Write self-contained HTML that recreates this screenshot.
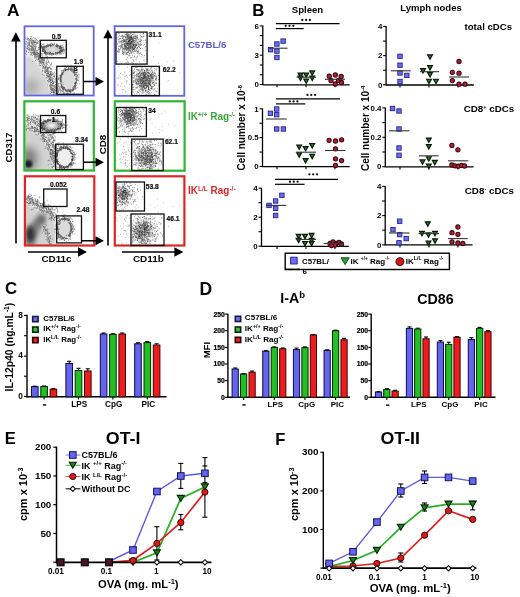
<!DOCTYPE html><html><head><meta charset="utf-8"><style>html,body{margin:0;padding:0;background:#fff;overflow:hidden;width:520px;height:597px;}svg{display:block;filter:blur(0.35px);}</style></head><body><svg width="520" height="597" viewBox="0 0 520 597" font-family="'Liberation Sans', sans-serif"><defs><filter id="b2" x="-50%" y="-50%" width="200%" height="200%"><feGaussianBlur stdDeviation="2.2"/></filter><filter id="b4" x="-50%" y="-50%" width="200%" height="200%"><feGaussianBlur stdDeviation="4"/></filter><filter id="b1" x="-50%" y="-50%" width="200%" height="200%"><feGaussianBlur stdDeviation="1.2"/></filter><clipPath id="c25"><rect x="25.3" y="26.8" width="67.5" height="68.8"/></clipPath><clipPath id="c100"><rect x="25.3" y="101.8" width="67.5" height="68.8"/></clipPath><clipPath id="c175"><rect x="25.3" y="176.8" width="67.5" height="68.8"/></clipPath></defs><text x="7" y="16.3" font-size="17.3" text-anchor="start" fill="#000" font-weight="bold" >A</text>
<line x1="16" y1="243.5" x2="16" y2="40" stroke="#000" stroke-width="1.6" />
<polygon points="15.90,32.20 11.10,41.50 20.70,41.50" fill="#000" stroke="none" stroke-width="1"/>
<text x="12.2" y="147.5" font-size="8.9" text-anchor="middle" fill="#000" font-weight="bold" transform="rotate(-90 12.2 147.5)" textLength="29.8" lengthAdjust="spacingAndGlyphs">CD317</text>
<line x1="28" y1="252" x2="80" y2="252" stroke="#000" stroke-width="1.6" />
<polygon points="87.00,252.00 78.00,247.30 78.00,256.70" fill="#000" stroke="none" stroke-width="1"/>
<text x="56.5" y="261.6" font-size="9.3" text-anchor="middle" fill="#000" font-weight="bold" textLength="30.2" lengthAdjust="spacingAndGlyphs">CD11c</text>
<line x1="108" y1="245.5" x2="108" y2="37" stroke="#000" stroke-width="1.6" />
<polygon points="107.90,29.50 103.40,38.30 112.50,38.30" fill="#000" stroke="none" stroke-width="1"/>
<text x="106.1" y="144.5" font-size="9.6" text-anchor="middle" fill="#000" font-weight="bold" transform="rotate(-90 106.1 144.5)" textLength="19.6" lengthAdjust="spacingAndGlyphs">CD8</text>
<line x1="122" y1="252" x2="176" y2="252" stroke="#000" stroke-width="1.6" />
<polygon points="183.40,252.00 174.40,247.30 174.40,256.70" fill="#000" stroke="none" stroke-width="1"/>
<text x="148.4" y="261.6" font-size="9.4" text-anchor="middle" fill="#000" font-weight="bold" textLength="31" lengthAdjust="spacingAndGlyphs">CD11b</text>
<g clip-path="url(#c25)">
<polygon points="24.0,40.0 32.0,42.0 40.0,50.0 46.0,58.0 52.0,68.0 57.0,78.0 59.0,88.0 58.0,98.0 24.0,98.0" fill="#eeeeee" filter="url(#b1)"/>
<polygon points="24.0,56.0 30.0,57.0 36.0,62.0 41.0,69.0 46.0,78.0 49.0,86.0 51.0,98.0 24.0,98.0" fill="#d6d6d6" filter="url(#b1)"/>
<ellipse cx="31" cy="87.0" rx="8" ry="8" fill="#aaaaaa" filter="url(#b4)"/>
<path d="M41.9 59.4h0M25.8 43.9h0M26.8 44.2h0M44.8 62.3h0M44.1 60.0h0M30.5 46.3h0M42.2 74.5h0M28.3 42.2h0M33.7 48.9h0M55.2 87.7h0M47.4 76.1h0M29.6 45.0h0M48.6 77.1h0M46.3 71.0h0M52.5 81.0h0M42.6 68.8h0M50.1 86.6h0M26.8 48.3h0M31.5 47.7h0M50.9 71.7h0M53.0 92.0h0M46.0 69.4h0M57.0 84.8h0M54.5 76.7h0M55.2 73.8h0M34.7 56.9h0M35.3 47.7h0M31.4 49.3h0M57.3 89.3h0M51.4 64.8h0M54.0 90.2h0M46.3 53.1h0M33.1 49.4h0M32.0 52.0h0M39.9 53.2h0M35.1 55.5h0M47.2 76.3h0M56.4 77.8h0M56.5 78.6h0M41.3 60.3h0M50.7 73.7h0M36.0 52.6h0M28.8 44.1h0M29.7 45.7h0M53.5 86.9h0M35.0 54.8h0M36.2 39.1h0M43.6 63.7h0M29.0 47.1h0M54.2 85.7h0M54.0 92.6h0M50.7 68.5h0M58.6 91.4h0M35.7 54.3h0M48.0 80.6h0M40.6 61.4h0M58.9 91.0h0M53.5 82.5h0M46.1 67.0h0M54.1 76.0h0M62.4 91.4h0M41.6 60.1h0M35.3 53.6h0M56.8 86.9h0M50.5 73.3h0M54.5 72.2h0M50.6 80.5h0M50.6 87.1h0M55.2 90.9h0M34.8 51.4h0M56.6 87.9h0M54.4 92.6h0M47.8 68.6h0M53.7 91.4h0M50.2 94.0h0M54.3 87.1h0M38.4 58.3h0M35.5 53.7h0M53.3 92.7h0M50.9 68.6h0M51.8 90.7h0M49.7 67.2h0M38.6 49.3h0M28.7 49.4h0M46.2 71.6h0M48.0 67.3h0M47.9 71.1h0M49.2 81.5h0M55.2 79.3h0M45.8 71.9h0M47.8 77.8h0M49.2 62.7h0M56.8 87.3h0M52.9 66.9h0M33.8 49.0h0M28.5 45.6h0M51.8 69.6h0M31.5 43.8h0M37.3 42.3h0M37.8 50.2h0M50.8 64.5h0M29.6 49.5h0M41.0 59.2h0M55.4 79.0h0M46.4 62.5h0M48.4 72.6h0M57.6 87.8h0M30.2 46.1h0M52.7 83.5h0M47.7 58.5h0M40.5 58.0h0M47.8 68.3h0M26.4 41.4h0M32.1 43.0h0M58.1 86.2h0M30.1 42.0h0M34.1 54.8h0M39.5 55.8h0M37.2 53.0h0M27.8 46.3h0M38.9 52.9h0M47.0 67.8h0M50.3 78.7h0M46.3 63.6h0M50.7 85.9h0M51.4 87.6h0M53.5 76.2h0M52.8 81.5h0M42.2 61.0h0M35.5 48.6h0M37.3 53.8h0M56.9 82.9h0M37.9 56.4h0M46.2 65.8h0M44.3 51.3h0M47.7 75.4h0M38.8 55.5h0M38.7 59.5h0M34.1 50.1h0M39.4 54.7h0M28.9 44.2h0M32.7 49.9h0M50.0 76.6h0M52.9 89.9h0M55.0 75.3h0M51.8 85.8h0M55.7 86.8h0M48.6 61.4h0M48.7 82.0h0M50.2 74.3h0M27.7 45.6h0M32.1 42.3h0M46.6 69.9h0M50.6 65.0h0M48.9 80.1h0M54.5 76.6h0M38.5 53.6h0M53.3 83.4h0M53.0 94.6h0M43.3 60.0h0M48.6 71.4h0M32.0 52.1h0M38.3 55.0h0M27.2 48.4h0M50.1 74.7h0M43.4 67.1h0M32.3 44.9h0M56.3 94.4h0M47.7 56.6h0M44.0 64.6h0M32.9 43.7h0M54.3 86.8h0M54.4 89.5h0M40.2 57.0h0M39.3 55.6h0M53.1 79.1h0M53.9 85.4h0M36.1 56.4h0M53.7 94.5h0M43.4 62.4h0M31.3 43.2h0M55.4 94.1h0M47.3 68.6h0M59.4 89.8h0M55.3 69.6h0M47.4 67.4h0M47.6 80.6h0M49.8 74.8h0M57.5 93.6h0M39.0 61.5h0M35.9 54.0h0M33.9 50.0h0M53.2 90.0h0M58.2 89.9h0M32.2 48.2h0M42.0 58.1h0M31.5 50.4h0M49.9 81.8h0M44.9 68.6h0M26.5 51.5h0M27.2 46.3h0M55.0 89.4h0M33.9 54.2h0M58.9 88.4h0M29.7 44.3h0M51.4 89.9h0M58.4 79.1h0M37.6 53.4h0M43.9 60.7h0M49.0 74.7h0M43.7 62.9h0M53.7 88.5h0M49.5 75.3h0M33.6 49.3h0M33.7 47.2h0M47.0 71.5h0M51.3 71.4h0M48.5 62.3h0M52.8 88.9h0M40.5 51.3h0M42.1 55.7h0M48.8 76.7h0M52.3 74.4h0M52.5 80.9h0M50.3 79.5h0M36.4 56.2h0M41.4 53.7h0M34.3 52.3h0M52.0 74.7h0M44.1 67.0h0M32.8 47.5h0M47.0 56.1h0M58.5 79.1h0M42.3 62.4h0M56.4 80.9h0M40.1 60.6h0M35.3 48.6h0M42.1 57.1h0M55.0 82.0h0M56.2 93.3h0M57.9 89.9h0M53.6 83.3h0M32.0 46.1h0M36.6 46.8h0M39.2 63.8h0M49.0 76.7h0M39.2 56.0h0M55.9 78.6h0M57.5 92.7h0M51.8 62.3h0M42.1 62.2h0M47.3 64.4h0M53.0 78.3h0M50.9 80.1h0M36.2 59.6h0M30.4 49.0h0M37.0 52.6h0M44.1 75.4h0M57.1 88.4h0M31.9 46.6h0M49.6 78.5h0M40.1 58.0h0M54.7 76.8h0M32.2 44.2h0M44.9 72.5h0M34.3 52.1h0M35.1 45.3h0M32.7 61.5h0M46.7 71.0h0M51.5 74.4h0M47.3 59.2h0M57.5 91.1h0M33.7 53.0h0M50.9 69.1h0M52.5 88.2h0M54.1 81.6h0M47.4 69.7h0M42.6 59.8h0M33.3 50.3h0M36.9 50.4h0M51.7 78.2h0M35.4 46.8h0M30.1 46.0h0M46.8 67.4h0M31.8 45.5h0M35.4 60.6h0M36.6 54.5h0M49.3 53.8h0M42.7 62.3h0M40.5 50.4h0M44.6 58.7h0M53.2 88.9h0M58.5 92.3h0M39.9 58.4h0M31.5 53.3h0M56.2 95.3h0M58.7 91.9h0M29.8 42.9h0M51.3 86.3h0M33.1 46.1h0M45.7 55.9h0M34.2 52.0h0M45.4 67.5h0M35.3 46.4h0M27.1 42.6h0M45.1 70.0h0M35.5 57.0h0M41.8 58.8h0M47.7 62.7h0M46.0 69.7h0M51.2 82.6h0M46.2 64.9h0M46.1 63.3h0M50.1 67.1h0M28.5 39.9h0M49.4 67.3h0M43.2 58.3h0M58.9 86.8h0M56.3 91.7h0M51.6 63.4h0M34.4 42.0h0M34.4 46.6h0M55.7 86.9h0M55.8 93.0h0M45.8 66.5h0M37.0 54.7h0M52.2 75.0h0M55.6 84.7h0M46.1 77.8h0M42.7 65.8h0M34.2 45.2h0M43.0 57.5h0M53.6 94.2h0M51.0 81.8h0M57.2 81.4h0M31.4 46.5h0M47.3 68.3h0M25.7 43.4h0M46.2 73.6h0M56.4 90.8h0M50.4 74.4h0M42.9 59.3h0M32.1 49.3h0M32.2 48.0h0M33.5 46.0h0M35.5 49.8h0M55.2 85.0h0M41.0 53.5h0M45.6 72.2h0M48.2 60.6h0M37.0 51.9h0M45.2 68.4h0M27.7 43.8h0M49.0 67.8h0M31.7 47.9h0M50.6 72.1h0M38.6 56.2h0M55.9 84.6h0M27.0 39.3h0M44.6 60.5h0M37.0 52.5h0M53.7 73.3h0M34.3 52.3h0M50.9 82.3h0M51.8 73.3h0M57.0 88.5h0M35.6 45.1h0M49.6 85.1h0M40.1 62.4h0M48.2 69.2h0M53.1 74.7h0M49.7 77.7h0M34.0 49.8h0M55.6 90.8h0M32.7 44.3h0M32.7 47.3h0M48.2 73.6h0M55.6 81.0h0M43.3 53.3h0M60.2 91.3h0M56.5 90.1h0M35.1 50.8h0M55.7 82.7h0M52.2 83.2h0M33.9 47.8h0M33.3 52.9h0M50.0 80.0h0M50.2 93.6h0M52.2 72.9h0M44.2 59.4h0M49.5 77.1h0M58.8 90.0h0M34.9 48.6h0M52.9 81.0h0M40.6 65.3h0M31.1 49.4h0M53.5 92.1h0M38.8 58.4h0M48.9 68.0h0" stroke="#666" stroke-width="0.84" stroke-linecap="round" fill="none"/>
<path d="M29.2 48.7h0M50.3 82.6h0M39.5 65.3h0M29.2 51.0h0M34.6 57.9h0M42.7 70.5h0M34.3 56.0h0M50.8 79.6h0M40.0 61.4h0M50.7 84.6h0M30.7 54.1h0M48.4 73.6h0M52.4 90.3h0M38.0 55.4h0M33.3 53.5h0M38.8 59.4h0M41.4 63.7h0M53.6 82.9h0M26.3 54.5h0M51.3 82.4h0M34.0 53.5h0M34.6 54.7h0M42.7 60.7h0M43.9 66.9h0M30.7 51.0h0M52.0 80.2h0M47.0 70.3h0M35.4 52.0h0M50.1 80.0h0M48.4 76.3h0M38.8 58.4h0M43.2 61.6h0M48.5 76.6h0M42.7 64.7h0M50.3 77.0h0M49.4 74.7h0M45.2 67.5h0M47.7 72.8h0M51.9 92.5h0M44.6 71.4h0M43.5 66.5h0M42.4 71.4h0M34.5 53.1h0M54.2 85.5h0M41.8 61.4h0M43.7 63.2h0M42.3 62.7h0M38.0 59.3h0M51.5 92.3h0M50.7 85.2h0M31.8 49.0h0M46.6 75.6h0M37.3 54.9h0M49.9 72.7h0M43.7 68.4h0M31.9 50.5h0M52.0 88.8h0M36.2 56.7h0M36.1 57.6h0M41.5 62.7h0M43.7 59.9h0M28.9 47.7h0M53.2 85.8h0M48.8 75.1h0M52.0 92.2h0M30.5 52.4h0M50.6 83.8h0M52.7 89.5h0M50.2 87.9h0M51.5 75.3h0M52.9 88.9h0M45.8 68.0h0M51.1 88.7h0M37.4 56.9h0M26.4 51.0h0M42.9 67.7h0M55.3 88.1h0M42.0 65.6h0M50.9 87.9h0M54.8 94.7h0M50.8 75.7h0M50.9 77.2h0M51.1 94.8h0M54.9 90.6h0M46.7 77.4h0M39.1 61.8h0M51.4 84.4h0M40.0 63.2h0M39.4 56.5h0M44.9 70.2h0M51.3 92.2h0M39.3 61.0h0M45.5 70.6h0M25.7 47.3h0M47.5 70.9h0M25.7 53.4h0M46.4 71.5h0M50.8 89.3h0M47.7 72.8h0M50.1 80.0h0M44.0 65.2h0M36.5 54.2h0M51.6 89.7h0M52.4 83.7h0M36.7 58.0h0M37.4 60.1h0M54.6 92.8h0M28.4 52.5h0M48.6 71.2h0M54.4 92.2h0M44.3 65.1h0M35.4 54.9h0M33.9 52.1h0M36.5 54.8h0M27.2 48.2h0M52.1 86.9h0M48.0 73.2h0M50.4 79.8h0M49.3 75.4h0M39.1 57.8h0M51.6 87.9h0M39.5 60.8h0M51.2 79.8h0M39.5 59.6h0M40.5 65.8h0M53.1 90.8h0M42.6 59.5h0M50.6 77.7h0M50.8 73.3h0M47.1 75.0h0M50.6 91.2h0M50.0 71.7h0M39.5 57.5h0M40.3 62.7h0M55.3 90.2h0M53.1 83.5h0M39.7 54.6h0M50.8 77.2h0M26.1 50.3h0M34.7 50.5h0M34.3 54.0h0M44.5 67.5h0M51.2 80.0h0M29.9 48.7h0M33.1 53.8h0M50.5 89.1h0M47.8 73.8h0M33.3 52.0h0M45.2 72.6h0M37.6 53.8h0M43.0 63.3h0M52.5 85.5h0M40.0 60.4h0M29.1 50.3h0M43.6 66.9h0M47.7 85.0h0M52.7 78.8h0M38.1 56.5h0M34.2 53.8h0M47.8 69.9h0M53.2 92.6h0M47.0 73.8h0M51.0 74.9h0M41.0 63.1h0M53.9 93.9h0M26.1 52.0h0M55.0 88.6h0M27.2 48.2h0M49.5 75.8h0M32.3 48.4h0M48.8 79.5h0M51.9 82.9h0M38.5 57.6h0M33.3 53.9h0M52.0 77.8h0M38.0 54.9h0M38.5 53.7h0M53.5 90.9h0M32.3 50.0h0M47.0 75.3h0M49.7 86.0h0M32.2 52.6h0M49.2 79.3h0M52.1 90.1h0M32.3 55.6h0M40.9 61.6h0M40.1 58.7h0M49.7 78.8h0M38.3 58.7h0M46.6 61.1h0M53.6 92.4h0M54.8 90.9h0M38.9 57.9h0M51.2 85.5h0M30.8 55.1h0M34.7 54.5h0M34.1 51.0h0M35.1 54.4h0M46.6 73.9h0M33.0 52.8h0M50.8 84.5h0M27.6 49.3h0M52.9 81.0h0M41.7 57.3h0M48.4 68.1h0M45.3 66.0h0M34.8 52.4h0M31.5 54.4h0M47.3 70.7h0M52.7 84.3h0M48.1 81.2h0" stroke="#606060" stroke-width="0.80" stroke-linecap="round" fill="none"/>
<path d="M30.9 36.5h0M34.0 42.1h0M40.8 43.3h0M31.5 40.9h0M31.9 40.0h0M28.5 38.5h0M25.6 37.9h0M36.2 41.9h0M41.9 46.0h0M27.4 39.7h0M33.4 41.6h0M26.9 38.0h0M27.4 38.6h0M31.8 36.5h0M31.6 42.6h0M33.4 45.0h0M39.9 46.4h0M29.1 42.6h0M43.5 44.2h0M43.4 46.9h0M44.5 47.0h0M33.8 40.4h0M38.1 43.4h0M37.0 42.5h0M44.2 43.9h0M39.4 40.7h0M44.4 47.1h0M31.4 39.3h0M38.7 41.8h0M30.0 40.1h0M42.9 48.8h0M40.0 45.4h0M42.1 47.4h0M34.6 41.8h0M30.2 40.6h0M34.3 42.5h0M25.7 38.6h0M35.7 42.6h0M30.3 38.4h0M35.5 41.7h0M32.9 41.8h0M34.7 43.9h0M29.7 39.6h0M33.7 40.4h0M40.8 45.8h0M41.5 46.7h0M31.8 42.1h0M29.7 43.6h0M40.7 46.1h0M32.6 38.9h0M42.5 44.5h0M39.8 42.2h0M36.2 39.6h0M44.9 49.3h0M27.3 36.9h0M38.0 41.9h0M35.4 38.3h0M36.5 44.7h0M35.1 40.6h0M32.8 40.6h0M33.8 37.7h0M35.1 42.7h0M34.0 42.3h0M40.4 45.1h0M34.8 38.2h0M43.8 49.1h0M43.1 47.0h0M33.5 43.1h0M34.9 44.0h0M33.9 42.3h0M32.9 42.8h0M35.9 40.1h0M37.7 43.5h0M32.5 40.5h0M43.9 46.2h0M31.3 38.0h0M30.5 40.3h0M28.4 43.9h0M40.5 45.9h0M41.3 44.0h0M45.1 46.8h0M29.5 41.7h0M36.5 43.4h0M37.0 42.9h0M43.6 47.6h0M34.9 40.1h0M40.5 44.5h0M39.5 44.9h0M28.7 40.1h0M30.8 38.9h0M42.5 47.2h0M30.8 41.9h0M29.8 40.1h0M37.4 40.6h0M41.2 45.8h0M39.3 47.6h0M34.2 42.0h0M30.6 38.3h0M32.0 41.4h0" stroke="#666" stroke-width="0.80" stroke-linecap="round" fill="none"/>
<ellipse cx="52.5" cy="49.5" rx="9.5" ry="4.2" fill="#c4c4c4" opacity="0.9" filter="url(#b1)"/>
<path d="M62.5 51.1h0M60.8 48.6h0M44.3 51.0h0M61.1 50.6h0M61.7 47.6h0M59.5 47.2h0M56.1 45.9h0M63.1 48.3h0M42.2 49.6h0M45.4 52.1h0M50.6 45.3h0M59.9 46.2h0M42.8 49.9h0M56.5 52.9h0M45.8 53.2h0M49.4 54.8h0M42.7 47.7h0M44.7 52.5h0M44.3 52.0h0M57.0 45.7h0M46.8 52.9h0M50.4 53.9h0M53.4 54.4h0M47.1 53.2h0M57.7 52.9h0M51.4 53.5h0M57.8 45.6h0M57.9 45.6h0M55.9 45.3h0M50.7 45.0h0M45.2 52.7h0M61.4 48.3h0M42.8 49.4h0M59.8 53.0h0M50.0 45.5h0M42.3 46.7h0M46.1 52.6h0M55.1 54.3h0M59.8 46.2h0M42.4 48.3h0M51.3 53.7h0M47.9 46.4h0M44.2 47.8h0M61.5 51.9h0M57.0 53.5h0M48.0 46.2h0M59.1 51.9h0M43.4 49.5h0M49.5 53.9h0M54.0 53.8h0M59.0 52.4h0M45.4 51.7h0M60.8 47.1h0M57.1 47.1h0M58.9 52.6h0M48.3 45.6h0M48.0 46.2h0M46.9 45.6h0M49.5 45.5h0M45.5 53.6h0M45.8 46.4h0M61.0 47.2h0M51.6 45.4h0M61.4 50.5h0M57.7 53.2h0M44.9 52.6h0M61.1 50.5h0M57.2 53.9h0M56.7 46.6h0M52.2 53.4h0M44.2 51.1h0M61.0 49.5h0M57.4 45.8h0M60.8 50.5h0M58.1 46.3h0M52.8 53.6h0M59.9 52.3h0M60.0 47.5h0M52.5 44.6h0M44.3 52.4h0M52.3 45.1h0M59.8 51.6h0M59.3 48.5h0M48.7 45.1h0M51.8 45.0h0M44.8 50.5h0M61.1 50.8h0M44.2 49.2h0M62.3 47.4h0M63.0 50.8h0M49.6 45.4h0M44.2 48.4h0M60.9 48.8h0M52.5 53.2h0M60.7 50.9h0M55.6 53.9h0M48.5 53.9h0M47.3 45.3h0M53.2 53.7h0M42.3 51.1h0M60.7 48.0h0M60.2 46.5h0M57.9 52.4h0M56.1 45.8h0M43.4 48.2h0M48.1 46.1h0M46.3 47.5h0M57.4 45.7h0M59.4 52.2h0M55.4 54.0h0M61.2 51.0h0M49.4 45.2h0M42.8 51.0h0M42.5 50.4h0M46.2 52.8h0M62.4 49.8h0M62.0 49.3h0M50.7 45.6h0M61.4 49.0h0M43.2 49.8h0M43.3 51.3h0M63.3 49.7h0M59.9 47.7h0M60.1 48.1h0M47.0 46.1h0M59.2 53.0h0M62.2 50.3h0M50.4 52.6h0M55.7 52.8h0M59.5 48.0h0M57.4 53.3h0M52.1 46.2h0M47.7 53.6h0M47.6 54.1h0M46.8 52.3h0M57.0 46.0h0M53.2 54.3h0M45.7 46.4h0M56.2 46.0h0M59.2 48.4h0M43.7 49.6h0M49.6 53.5h0M42.9 47.1h0M57.8 53.4h0M43.1 51.0h0M61.6 50.5h0M43.1 51.2h0M63.7 49.6h0M58.3 45.5h0M45.4 51.1h0M50.7 53.3h0M45.2 51.3h0M48.3 52.5h0M57.2 45.5h0M60.7 47.0h0M42.8 51.1h0M44.1 47.9h0M61.2 51.8h0M49.6 52.1h0M61.1 47.0h0M60.7 45.4h0M45.9 46.8h0M56.7 45.0h0M44.7 46.7h0M50.5 52.4h0M44.3 49.9h0M47.0 46.3h0M60.4 46.4h0M62.5 50.3h0M42.0 51.1h0M60.2 51.5h0M45.0 47.7h0M45.5 51.3h0M45.2 52.0h0M60.4 52.6h0M41.4 48.0h0M60.2 52.4h0M59.8 51.7h0M43.2 48.7h0M42.3 47.9h0M53.8 53.4h0M43.3 49.2h0M43.6 47.0h0M61.5 51.5h0M42.8 51.2h0M50.6 45.9h0M53.0 44.1h0M50.4 44.4h0M60.6 52.2h0M56.5 52.8h0M59.9 48.7h0M58.2 52.4h0M54.2 45.0h0M45.7 52.6h0M61.3 49.9h0M49.7 53.3h0M50.6 46.4h0M44.8 46.3h0M57.5 47.2h0M58.4 46.8h0" stroke="#444" stroke-width="0.76" stroke-linecap="round" fill="none"/>
<path d="M58.3 53.9h0M53.4 45.2h0M47.3 44.8h0M44.8 52.9h0M51.3 43.3h0M63.0 50.8h0M41.6 46.0h0M56.8 44.2h0M63.4 53.5h0M52.2 54.0h0M55.5 52.9h0M41.1 46.8h0M62.1 53.0h0M56.3 44.7h0M56.6 53.6h0M48.1 45.0h0M42.1 53.6h0M38.1 48.0h0M47.5 44.2h0M60.1 49.8h0M45.3 54.2h0M62.0 45.4h0M56.6 44.2h0M57.5 44.8h0M48.1 45.6h0M59.7 54.2h0M57.5 46.4h0M41.6 45.6h0M62.5 51.7h0M62.7 46.1h0M41.5 46.6h0M44.7 53.5h0M42.5 50.4h0M45.8 53.2h0M62.9 49.7h0M63.5 50.1h0M40.5 50.8h0M59.7 53.5h0M46.9 45.1h0M39.2 49.5h0M51.8 53.7h0M63.0 48.3h0M66.7 49.2h0M54.1 44.3h0M61.0 45.8h0M46.3 46.6h0M45.2 53.1h0M63.0 44.9h0M62.9 47.7h0M53.4 45.1h0M51.9 45.6h0M45.6 53.5h0M41.7 48.0h0M46.1 53.9h0M46.3 54.8h0M44.6 53.2h0M53.0 54.6h0M61.4 53.8h0M65.8 49.8h0M42.7 51.0h0M42.0 47.5h0M64.3 51.7h0M49.1 53.8h0M38.6 47.5h0M61.4 47.9h0M39.2 46.2h0M63.8 52.1h0M66.5 49.0h0M44.9 53.5h0M59.2 46.4h0M59.7 50.9h0M50.5 54.6h0M51.9 55.0h0M51.1 54.6h0M49.0 44.5h0M56.7 55.0h0M41.6 46.0h0M55.7 53.5h0M51.1 43.5h0M62.4 51.8h0M57.3 44.3h0M59.5 52.9h0M55.6 52.7h0M45.5 45.9h0M63.4 47.1h0M52.4 43.8h0M46.8 46.2h0M45.5 54.4h0M63.2 51.2h0M44.0 45.8h0M47.8 52.9h0M52.0 54.6h0M36.8 51.1h0M41.2 47.5h0M66.7 49.0h0M50.4 44.2h0M46.4 54.3h0M60.3 53.6h0M54.1 43.3h0M40.4 52.2h0M42.9 48.5h0M46.7 45.7h0M44.2 46.9h0M51.8 55.7h0M49.6 44.5h0M49.3 52.9h0M54.5 43.7h0M50.5 54.3h0M39.8 48.7h0M64.0 49.8h0M42.5 50.1h0M46.5 52.5h0M64.8 49.2h0M65.1 52.9h0M64.6 50.4h0M40.1 49.4h0M39.6 47.5h0M42.0 54.5h0M60.3 54.0h0M65.4 46.6h0" stroke="#666" stroke-width="0.70" stroke-linecap="round" fill="none"/>
<ellipse cx="52.5" cy="49.5" rx="4" ry="1.8" fill="#e4e4e4" filter="url(#b1)"/>
<ellipse cx="68.5" cy="80.0" rx="7.8" ry="11" fill="#dcdcdc" opacity="1" filter="url(#b1)"/>
<path d="M73.1 90.5h0M68.9 91.2h0M75.5 78.9h0M64.1 89.1h0M70.8 70.2h0M75.0 73.6h0M74.6 86.9h0M63.9 71.5h0M62.0 86.5h0M61.5 75.8h0M60.9 86.8h0M63.5 72.8h0M69.8 90.8h0M61.0 84.7h0M69.4 91.3h0M63.1 70.4h0M66.0 91.0h0M61.4 75.4h0M73.2 90.0h0M67.7 89.8h0M68.6 68.7h0M64.9 89.1h0M60.5 81.0h0M65.4 70.2h0M62.7 74.2h0M74.4 72.4h0M70.5 91.2h0M69.9 69.7h0M73.9 71.2h0M77.3 79.6h0M66.1 90.9h0M76.2 78.2h0M76.6 80.7h0M67.8 69.3h0M75.2 86.7h0M75.7 86.5h0M63.9 90.2h0M73.9 73.0h0M76.6 78.5h0M70.6 69.3h0M65.4 69.0h0M69.4 91.1h0M61.4 84.7h0M76.4 79.4h0M65.3 90.3h0M60.9 80.9h0M73.4 88.0h0M65.4 69.7h0M73.1 88.8h0M73.9 86.5h0M64.5 87.4h0M63.9 89.0h0M70.4 92.3h0M67.6 69.4h0M67.4 91.1h0M75.9 84.8h0M75.5 82.7h0M61.2 76.2h0M62.9 89.3h0M64.0 70.9h0M61.8 77.3h0M76.0 78.8h0M73.9 72.3h0M65.5 89.3h0M61.2 85.7h0M62.7 87.2h0M60.9 86.8h0M77.8 80.4h0M62.1 72.8h0M62.7 73.1h0M62.9 87.7h0M74.6 87.7h0M72.9 70.5h0M74.8 82.9h0M65.9 70.1h0M60.4 76.4h0M65.4 90.1h0M68.3 69.0h0M72.8 72.1h0M76.2 79.6h0M69.2 90.1h0M63.3 87.0h0M66.8 70.0h0M62.3 72.5h0M65.2 70.6h0M60.3 76.8h0M69.7 90.4h0M74.8 74.2h0M60.9 81.8h0M61.4 81.5h0M70.0 91.9h0M59.9 77.8h0M61.8 78.6h0M69.0 90.7h0M72.3 90.0h0M63.9 72.1h0M72.6 69.2h0M75.4 82.7h0M62.4 87.9h0M73.5 86.8h0M72.9 89.1h0M63.5 88.9h0M70.9 70.4h0M75.1 85.7h0M61.7 87.4h0M61.1 83.4h0M60.5 81.5h0M72.6 87.9h0M65.4 70.6h0M69.1 91.7h0M63.3 87.7h0M76.7 81.3h0M70.8 90.3h0M71.9 89.8h0M67.0 69.3h0M68.9 91.7h0M72.8 69.7h0M73.7 71.0h0M70.6 89.3h0M62.4 72.2h0M62.7 88.5h0M63.2 88.3h0M66.7 69.5h0M63.5 70.6h0M71.3 70.2h0M61.3 74.5h0M75.9 74.7h0M66.3 67.5h0M63.2 87.7h0M75.2 84.5h0M68.8 69.7h0M60.2 80.2h0M74.9 73.6h0M62.1 74.0h0M61.9 82.2h0M61.6 85.8h0M60.4 81.9h0M61.1 80.6h0M60.4 79.1h0M68.1 70.0h0M61.5 87.0h0M60.9 76.3h0M69.4 69.0h0M69.9 90.4h0M75.5 85.2h0M74.9 85.6h0M68.7 69.2h0M65.3 70.1h0M66.7 69.6h0M65.7 69.7h0M63.2 84.3h0M71.3 71.2h0M74.1 71.8h0M60.4 78.7h0M76.7 80.4h0M67.9 90.9h0M65.5 90.1h0M60.2 75.7h0M60.9 79.3h0M65.9 90.5h0M74.0 71.5h0M68.2 89.6h0M71.0 91.4h0M62.9 88.1h0M61.6 82.2h0M63.3 88.3h0M71.1 69.1h0M60.1 75.6h0M75.6 83.4h0M61.4 86.4h0M61.5 75.7h0M70.8 68.9h0M66.5 90.3h0M62.8 74.7h0M60.5 83.3h0M74.0 72.6h0M75.1 83.5h0M76.2 83.5h0M74.0 70.9h0M72.0 90.4h0M74.6 75.4h0M61.1 80.1h0M65.0 70.5h0M70.3 90.1h0M73.0 69.8h0M70.8 91.9h0M75.4 87.2h0M76.4 76.4h0M62.0 85.5h0M74.7 74.1h0M65.4 69.7h0M65.8 69.4h0M76.3 82.9h0M69.3 90.4h0M62.0 74.8h0M73.3 89.8h0M74.7 74.6h0M73.5 90.1h0M71.0 68.8h0M76.1 82.2h0M63.0 87.3h0M61.3 77.0h0M74.3 85.4h0M61.3 84.8h0M64.8 69.1h0M74.6 88.3h0M76.6 74.1h0M60.8 78.2h0M66.7 89.9h0M60.0 80.3h0M76.0 75.0h0M73.8 71.3h0M62.3 73.8h0M73.4 88.4h0M67.4 92.1h0M69.5 90.0h0M76.1 74.5h0M76.3 77.7h0M63.7 90.0h0M75.7 83.3h0M64.8 89.1h0M68.1 68.8h0M71.9 90.1h0M75.2 84.4h0M60.7 75.7h0M70.4 68.8h0M62.2 73.9h0M60.7 79.1h0M74.7 86.2h0M61.8 75.0h0M64.1 88.1h0M72.8 90.1h0M72.5 90.2h0M72.7 71.0h0M73.7 72.5h0M75.0 86.2h0M74.5 72.0h0M60.5 77.4h0M74.0 87.1h0M60.8 77.5h0M60.9 79.5h0M61.9 86.5h0M70.8 90.9h0M74.1 71.8h0M60.6 79.9h0M75.8 76.2h0M60.5 80.8h0M65.8 70.7h0M69.5 90.9h0M67.8 90.5h0M75.6 82.0h0M66.4 91.2h0M75.0 72.5h0M69.3 91.5h0M61.9 73.7h0M74.9 83.7h0M68.7 89.2h0M75.2 82.5h0M63.0 72.9h0M64.7 88.1h0" stroke="#4a4a4a" stroke-width="0.76" stroke-linecap="round" fill="none"/>
<path d="M71.4 70.2h0M78.7 80.9h0M76.9 75.5h0M77.2 87.3h0M68.8 93.0h0M73.4 89.3h0M62.8 91.4h0M70.4 93.6h0M62.3 95.1h0M70.9 67.8h0M60.4 81.4h0M76.7 72.8h0M68.6 67.3h0M61.9 71.1h0M74.1 69.0h0M66.6 67.6h0M62.1 92.0h0M63.0 66.0h0M68.2 65.3h0M78.7 74.3h0M76.5 72.6h0M71.1 69.7h0M61.6 74.0h0M70.7 66.2h0M74.7 71.1h0M56.8 76.8h0M79.3 74.8h0M71.1 65.1h0M68.4 93.7h0M71.5 91.8h0M59.0 83.5h0M77.5 72.0h0M64.7 68.1h0M70.4 68.2h0M70.9 68.4h0M72.1 70.6h0M59.5 88.2h0M73.9 67.9h0M64.0 89.6h0M70.8 68.5h0M78.1 80.4h0M76.0 88.5h0M71.8 69.1h0M58.5 83.7h0M63.4 91.6h0M74.4 68.2h0M61.4 71.1h0M67.2 93.6h0M65.9 69.0h0M72.1 67.1h0M75.5 89.0h0M72.7 68.4h0M72.3 91.7h0M60.7 92.3h0M70.2 94.3h0M75.6 72.5h0M62.6 86.3h0M58.8 79.4h0M78.8 79.0h0M74.4 93.0h0M58.3 77.6h0M77.7 75.5h0M58.9 83.8h0M63.0 89.9h0M75.0 86.5h0M59.4 78.9h0M60.3 90.8h0M64.0 69.5h0M76.6 85.6h0M77.3 76.8h0M62.6 89.4h0M62.3 88.3h0M59.7 78.3h0M60.5 80.1h0M61.9 90.3h0M73.4 68.7h0M64.9 69.1h0M68.6 67.3h0M75.9 71.8h0M76.6 82.5h0M63.4 93.5h0M77.4 70.3h0M73.9 89.3h0M77.3 83.6h0M60.9 88.3h0M66.9 91.3h0M69.2 67.2h0M59.0 87.0h0M77.2 78.4h0M64.7 69.7h0M60.4 90.3h0M65.1 68.1h0M66.7 93.8h0M73.4 67.1h0M71.1 67.7h0M58.4 78.6h0M76.0 70.1h0M73.8 93.1h0M64.5 93.1h0M61.1 89.1h0M78.6 77.1h0M65.0 92.1h0M77.9 75.3h0M58.8 85.4h0M76.0 88.3h0M60.5 89.5h0M77.9 77.0h0M77.2 72.4h0M58.6 84.3h0M70.1 68.5h0M64.3 93.2h0M57.7 82.8h0M60.1 75.6h0M67.2 91.3h0M61.5 91.0h0M66.3 92.1h0M61.9 70.5h0M79.4 83.9h0M72.7 69.2h0M77.3 75.3h0M67.5 93.2h0M58.9 75.9h0M68.7 67.3h0M71.7 68.7h0M75.6 88.1h0M79.2 77.0h0M62.4 70.7h0M61.9 86.9h0M77.5 75.2h0M61.5 87.6h0M71.7 68.0h0M75.6 70.0h0M60.2 77.7h0M76.3 72.5h0M74.9 89.6h0M59.9 87.0h0M58.0 79.8h0M60.8 74.5h0M61.0 87.0h0M73.8 69.4h0M70.9 66.8h0M64.1 68.9h0M68.7 69.4h0M76.3 72.2h0M68.0 66.1h0M74.7 72.0h0M74.8 89.3h0M62.1 72.6h0M66.8 94.5h0M73.1 67.6h0M67.1 93.3h0M77.1 87.8h0M63.4 66.3h0M62.5 89.9h0M65.0 65.5h0M63.7 92.7h0" stroke="#666" stroke-width="0.70" stroke-linecap="round" fill="none"/>
</g>
<g clip-path="url(#c100)">
<polygon points="24.0,117.0 30.0,115.0 38.0,119.0 44.0,127.0 50.0,135.0 54.0,143.0 56.0,151.0 57.0,161.0 56.0,173.0 24.0,173.0" fill="#ececec" filter="url(#b1)"/>
<polygon points="24.0,130.0 32.0,131.0 38.0,133.0 44.0,139.0 48.0,147.0 51.0,157.0 53.0,173.0 24.0,173.0" fill="#d2d2d2" filter="url(#b1)"/>
<ellipse cx="29" cy="159.0" rx="8" ry="12" fill="#7a7a7a" filter="url(#b4)"/>
<ellipse cx="28.5" cy="164.0" rx="3.8" ry="3.8" fill="#1c1c2c" filter="url(#b1)"/>
<path d="M42.3 124.0h0M51.3 136.3h0M56.4 155.9h0M51.3 143.8h0M52.4 142.7h0M38.8 115.8h0M55.3 136.9h0M49.2 140.8h0M52.9 144.6h0M57.4 159.0h0M43.3 125.1h0M50.8 134.8h0M52.7 142.1h0M43.9 128.4h0M41.4 127.5h0M48.2 135.5h0M54.6 148.5h0M48.9 130.2h0M60.2 147.3h0M53.9 146.7h0M41.5 120.4h0M52.6 146.0h0M45.5 129.8h0M54.7 166.2h0M30.3 124.2h0M53.4 153.4h0M32.4 122.2h0M54.7 131.7h0M49.5 153.2h0M33.8 120.9h0M50.2 136.3h0M28.8 118.7h0M58.0 162.0h0M50.3 151.7h0M55.2 155.8h0M34.0 118.9h0M26.8 117.3h0M54.0 133.2h0M52.6 136.9h0M55.0 139.2h0M53.4 144.3h0M54.0 160.6h0M53.4 140.6h0M44.7 129.2h0M52.9 147.0h0M57.1 148.9h0M43.5 124.6h0M35.2 117.9h0M52.4 136.9h0M54.1 140.5h0M55.4 167.9h0M56.3 148.4h0M55.4 149.2h0M55.3 163.7h0M26.9 126.4h0M33.6 114.8h0M54.7 141.2h0M37.3 119.6h0M33.8 117.4h0M35.3 118.1h0M53.6 137.6h0M55.2 158.6h0M50.1 154.4h0M46.7 131.4h0M55.5 153.2h0M50.0 139.2h0M56.0 151.9h0M29.5 116.9h0M52.8 134.8h0M50.0 137.5h0M57.3 143.8h0M27.7 119.8h0M56.7 153.4h0M55.0 164.3h0M31.1 121.7h0M49.1 139.3h0M42.8 126.3h0M54.5 155.5h0M57.3 156.4h0M48.2 128.8h0M50.9 163.8h0M37.5 124.4h0M44.5 126.7h0M51.3 159.4h0M59.0 142.6h0M54.0 151.8h0M48.1 129.4h0M57.2 157.3h0M55.3 145.0h0M53.3 152.2h0M53.3 158.1h0M36.9 125.3h0M29.1 118.4h0M53.2 135.0h0M52.3 153.5h0M29.2 120.5h0M57.2 160.0h0M55.8 147.1h0M45.7 126.4h0M54.3 147.1h0M42.8 122.9h0M35.7 127.3h0M49.5 140.4h0M51.4 137.4h0M27.7 119.6h0M44.6 127.8h0M53.4 132.6h0M39.6 121.1h0M28.3 120.8h0M49.4 147.1h0M31.2 117.0h0M60.0 155.9h0M40.1 116.8h0M53.3 144.7h0M36.3 118.8h0M49.6 141.5h0M35.1 120.5h0M52.0 167.6h0M51.6 138.9h0M25.7 120.2h0M52.1 166.9h0M32.2 116.7h0M42.6 126.8h0M38.8 119.6h0M44.8 125.6h0M35.7 122.5h0M41.9 124.5h0M58.9 158.7h0M55.0 155.9h0M49.6 132.4h0M55.2 147.7h0M49.7 134.4h0M48.2 131.1h0M37.3 128.0h0M52.8 137.9h0M49.0 146.9h0M55.8 162.5h0M53.0 161.9h0M35.0 117.9h0M27.7 124.9h0M48.1 130.4h0M47.2 132.7h0M52.3 144.9h0M53.2 165.2h0M50.8 139.3h0M51.4 138.8h0M59.0 151.5h0M50.9 161.0h0M35.0 123.3h0M56.7 160.4h0M35.0 116.0h0M51.6 164.4h0M26.6 120.8h0M41.9 131.9h0M53.1 133.1h0M37.4 118.8h0M53.1 166.5h0M53.8 166.0h0M42.6 125.3h0M47.1 131.8h0M44.0 129.4h0M31.7 120.2h0M55.9 164.6h0M45.0 132.3h0M27.1 121.3h0M49.2 139.7h0M52.1 153.9h0M54.2 169.8h0M51.8 130.9h0M31.8 118.4h0M45.7 122.3h0M41.1 128.5h0M52.8 150.5h0M30.4 122.5h0M53.8 133.2h0M55.4 164.6h0M53.4 158.5h0M53.6 147.8h0M39.8 126.3h0M27.6 115.1h0M46.2 127.7h0M52.9 145.4h0M55.5 161.3h0M48.8 129.5h0M51.8 127.5h0M37.1 118.5h0M53.4 142.4h0M37.3 122.8h0M27.7 122.7h0M49.8 131.2h0M52.7 161.0h0M52.3 147.2h0M53.0 133.2h0M28.2 124.4h0M56.5 147.1h0M50.7 135.0h0M35.6 117.5h0M40.2 118.7h0M57.6 153.4h0M38.9 120.2h0M53.9 148.9h0M26.2 125.6h0M54.5 146.9h0M36.9 115.4h0M30.6 121.9h0M39.0 126.4h0M39.7 122.6h0M36.5 121.3h0M53.3 150.9h0M52.3 150.8h0M38.1 118.1h0M29.1 123.4h0M44.4 125.9h0M55.0 151.4h0M53.5 143.0h0M55.2 151.1h0M27.0 115.0h0M32.9 122.2h0M28.3 116.7h0M35.6 123.8h0M58.5 148.7h0M35.7 124.5h0M49.1 141.7h0M34.3 123.8h0M39.9 124.0h0M56.5 147.0h0M55.7 160.9h0M41.4 123.7h0M53.1 140.9h0M53.6 139.9h0M53.2 158.3h0M27.1 118.3h0M43.1 123.4h0M55.3 151.8h0M42.8 128.1h0M53.7 146.6h0M47.6 127.8h0M38.1 129.3h0M54.0 160.7h0M46.6 129.5h0M32.0 119.7h0M27.3 119.4h0M45.0 125.9h0M53.3 151.3h0M51.2 132.3h0M25.5 124.5h0M32.3 119.4h0M28.1 118.2h0M35.8 123.5h0M46.0 131.0h0M39.2 121.3h0M38.3 116.4h0M48.1 160.9h0M51.5 143.1h0M53.9 145.8h0M36.5 119.4h0M53.6 155.5h0M30.1 123.7h0M33.8 117.0h0M33.8 116.8h0M30.3 122.2h0M54.6 156.7h0M49.7 146.6h0M52.5 167.6h0M54.5 156.7h0M42.7 129.5h0M30.7 124.3h0M42.2 124.6h0M54.5 156.1h0M59.2 152.8h0M55.1 147.8h0M49.2 147.0h0M28.9 118.1h0M51.8 158.6h0M56.1 154.9h0M54.8 157.7h0M58.4 144.8h0M48.4 137.3h0M55.7 146.1h0M35.2 122.1h0M28.9 118.6h0M54.8 153.6h0M27.4 117.3h0M44.2 134.5h0M53.5 166.6h0M49.1 160.1h0M52.0 153.7h0M54.5 140.4h0M51.7 154.3h0M49.3 126.5h0M34.3 122.1h0M54.5 161.9h0M58.7 161.1h0M46.4 127.1h0M53.3 153.6h0M54.9 147.3h0M58.0 158.1h0M43.0 121.4h0M34.9 122.3h0M55.5 151.6h0M48.6 132.5h0M58.6 163.1h0M57.1 158.1h0M51.3 131.2h0M45.4 125.9h0M58.2 158.5h0M53.5 161.0h0M53.7 139.0h0M52.1 142.2h0M43.3 129.2h0M31.3 118.3h0M54.0 145.2h0M36.8 121.9h0M53.8 138.9h0M51.1 134.3h0M53.4 144.8h0M55.7 154.9h0M53.9 162.7h0M28.8 115.1h0M28.0 119.8h0M52.5 169.9h0M38.5 123.2h0M44.3 127.4h0M33.4 120.3h0M33.8 122.8h0M31.5 120.0h0M48.3 164.8h0M49.8 135.7h0M32.6 119.8h0M56.6 145.7h0M41.1 127.6h0M52.4 146.6h0M54.7 156.9h0M54.6 153.4h0M55.2 140.3h0M46.0 133.5h0M52.6 137.0h0M28.5 123.0h0M51.0 149.9h0M46.1 124.5h0M46.2 129.9h0M55.2 158.6h0M38.7 125.4h0M45.9 125.2h0M54.0 134.0h0M47.3 134.8h0M52.8 138.3h0M42.1 128.9h0M52.8 159.7h0M43.1 123.9h0M55.5 145.8h0M27.6 118.1h0M39.1 121.7h0M53.0 142.4h0M49.0 160.5h0M31.3 116.9h0M35.1 114.2h0M49.6 131.0h0M48.0 145.3h0M27.3 120.9h0M30.9 119.8h0M48.9 133.8h0M46.7 126.3h0M45.1 130.1h0M59.4 164.2h0M34.7 120.9h0M43.2 125.3h0M50.0 134.9h0M48.3 126.8h0M50.7 128.4h0M37.3 129.7h0M58.1 154.9h0M33.2 121.3h0M58.7 145.8h0M54.2 151.8h0M51.1 154.8h0M51.1 135.1h0M61.2 161.6h0M51.3 143.3h0M43.3 119.8h0M58.3 144.3h0M51.6 149.7h0M37.6 121.3h0M52.8 156.7h0M60.6 164.1h0M57.1 153.8h0M54.7 136.1h0M47.9 129.3h0M56.3 152.6h0M32.2 116.1h0M53.9 152.5h0M55.7 144.8h0M55.0 151.6h0M35.3 127.6h0M58.0 162.2h0M53.2 133.6h0M50.0 129.1h0M53.6 162.9h0M56.9 152.8h0M30.3 119.5h0M56.9 151.8h0M44.5 132.6h0M55.6 155.7h0M44.0 132.6h0M50.5 153.5h0" stroke="#666" stroke-width="0.84" stroke-linecap="round" fill="none"/>
<path d="M35.8 131.2h0M31.9 130.4h0M41.2 135.7h0M43.8 135.4h0M51.9 156.7h0M49.8 140.8h0M44.4 141.3h0M45.5 137.7h0M49.3 146.4h0M32.7 130.7h0M52.5 155.0h0M47.0 143.4h0M34.3 130.3h0M44.0 138.7h0M46.2 136.9h0M34.1 127.9h0M52.5 155.2h0M48.1 139.8h0M45.7 139.2h0M35.5 130.3h0M43.9 140.4h0M46.0 147.0h0M44.5 141.2h0M46.8 145.1h0M39.2 131.4h0M52.0 155.9h0M46.5 140.8h0M32.3 126.6h0M53.0 141.8h0M48.4 143.7h0M38.3 131.9h0M43.6 133.6h0M51.6 149.7h0M34.0 128.3h0M51.1 157.4h0M43.0 141.6h0M41.3 133.9h0M51.3 149.8h0M49.6 147.3h0M38.2 129.9h0M54.2 156.7h0M49.3 145.0h0M43.8 141.6h0M37.0 131.3h0M29.9 127.3h0M30.7 128.8h0M44.4 140.3h0M28.2 128.7h0M35.8 129.0h0M50.6 150.3h0M42.6 137.6h0M50.4 149.5h0M48.8 150.6h0M50.6 153.2h0M30.2 129.1h0M28.8 127.1h0M34.6 131.6h0M36.8 131.5h0M41.0 130.9h0M42.5 135.6h0M32.5 126.8h0M32.3 128.4h0M44.2 138.2h0M49.2 144.4h0M32.3 127.4h0M51.0 145.0h0M26.4 129.6h0M36.5 130.5h0M51.3 157.8h0M48.5 145.1h0M47.7 144.6h0M52.9 154.7h0M44.8 139.3h0M44.7 136.0h0M52.2 152.6h0M31.2 128.8h0M47.8 142.1h0M54.2 156.7h0M51.4 149.5h0M26.1 127.0h0M39.2 131.4h0M48.3 149.4h0M43.2 135.5h0M50.8 143.9h0M34.4 127.0h0M29.2 130.2h0M27.6 128.4h0M52.3 151.7h0M52.0 150.0h0M48.9 139.9h0M50.6 154.4h0M43.5 138.1h0M38.4 133.4h0M34.9 131.7h0M42.4 138.6h0M32.6 128.7h0M49.3 144.7h0M44.9 141.5h0M43.8 138.6h0M40.6 131.5h0M43.7 135.7h0M42.1 137.0h0M40.2 130.5h0M35.0 132.3h0M46.9 140.8h0M48.6 144.9h0M44.1 134.0h0M43.1 134.5h0M50.5 150.2h0M31.4 126.1h0M43.1 137.9h0M43.2 133.7h0M51.9 149.4h0M40.3 139.0h0M34.5 130.1h0M52.2 152.6h0M52.1 149.7h0M34.4 127.6h0M32.5 127.6h0M40.2 133.6h0M25.7 129.1h0M38.2 130.4h0M36.4 129.3h0M46.8 142.2h0M51.8 150.3h0M45.4 139.6h0M26.5 130.2h0M46.1 140.8h0M34.3 131.1h0M40.9 132.8h0M52.1 159.6h0M34.7 129.5h0M28.5 125.4h0M37.2 129.1h0M53.4 157.0h0M33.5 128.0h0M49.2 149.9h0M51.3 149.3h0M45.1 148.5h0M28.8 128.7h0M26.7 128.4h0M38.7 134.2h0M37.0 129.6h0M52.8 157.9h0M42.0 139.5h0M35.9 128.5h0M37.7 131.2h0M40.9 133.3h0M42.2 134.9h0M44.7 139.6h0M49.8 151.9h0M50.6 156.4h0M31.7 126.8h0M41.8 136.4h0M47.3 149.0h0M40.5 133.2h0M37.5 129.2h0M46.5 143.7h0M35.4 131.3h0M48.6 146.7h0M31.1 128.1h0M43.9 139.5h0M29.5 128.9h0M30.9 131.0h0M43.7 136.9h0M46.6 141.4h0M48.1 148.8h0M36.2 134.6h0M50.1 148.9h0M50.8 142.0h0M51.6 154.6h0M52.0 153.2h0M48.3 138.3h0M43.7 133.4h0M46.1 137.5h0M51.0 153.0h0M39.9 132.8h0M48.0 142.3h0M37.1 135.0h0M54.5 149.5h0M42.9 134.3h0M52.3 151.5h0M38.5 131.9h0M43.5 136.9h0M31.5 127.1h0M49.2 148.3h0M51.1 157.8h0M50.6 152.4h0M41.4 135.3h0M50.3 156.5h0M47.0 137.9h0M50.7 145.3h0M33.3 131.6h0M46.4 144.1h0M34.1 127.9h0M44.8 136.5h0M47.5 147.8h0" stroke="#606060" stroke-width="0.80" stroke-linecap="round" fill="none"/>
<ellipse cx="51.5" cy="125.5" rx="10" ry="5.2" fill="#a8a8a8" opacity="0.9" filter="url(#b1)"/>
<path d="M59.6 128.3h0M39.9 126.2h0M44.9 128.9h0M42.6 127.4h0M61.8 125.6h0M55.9 121.4h0M43.3 124.1h0M57.8 128.8h0M53.1 120.7h0M54.3 119.3h0M46.9 120.6h0M47.4 121.4h0M61.3 123.9h0M42.6 128.4h0M41.0 125.2h0M58.6 121.4h0M43.5 129.0h0M42.1 122.9h0M54.6 129.6h0M42.0 127.5h0M41.4 125.4h0M60.4 123.3h0M55.3 131.4h0M42.0 123.2h0M41.4 124.2h0M47.3 131.4h0M50.0 120.2h0M44.6 120.7h0M44.9 129.1h0M45.3 121.4h0M47.6 120.2h0M50.3 119.7h0M60.6 129.0h0M59.0 126.8h0M51.6 131.1h0M60.5 128.3h0M41.5 125.8h0M40.8 126.9h0M44.3 129.4h0M57.6 128.3h0M53.3 131.2h0M59.3 128.8h0M48.0 120.2h0M53.1 128.6h0M61.3 126.7h0M59.5 123.6h0M43.8 128.7h0M61.4 123.8h0M42.7 125.2h0M52.7 120.1h0M56.0 121.3h0M43.1 128.4h0M58.1 122.7h0M41.3 123.4h0M42.6 126.7h0M42.5 123.7h0M58.8 121.2h0M59.2 121.8h0M63.1 124.7h0M44.7 121.6h0M56.7 121.4h0M48.4 130.5h0M49.2 120.5h0M45.8 121.8h0M46.0 121.2h0M42.4 127.3h0M47.4 129.7h0M58.0 129.0h0M46.9 121.2h0M47.4 131.4h0M41.7 124.0h0M50.4 120.6h0M60.8 127.7h0M49.9 120.4h0M44.4 129.5h0M40.4 125.5h0M42.0 128.4h0M48.1 130.9h0M60.4 124.5h0M53.0 131.1h0M60.6 124.6h0M57.2 120.3h0M43.6 128.7h0M58.5 128.5h0M58.9 126.5h0M54.6 130.9h0M42.1 127.4h0M56.7 129.3h0M44.1 125.0h0M60.5 122.0h0M52.2 130.1h0M60.8 126.5h0M41.3 127.4h0M43.4 123.0h0M48.4 119.2h0M60.1 129.1h0M48.3 130.4h0M44.6 129.1h0M58.3 129.1h0M57.3 129.7h0M53.3 130.9h0M55.0 130.5h0M40.1 124.8h0M41.4 128.5h0M51.4 130.8h0M63.3 127.4h0M50.9 119.1h0M41.7 128.8h0M43.0 122.4h0M60.3 127.5h0M48.6 121.4h0M49.9 130.1h0M41.0 125.6h0M49.3 131.2h0M43.2 122.9h0M44.7 121.1h0M60.5 128.3h0M52.6 130.0h0M57.9 128.4h0M49.6 120.4h0M46.0 128.4h0M49.8 131.3h0M64.3 124.7h0M58.7 124.1h0M51.0 131.0h0M53.9 129.7h0M60.2 125.4h0M43.8 124.0h0M60.7 128.1h0M51.0 130.4h0M43.7 121.9h0M48.9 119.8h0M59.5 128.4h0M42.1 126.3h0M45.7 121.4h0M55.0 130.2h0M60.2 124.3h0M43.9 129.5h0M48.2 120.6h0M44.7 128.0h0M43.1 123.5h0M60.9 123.9h0M61.9 124.3h0M45.3 126.2h0M56.9 121.0h0M48.9 119.4h0M61.9 123.3h0M50.6 129.6h0M53.6 121.0h0M44.6 129.4h0M54.9 119.9h0M47.6 121.8h0M56.7 130.5h0M54.2 131.2h0M46.0 130.2h0M49.4 120.2h0M53.3 130.9h0M56.8 121.6h0M48.3 130.4h0M62.7 125.9h0M42.4 127.5h0M58.0 121.5h0M42.3 130.3h0M52.9 130.7h0M51.3 131.0h0M49.0 120.4h0M43.6 123.2h0M49.2 130.6h0M58.9 124.8h0M61.0 121.2h0M58.7 129.2h0M49.1 120.6h0M55.0 120.9h0M54.8 121.4h0M56.6 129.4h0M43.6 128.5h0M55.0 130.2h0M53.1 121.2h0M46.1 122.6h0M54.7 121.5h0M43.5 123.7h0M42.9 130.2h0M58.8 128.3h0M62.1 123.0h0M46.3 122.0h0M52.8 121.6h0M43.9 126.9h0M47.2 130.5h0M58.0 128.3h0M51.6 129.9h0M47.3 120.5h0M57.8 129.3h0M43.0 125.7h0M64.0 125.4h0M41.7 127.3h0M55.4 129.4h0M61.6 124.6h0M41.5 127.1h0M60.2 126.0h0M61.2 124.0h0M41.9 128.5h0M44.4 123.3h0M52.2 130.4h0M42.6 129.1h0M46.0 121.8h0M43.7 122.3h0M61.8 125.4h0M62.5 125.9h0M60.8 128.7h0M56.9 120.9h0M47.6 119.5h0M43.3 123.0h0M41.7 122.7h0M50.8 130.7h0M43.2 121.4h0M44.0 129.4h0M42.0 125.7h0M50.3 120.2h0M54.5 120.8h0M43.7 122.6h0" stroke="#3a3a3a" stroke-width="0.76" stroke-linecap="round" fill="none"/>
<path d="M62.4 119.8h0M63.2 127.2h0M60.0 121.5h0M61.3 122.8h0M57.8 119.4h0M41.2 122.8h0M43.1 129.5h0M39.8 120.3h0M47.5 129.1h0M41.2 123.2h0M57.4 123.7h0M61.4 126.4h0M42.3 126.7h0M62.8 124.4h0M44.5 122.1h0M38.9 124.2h0M47.9 119.4h0M46.2 131.1h0M62.7 120.0h0M65.0 126.8h0M43.8 120.3h0M43.3 129.3h0M53.2 131.3h0M43.5 122.4h0M47.7 129.2h0M53.3 120.6h0M63.5 123.6h0M40.3 130.4h0M44.2 130.8h0M40.9 123.5h0M53.4 119.2h0M49.9 131.6h0M37.9 125.8h0M58.0 120.4h0M44.9 128.0h0M61.8 127.7h0M45.2 131.2h0M47.1 131.8h0M48.0 120.0h0M55.3 119.8h0M36.8 125.2h0M58.1 118.6h0M54.8 133.2h0M53.0 131.0h0M66.5 125.5h0M59.5 128.3h0M52.8 119.1h0M56.3 121.3h0M62.2 125.0h0M65.4 121.8h0M47.1 130.7h0M57.2 121.5h0M40.3 123.0h0M38.0 123.6h0M61.5 131.2h0M52.0 130.2h0M47.6 119.8h0M53.6 119.8h0M52.7 119.4h0M48.9 132.0h0M52.7 121.1h0M58.6 131.1h0M59.5 128.6h0M59.8 132.2h0M62.7 128.3h0M45.7 120.4h0M62.4 128.6h0M62.3 120.0h0M41.4 128.7h0M44.7 130.8h0M52.2 132.1h0M53.5 120.9h0M39.6 124.3h0M42.8 129.3h0M48.3 131.2h0M55.0 133.1h0M46.2 130.7h0M41.0 119.3h0M42.3 126.1h0M65.9 122.6h0M43.0 126.9h0M51.1 130.9h0M50.7 132.6h0M53.1 118.6h0M55.4 128.4h0M36.6 126.4h0M40.6 130.4h0M45.1 128.7h0M58.9 129.1h0M60.4 123.2h0M45.3 120.6h0M48.0 132.6h0M43.7 126.9h0M62.6 121.8h0M58.2 123.8h0M60.0 130.5h0M60.3 123.1h0M43.4 127.9h0M67.7 125.0h0M57.0 119.6h0M42.3 130.2h0M51.7 119.9h0M40.3 126.6h0M55.6 119.2h0M49.5 117.0h0M54.3 133.0h0M44.2 129.1h0M62.2 121.1h0M62.1 123.6h0M60.2 129.0h0M60.5 127.6h0M40.0 127.5h0M62.4 124.9h0M39.8 128.8h0M58.5 132.1h0M40.4 124.0h0M40.3 128.3h0M37.3 125.8h0M37.4 128.0h0M54.7 131.4h0M64.2 127.7h0M54.3 118.7h0M61.3 121.4h0M36.7 128.3h0M39.9 124.1h0M62.8 128.0h0M45.7 120.4h0M60.9 122.9h0M56.7 120.0h0M39.0 123.3h0M44.4 120.3h0M38.5 126.0h0" stroke="#666" stroke-width="0.70" stroke-linecap="round" fill="none"/>
<ellipse cx="51.5" cy="125.5" rx="4.2" ry="2.2" fill="#f4f4f4" filter="url(#b1)"/>
<ellipse cx="64.5" cy="157.5" rx="8" ry="10" fill="#eeeeee" opacity="1" filter="url(#b1)"/>
<path d="M72.3 159.6h0M63.2 166.4h0M56.9 160.9h0M68.0 167.0h0M67.4 149.3h0M59.7 165.9h0M67.1 148.9h0M58.6 163.4h0M56.6 153.5h0M60.1 147.1h0M56.8 155.5h0M60.6 165.9h0M65.5 167.5h0M57.0 160.9h0M70.0 150.0h0M62.2 165.9h0M65.4 167.3h0M63.2 148.2h0M59.8 165.6h0M67.4 149.2h0M71.3 156.7h0M73.6 158.2h0M70.7 149.9h0M58.3 164.1h0M65.5 147.8h0M66.3 147.3h0M56.9 154.4h0M71.7 159.6h0M65.6 147.4h0M73.1 157.5h0M64.1 166.9h0M59.8 150.7h0M57.1 161.0h0M66.5 166.1h0M57.4 155.5h0M66.9 166.3h0M61.6 166.6h0M59.7 165.9h0M63.5 148.0h0M63.6 147.8h0M70.4 164.2h0M70.8 163.0h0M64.4 166.9h0M70.4 150.9h0M71.7 153.8h0M61.5 147.0h0M57.1 153.8h0M73.5 154.3h0M72.2 158.3h0M67.2 167.5h0M57.2 161.8h0M68.6 149.0h0M61.2 168.2h0M63.4 167.5h0M66.5 167.7h0M70.6 164.6h0M67.9 166.5h0M56.3 161.1h0M62.1 165.8h0M63.2 147.8h0M59.6 166.7h0M57.5 153.9h0M56.7 159.0h0M70.7 150.7h0M57.5 150.4h0M71.1 150.4h0M72.2 159.6h0M57.1 155.4h0M68.3 149.3h0M60.2 148.3h0M67.2 166.4h0M72.0 156.5h0M67.5 166.7h0M63.3 167.2h0M70.7 164.6h0M68.4 167.0h0M66.9 147.1h0M69.9 149.4h0M70.2 164.8h0M55.7 159.6h0M71.5 153.5h0M72.7 154.7h0M59.4 167.0h0M66.9 166.7h0M56.6 154.6h0M69.1 149.5h0M65.7 147.6h0M70.4 162.8h0M73.0 154.7h0M63.1 146.9h0M61.3 166.4h0M64.5 148.2h0M72.7 160.4h0M67.1 148.3h0M56.4 159.3h0M57.2 154.9h0M72.2 159.0h0M69.6 149.7h0M61.6 150.0h0M72.7 153.9h0M72.9 154.6h0M63.3 147.1h0M57.2 150.3h0M57.0 161.3h0M57.7 151.8h0M72.0 159.2h0M71.6 152.9h0M69.8 165.2h0M72.5 157.2h0M69.1 165.1h0M70.6 151.8h0M69.5 164.3h0M57.6 162.7h0M57.5 162.4h0M72.2 161.1h0M72.2 154.6h0M68.8 149.1h0M61.9 148.3h0M56.8 157.9h0M56.5 156.7h0M67.3 147.1h0M56.8 162.8h0M63.7 167.5h0M59.3 148.9h0M56.8 153.0h0M57.0 156.8h0M72.5 156.8h0M60.7 166.4h0M61.2 167.2h0M72.7 159.8h0M70.5 153.4h0M61.9 147.9h0M63.5 147.5h0M63.5 148.2h0M66.5 166.3h0M65.7 147.9h0M68.2 165.6h0M67.5 147.1h0M72.7 156.1h0M71.0 163.9h0M63.2 147.7h0M65.8 148.7h0M57.7 156.6h0M60.0 150.0h0M60.4 149.8h0M64.8 147.9h0M57.0 152.9h0M57.1 162.5h0M57.7 161.4h0M58.5 163.7h0M58.3 161.4h0M72.2 163.6h0M72.4 158.5h0M57.4 160.4h0M58.0 152.2h0M72.8 158.5h0M70.4 150.0h0M56.9 159.6h0M60.4 167.7h0M68.9 148.5h0M64.9 167.5h0M67.1 146.9h0M56.9 159.3h0M67.0 147.6h0M69.8 149.8h0M58.0 152.1h0M72.3 156.6h0M69.0 164.8h0M71.9 161.2h0M67.3 148.4h0M61.0 150.1h0M72.0 153.3h0M58.1 150.3h0M57.1 162.5h0M64.5 168.5h0M70.0 164.1h0M65.5 166.9h0M60.6 167.1h0M56.9 161.3h0M63.1 148.1h0M60.0 167.7h0M61.0 165.8h0M57.9 151.0h0M58.5 150.2h0M59.4 149.9h0M70.3 164.6h0M56.9 153.7h0M58.3 150.4h0M70.6 152.0h0M57.7 152.4h0M63.2 167.5h0M63.9 167.1h0M56.8 161.4h0M67.3 166.6h0M70.0 165.0h0M57.8 164.0h0M65.0 148.2h0M57.8 163.8h0M65.8 147.0h0M71.2 153.0h0M64.5 168.3h0M61.2 148.5h0M58.7 164.2h0M70.7 150.7h0M59.5 165.0h0M57.2 156.0h0M66.7 167.4h0M61.0 147.9h0M55.9 154.5h0M57.2 161.6h0M71.7 161.7h0M68.2 148.1h0M57.1 154.5h0M62.4 167.6h0M63.1 166.6h0M66.6 146.8h0M61.7 147.3h0M70.1 163.6h0M72.4 160.3h0M56.3 155.6h0M67.8 149.1h0M64.9 167.1h0M72.5 156.4h0M71.7 160.2h0M72.4 156.4h0M71.2 165.1h0M60.3 150.0h0M61.9 168.2h0M71.2 163.7h0M73.4 156.0h0M59.6 149.9h0M63.4 166.9h0M71.5 162.8h0M58.4 151.0h0M59.7 165.8h0M72.3 153.0h0M64.6 168.0h0M59.7 148.5h0M56.0 156.8h0M71.4 164.7h0M68.2 166.4h0M55.9 159.1h0M57.1 154.3h0M57.8 159.2h0M72.3 160.1h0M61.2 166.5h0M69.0 164.6h0M69.6 164.2h0M62.2 167.7h0M70.2 163.3h0M61.3 148.1h0M68.7 165.2h0M60.2 149.2h0M68.7 166.4h0M57.6 163.5h0M56.5 154.2h0M57.7 154.6h0M71.8 163.1h0M60.2 167.4h0M71.1 153.0h0M65.2 148.7h0M57.5 153.2h0M70.4 164.2h0M70.3 150.2h0M61.3 165.8h0M71.3 163.7h0M62.2 147.5h0M69.7 151.5h0M61.0 167.3h0M61.4 147.3h0M59.1 164.6h0M68.6 148.5h0M56.6 160.0h0M61.2 166.0h0M56.6 156.7h0M60.4 164.3h0M62.0 149.2h0M65.0 146.7h0M57.3 154.2h0M70.8 150.6h0" stroke="#3a3a3a" stroke-width="0.76" stroke-linecap="round" fill="none"/>
<path d="M67.6 146.3h0M68.0 169.2h0M75.8 154.4h0M54.3 155.2h0M55.9 153.9h0M55.4 153.4h0M73.3 164.2h0M70.8 166.5h0M60.3 148.0h0M61.4 147.7h0M73.7 152.4h0M65.3 169.5h0M66.4 144.9h0M65.9 144.5h0M69.0 165.6h0M64.3 145.9h0M57.1 164.2h0M74.3 154.5h0M66.5 146.1h0M63.4 146.4h0M54.3 158.5h0M71.2 150.0h0M61.0 147.7h0M68.0 145.8h0M54.6 155.3h0M72.5 150.3h0M62.7 147.9h0M70.5 167.3h0M59.5 167.3h0M58.7 164.7h0M74.3 157.1h0M71.5 165.7h0M72.7 162.6h0M63.8 169.1h0M53.4 162.1h0M70.3 146.3h0M55.9 153.5h0M56.3 150.1h0M57.5 169.6h0M63.1 146.0h0M69.3 146.4h0M58.7 167.6h0M69.9 164.0h0M70.2 145.9h0M74.3 154.4h0M75.0 159.4h0M61.3 169.3h0M60.4 148.1h0M61.6 168.4h0M63.6 146.2h0M56.0 159.4h0M54.8 160.2h0M54.5 160.1h0M56.5 148.9h0M73.0 147.9h0M70.8 147.5h0M68.6 167.2h0M63.2 169.2h0M70.1 163.2h0M74.0 157.9h0M55.8 150.1h0M72.5 165.6h0M72.3 151.4h0M59.8 167.8h0M74.8 154.8h0M55.9 151.0h0M55.1 154.4h0M63.2 143.0h0M72.3 164.6h0M56.7 167.0h0M74.1 154.3h0M63.6 169.9h0M55.9 153.4h0M74.5 152.2h0M74.4 153.4h0M68.6 147.2h0M72.6 158.6h0M58.2 165.9h0M62.0 146.3h0M57.8 146.0h0M74.5 163.3h0M61.3 146.5h0M73.7 163.4h0M74.8 157.3h0M67.0 147.1h0M75.3 155.0h0M63.0 168.8h0M53.1 155.9h0M59.8 147.2h0M69.5 148.5h0M70.7 147.1h0M67.7 169.0h0M54.9 154.8h0M54.5 151.4h0M53.7 162.7h0M68.1 167.4h0M54.9 163.0h0M75.7 157.7h0M71.8 167.0h0M64.1 170.3h0M70.6 150.7h0M69.8 169.8h0M56.3 150.5h0M57.3 167.4h0M65.3 169.6h0M55.5 150.8h0M73.3 162.9h0M60.9 145.7h0M54.8 162.2h0M74.1 156.5h0M53.9 159.5h0M69.1 166.5h0M59.6 169.1h0M67.4 145.8h0M57.3 148.6h0M54.6 161.1h0M64.3 145.8h0M59.8 147.3h0M56.6 149.5h0M65.0 146.7h0M60.5 146.3h0M57.2 150.3h0M54.5 160.3h0M52.8 152.9h0M56.8 154.1h0M59.7 168.3h0M63.7 144.0h0M64.6 168.0h0M59.2 162.6h0M72.6 153.5h0M71.5 148.1h0M67.0 167.3h0M75.7 163.3h0M61.6 167.1h0M57.5 148.5h0M73.5 152.4h0M73.5 162.7h0M74.0 160.2h0M54.5 155.5h0M57.4 148.2h0M54.5 164.8h0M73.4 154.7h0M53.9 154.1h0M63.7 169.5h0M64.5 169.4h0M59.9 169.2h0M73.5 160.0h0M61.9 167.5h0M71.4 164.3h0M66.2 146.7h0M55.1 163.6h0M53.4 163.0h0M73.1 151.7h0M63.6 145.7h0M73.8 160.0h0M69.1 147.6h0M61.1 167.3h0M73.9 158.9h0M59.2 167.4h0M74.7 155.8h0M72.7 150.6h0M55.9 163.4h0M71.9 165.0h0M66.5 147.8h0" stroke="#666" stroke-width="0.70" stroke-linecap="round" fill="none"/>
</g>
<g clip-path="url(#c175)">
<polygon points="24.0,194.0 32.0,196.0 40.0,202.0 48.0,206.0 54.0,210.0 57.0,216.0 58.0,226.0 57.0,248.0 24.0,248.0" fill="#eeeeee" filter="url(#b1)"/>
<polygon points="24.0,200.0 32.0,207.0 38.0,210.0 48.0,211.0 54.0,218.0 55.0,232.0 55.0,248.0 24.0,248.0" fill="#d2d2d2" filter="url(#b1)"/>
<path d="M25 246.0 L29 226.0 L39 214.0 L46 216.0 L38 234.0 L34 246.0 Z" fill="#7a7a7a" filter="url(#b2)"/>
<ellipse cx="30" cy="234.0" rx="4" ry="8" fill="#2a2a2a" filter="url(#b2)"/>
<ellipse cx="42" cy="220.0" rx="3" ry="4" fill="#666" filter="url(#b2)"/>
<path d="M51.4 211.7h0M31.0 194.9h0M42.5 211.6h0M29.3 199.4h0M50.9 219.7h0M44.7 207.9h0M56.5 208.1h0M28.0 197.0h0M31.5 209.7h0M25.9 199.2h0M50.9 218.0h0M42.4 204.2h0M38.3 201.1h0M51.3 218.9h0M47.0 209.1h0M44.8 207.7h0M36.0 203.4h0M48.3 206.3h0M31.5 195.5h0M46.1 211.2h0M37.6 206.3h0M48.7 209.0h0M30.9 202.9h0M26.1 201.7h0M43.7 204.2h0M42.3 205.8h0M44.3 204.2h0M52.0 212.3h0M32.1 199.5h0M32.6 202.8h0M33.7 204.4h0M40.7 203.7h0M49.2 210.3h0M35.5 199.3h0M34.7 195.3h0M26.1 199.2h0M27.7 202.5h0M44.9 206.3h0M37.7 204.6h0M56.0 208.3h0M27.9 197.2h0M38.0 208.6h0M53.2 209.7h0M53.7 219.2h0M47.6 211.5h0M29.1 197.4h0M29.3 203.1h0M41.2 207.4h0M50.7 213.7h0M31.2 201.2h0M48.4 209.5h0M44.1 207.4h0M28.2 196.9h0M42.3 207.0h0M51.9 217.9h0M47.0 200.3h0M46.4 209.9h0M53.0 206.4h0M50.8 214.0h0M39.9 210.0h0M32.0 197.7h0M37.8 201.3h0M59.5 217.6h0M32.5 199.0h0M51.7 216.8h0M37.7 204.6h0M28.9 201.2h0M33.3 203.7h0M37.9 205.1h0M45.6 206.7h0M34.7 207.7h0M41.3 205.9h0M30.5 201.8h0M32.9 209.4h0M33.4 202.4h0M42.4 205.5h0M42.4 204.8h0M41.8 206.3h0M47.0 213.1h0M36.8 200.9h0M35.8 200.8h0M26.9 202.5h0M30.3 203.7h0M49.0 208.5h0M50.2 218.0h0M42.8 204.1h0M35.6 204.0h0M29.5 203.1h0M45.0 206.1h0M39.5 206.3h0M37.7 199.7h0M37.8 203.1h0M53.5 216.0h0M53.8 215.4h0M26.5 199.2h0M38.6 206.0h0M46.6 209.3h0M57.7 210.2h0M57.1 218.6h0M39.5 209.9h0M55.4 217.2h0M56.6 215.1h0M25.8 199.9h0M51.7 213.2h0M58.3 217.7h0M28.4 196.3h0M54.6 220.7h0M34.0 201.1h0M36.5 203.2h0M40.9 206.2h0M42.1 208.1h0M51.7 211.1h0M30.8 199.8h0M52.9 206.8h0M56.0 216.7h0M41.7 212.2h0M46.3 208.8h0M26.9 197.0h0M53.0 213.2h0M54.4 219.1h0M56.3 216.5h0M50.0 213.2h0M49.2 210.8h0M32.2 199.8h0M28.8 203.7h0M38.9 212.2h0M44.5 210.7h0M50.7 215.2h0M47.9 207.0h0M29.6 198.7h0M40.4 205.4h0M40.3 209.6h0M48.4 212.7h0M34.6 205.4h0M43.3 211.1h0M40.2 207.9h0M57.3 209.0h0M36.9 202.9h0M28.3 195.2h0M32.5 204.9h0M27.8 203.1h0M46.6 208.4h0M32.6 201.2h0M41.0 205.6h0M45.9 205.6h0M41.5 209.4h0M53.8 215.9h0M37.8 207.3h0M35.9 207.3h0M50.7 211.1h0M45.1 207.3h0M44.2 206.9h0M51.6 212.0h0M32.2 197.4h0M29.3 194.0h0M49.9 209.7h0M39.5 207.6h0M49.3 209.6h0M46.9 206.0h0M55.6 215.9h0M30.8 201.2h0M43.8 206.9h0M50.2 205.9h0M29.9 196.4h0M52.9 215.9h0M51.8 216.2h0M45.3 205.1h0M33.7 199.7h0M39.6 208.4h0M48.9 211.3h0M40.4 205.3h0M36.3 201.5h0M50.1 212.0h0M44.0 202.8h0M25.7 195.0h0M39.2 203.3h0M31.1 198.6h0M37.4 200.1h0M41.1 203.5h0M37.0 204.4h0M44.9 205.9h0M52.6 213.7h0M51.6 217.7h0M43.3 205.8h0M35.8 199.0h0M51.1 209.0h0M37.6 205.9h0M51.7 211.0h0M43.8 206.2h0M35.5 201.0h0M41.3 208.1h0M44.0 214.0h0M55.4 214.3h0M43.9 208.0h0M48.8 212.4h0M58.6 217.3h0M58.4 215.8h0M44.4 210.1h0M40.1 206.8h0M53.1 214.8h0M48.4 208.1h0M32.6 201.3h0M30.0 205.3h0M31.4 199.3h0M43.5 205.6h0M54.8 209.8h0M54.9 210.0h0M45.2 202.7h0M45.2 206.6h0M33.8 208.1h0M48.7 219.2h0M29.3 199.5h0M30.1 198.0h0M39.6 202.1h0M43.4 209.1h0M53.7 219.7h0M41.6 207.1h0M42.5 203.7h0M28.4 198.0h0M56.7 215.2h0M30.1 202.2h0M47.5 211.7h0M35.9 204.7h0M54.7 217.7h0M40.7 210.3h0M52.9 218.2h0M33.5 202.5h0M43.8 211.0h0M31.6 203.2h0M47.2 207.6h0M29.2 199.8h0M33.2 203.4h0M37.8 202.5h0M34.1 202.6h0M45.9 208.2h0M50.4 209.3h0M43.7 205.4h0M36.5 203.5h0M52.2 209.1h0M35.2 204.1h0M35.2 203.2h0M48.2 204.6h0M57.6 212.1h0M30.8 203.4h0M50.2 211.4h0M37.9 206.1h0M42.9 208.2h0M48.1 211.2h0M33.0 201.4h0M53.1 215.9h0M42.9 208.0h0M36.2 205.4h0M33.1 202.3h0M51.8 215.3h0M29.7 200.3h0M43.6 208.2h0M51.4 218.1h0M37.9 205.2h0M50.9 212.9h0M36.9 207.8h0M49.8 215.1h0M43.5 207.6h0M51.1 213.1h0M27.2 198.4h0M40.7 203.3h0M46.5 208.6h0M49.2 217.0h0M28.0 195.9h0M31.8 201.1h0M45.1 211.3h0M29.9 196.4h0M50.6 209.1h0M43.3 212.4h0M52.4 208.6h0M39.7 197.9h0M51.6 220.4h0M50.0 205.1h0M36.2 208.5h0M41.7 207.2h0M29.0 198.6h0M29.1 198.1h0M53.2 215.4h0M48.7 208.2h0M38.8 205.5h0M38.9 205.7h0M37.9 204.0h0M51.9 207.4h0M42.3 207.8h0M54.5 217.5h0M46.5 212.3h0M30.1 202.6h0M47.0 210.7h0M50.7 215.2h0M28.8 201.1h0M35.3 201.5h0M27.5 197.6h0M44.8 206.4h0M27.7 200.1h0M51.7 212.9h0M32.6 201.8h0M37.6 201.1h0M32.1 200.2h0M41.5 205.7h0M41.6 210.9h0M48.5 205.9h0M33.2 203.6h0M54.2 212.8h0M29.4 203.2h0M43.4 202.7h0M32.6 200.3h0M36.8 205.2h0M31.9 198.4h0M39.8 196.7h0M37.7 203.9h0M54.5 217.2h0M52.4 214.5h0M27.0 199.8h0M25.7 199.3h0M42.7 210.6h0M55.1 217.9h0M50.3 213.2h0M30.3 201.4h0M30.3 198.5h0M46.0 208.7h0M29.9 196.4h0M46.4 212.1h0M37.5 201.7h0M28.7 203.6h0M47.3 212.4h0M40.6 205.0h0M41.6 209.9h0M34.4 203.4h0M49.7 218.5h0M48.9 213.5h0M28.7 196.6h0M26.0 198.8h0M45.9 214.4h0M50.1 210.0h0M51.7 218.0h0M53.4 212.6h0M52.3 217.2h0M42.3 210.4h0M58.0 211.4h0M43.7 203.4h0M34.9 205.0h0M32.3 205.5h0" stroke="#666" stroke-width="0.84" stroke-linecap="round" fill="none"/>
<path d="M48.5 239.0h0M45.6 234.0h0M40.3 227.5h0M44.9 229.8h0M46.0 230.2h0M50.0 237.4h0M47.1 229.9h0M49.0 233.4h0M48.6 238.2h0M48.1 232.4h0M47.9 229.8h0M45.0 228.1h0M50.2 236.6h0M47.0 239.0h0M47.3 233.0h0M48.1 238.9h0M45.4 230.3h0M43.6 227.0h0M51.2 243.8h0M48.3 241.9h0M48.9 242.9h0M45.0 232.1h0M50.1 236.0h0M47.7 229.1h0M48.0 234.4h0M48.7 234.1h0M50.1 238.6h0M44.7 229.8h0M45.3 233.6h0M49.3 243.2h0M47.5 231.2h0M50.6 243.5h0M52.3 239.1h0M49.8 244.4h0M45.5 230.4h0M43.6 230.9h0M46.1 229.7h0M45.1 228.1h0M49.4 240.0h0M50.3 238.6h0M46.4 230.7h0M45.3 226.5h0M49.6 242.0h0M44.2 227.0h0M48.0 236.9h0M48.1 237.4h0M47.5 235.2h0M46.4 225.4h0M46.2 234.2h0M47.7 239.2h0M47.7 235.3h0M49.3 233.5h0M43.5 229.6h0M46.3 236.7h0M49.9 237.0h0M48.7 239.3h0M45.3 231.9h0M46.0 239.7h0M47.2 240.8h0M50.8 244.4h0M47.6 245.4h0M48.7 241.1h0M47.9 241.1h0M46.8 231.0h0M49.7 241.5h0M47.6 232.6h0M47.2 233.5h0M44.0 227.1h0M45.2 229.1h0M45.5 224.3h0M49.1 242.9h0M51.0 241.5h0M47.9 237.5h0M42.3 233.0h0M44.5 228.2h0M49.8 240.7h0M49.3 240.4h0M43.7 226.5h0M46.9 232.3h0" stroke="#666" stroke-width="0.76" stroke-linecap="round" fill="none"/>
<ellipse cx="64.5" cy="228.5" rx="7" ry="10" fill="#dadada" opacity="1" filter="url(#b1)"/>
<path d="M66.1 219.3h0M69.1 238.7h0M68.5 235.4h0M70.8 234.9h0M66.0 220.1h0M61.0 236.7h0M72.0 231.4h0M57.0 228.0h0M65.1 218.3h0M66.3 238.8h0M68.6 220.5h0M63.5 219.1h0M70.9 230.8h0M65.1 218.4h0M63.2 218.9h0M70.9 231.0h0M60.1 220.8h0M68.2 220.1h0M69.7 222.9h0M60.1 219.8h0M70.4 224.3h0M65.3 219.3h0M56.8 229.2h0M58.4 233.8h0M61.1 236.7h0M61.8 238.1h0M64.4 217.8h0M68.2 220.7h0M68.8 234.7h0M65.8 218.8h0M58.7 235.7h0M58.1 221.0h0M60.6 220.5h0M58.0 224.1h0M58.2 234.7h0M64.7 219.3h0M58.2 224.3h0M71.2 228.3h0M58.6 223.8h0M70.2 233.8h0M62.6 219.1h0M64.3 237.3h0M57.4 229.3h0M69.7 223.7h0M70.4 233.8h0M59.6 221.5h0M57.2 226.2h0M60.9 219.5h0M69.6 220.5h0M66.6 218.5h0M70.5 236.2h0M61.1 235.9h0M66.4 238.5h0M58.1 233.6h0M62.5 218.0h0M70.9 225.7h0M58.2 232.9h0M58.4 233.4h0M72.1 230.1h0M70.3 235.8h0M62.6 237.1h0M71.3 230.4h0M69.7 234.7h0M69.9 233.6h0M59.1 229.5h0M72.7 232.1h0M67.7 238.4h0M71.6 225.9h0M65.8 217.9h0M59.8 236.8h0M71.2 227.1h0M64.2 237.4h0M58.5 232.1h0M58.1 224.6h0M69.2 232.8h0M58.2 235.1h0M57.5 228.1h0M64.0 220.0h0M59.4 235.2h0M59.6 222.1h0M71.6 229.5h0M60.1 236.9h0M63.9 216.9h0M70.5 234.1h0M71.9 225.1h0M68.1 220.4h0M70.1 225.4h0M71.7 230.8h0M65.7 219.5h0M68.2 235.7h0M69.9 233.0h0M61.9 219.4h0M66.9 235.8h0M64.4 237.6h0M67.8 218.4h0M58.2 232.1h0M58.6 233.2h0M70.8 233.1h0M63.1 239.1h0M59.3 237.3h0M68.7 222.6h0M69.7 222.9h0M62.9 219.3h0M57.9 224.5h0M61.8 237.9h0M60.0 221.1h0M61.1 236.2h0M71.8 227.3h0M70.6 228.1h0M72.3 225.3h0M57.9 226.9h0M66.2 219.0h0M57.4 229.4h0M60.4 222.8h0M62.2 219.5h0M57.8 231.0h0M71.6 232.7h0M58.3 236.7h0M69.0 235.8h0M59.0 222.2h0M65.5 238.6h0M71.4 223.5h0M71.3 229.3h0M58.2 229.2h0M57.9 233.6h0M57.5 227.0h0M60.7 237.7h0M68.4 220.3h0M67.2 219.0h0M58.1 228.5h0M68.5 219.8h0M71.7 229.3h0M58.8 228.9h0M71.2 224.0h0M58.9 233.9h0M64.6 218.5h0M57.0 227.2h0M72.2 231.5h0M66.3 235.3h0M69.2 236.4h0M63.8 238.6h0M70.4 224.5h0M71.5 229.7h0M68.8 219.8h0M69.7 234.0h0M70.4 227.1h0M67.1 218.3h0M65.9 238.6h0M69.6 235.5h0M57.5 223.4h0M69.2 235.8h0M70.9 223.9h0M64.6 220.5h0M71.7 227.1h0M66.4 238.1h0M59.4 220.9h0M59.5 223.7h0M57.7 226.7h0M62.0 236.8h0M70.0 231.1h0M56.9 229.4h0M57.5 233.1h0M67.8 220.8h0M59.4 224.6h0M57.9 222.0h0M60.9 236.8h0M70.2 234.7h0M70.6 223.9h0M70.2 224.9h0M59.9 223.3h0M64.3 219.0h0M70.5 233.1h0M64.2 218.9h0M57.9 224.8h0M63.9 238.3h0M58.5 220.6h0M64.4 218.2h0M58.3 231.3h0M58.7 232.3h0M70.3 221.1h0M62.4 237.9h0M71.1 229.0h0M61.7 219.2h0M71.0 228.2h0M63.2 219.3h0M68.9 219.2h0M69.3 236.8h0M63.5 237.9h0M60.0 234.8h0M62.6 237.9h0M70.4 231.9h0M62.4 220.0h0M58.9 234.6h0M69.3 235.7h0M70.8 229.5h0M65.5 238.1h0M57.4 226.9h0M71.3 226.2h0M70.3 221.2h0M57.2 228.0h0M57.3 226.0h0M70.4 225.2h0M61.5 219.1h0M67.5 219.7h0M61.2 238.7h0M70.9 226.5h0M64.7 219.3h0M66.0 218.1h0M70.4 231.7h0M63.1 218.9h0M61.1 236.0h0M59.8 234.7h0M61.4 218.8h0M57.9 226.9h0M57.3 229.5h0M63.0 237.7h0M59.2 234.6h0M71.2 227.2h0M57.6 228.3h0M70.8 230.1h0" stroke="#4a4a4a" stroke-width="0.76" stroke-linecap="round" fill="none"/>
<path d="M58.2 236.1h0M73.0 227.0h0M57.2 222.4h0M64.7 240.6h0M60.1 238.4h0M56.2 229.6h0M63.5 238.7h0M56.4 227.2h0M64.5 216.9h0M59.8 218.8h0M55.7 229.7h0M60.6 235.8h0M69.7 218.6h0M74.6 229.0h0M68.0 219.0h0M55.4 228.7h0M58.3 237.3h0M57.4 218.5h0M72.5 232.4h0M62.3 243.1h0M62.3 239.0h0M72.4 224.8h0M73.6 227.1h0M68.9 239.6h0M56.5 232.4h0M72.1 219.4h0M72.8 234.0h0M61.3 239.8h0M69.8 236.6h0M63.2 216.1h0M74.0 225.8h0M59.1 219.2h0M69.4 235.9h0M70.2 221.7h0M70.7 238.8h0M61.1 215.0h0M65.3 215.0h0M73.7 230.3h0M63.8 216.2h0M72.5 228.7h0M63.4 214.8h0M58.7 237.4h0M59.9 240.1h0M60.2 235.2h0M66.3 241.6h0M56.3 232.7h0M61.4 239.1h0M58.4 230.1h0M69.4 219.9h0M67.5 216.4h0M73.1 226.3h0M67.9 219.6h0M73.1 221.9h0M58.1 236.0h0M72.4 229.0h0M73.1 228.5h0M72.5 228.0h0M75.2 230.0h0M58.7 238.1h0M61.0 219.5h0M54.3 229.5h0M65.2 215.3h0M57.3 229.9h0M56.4 228.9h0M57.3 230.0h0M63.7 216.4h0M60.0 239.0h0M60.9 218.9h0M57.0 238.5h0M65.8 218.4h0M58.5 236.1h0M57.0 220.5h0M71.1 230.4h0M72.0 232.9h0M69.1 223.4h0M63.3 218.5h0M62.8 216.7h0M70.3 235.7h0M70.5 217.9h0M66.1 238.9h0M56.6 228.5h0M55.8 229.3h0M54.8 232.1h0M73.0 226.8h0M72.4 221.5h0M57.0 238.0h0M58.5 222.7h0M61.9 239.1h0M61.1 219.0h0M54.6 229.0h0M58.6 218.3h0M73.2 228.9h0M70.4 222.3h0M68.6 218.2h0M69.7 222.6h0M56.4 237.7h0M63.2 216.1h0M57.5 233.8h0M59.0 236.9h0M70.0 217.8h0M74.1 233.8h0M56.5 224.2h0M59.3 219.7h0M71.7 218.5h0M58.5 236.0h0M64.5 240.5h0M69.4 219.6h0M59.4 220.1h0M68.3 240.6h0M56.7 223.0h0M67.7 238.5h0M63.8 240.2h0M64.0 217.8h0M64.5 214.9h0M57.1 238.6h0M55.9 224.5h0M57.2 223.0h0M70.9 222.7h0M74.5 229.3h0M57.4 234.9h0M72.6 221.2h0M72.5 229.2h0M59.0 221.1h0M69.0 217.2h0M70.7 237.8h0M64.4 239.6h0M73.6 231.5h0M55.5 226.2h0M73.0 223.9h0M57.9 237.7h0M59.4 220.1h0M70.3 239.4h0" stroke="#666" stroke-width="0.70" stroke-linecap="round" fill="none"/>
</g>
<rect x="24.5" y="26.3" width="69.2" height="69.2" stroke="#6464e0" stroke-width="1.8" fill="none" />
<rect x="24.4" y="101.3" width="69.4" height="69.2" stroke="#2fb52f" stroke-width="2.2" fill="none" />
<rect x="24.9" y="176.3" width="69.4" height="69.2" stroke="#dd2626" stroke-width="2.2" fill="none" />
<rect x="40.3" y="40.3" width="26" height="17.5" stroke="#111" stroke-width="1.3" fill="none" />
<rect x="56.8" y="66.3" width="26.5" height="28" stroke="#111" stroke-width="1.3" fill="none" />
<text x="56.3" y="38.9" font-size="6.7" text-anchor="middle" fill="#111" font-weight="bold"  stroke="#111" stroke-width="0.22">0.5</text>
<text x="78.5" y="63.8" font-size="6.7" text-anchor="middle" fill="#111" font-weight="bold"  stroke="#111" stroke-width="0.22">1.9</text>
<text x="75.5" y="70.5" font-size="6.7" text-anchor="middle" fill="#111" font-weight="bold"  stroke="#111" stroke-width="0.22">8</text>
<rect x="40.5" y="115.5" width="25.3" height="17" stroke="#111" stroke-width="1.3" fill="none" />
<rect x="55.6" y="144.2" width="27.8" height="25.3" stroke="#111" stroke-width="1.3" fill="none" />
<text x="55.5" y="113.9" font-size="6.7" text-anchor="middle" fill="#111" font-weight="bold"  stroke="#111" stroke-width="0.22">0.6</text>
<text x="53.5" y="121.6" font-size="6.7" text-anchor="middle" fill="#111" font-weight="bold"  stroke="#111" stroke-width="0.22">1</text>
<text x="81.5" y="141.6" font-size="6.7" text-anchor="middle" fill="#111" font-weight="bold"  stroke="#111" stroke-width="0.22">3.34</text>
<rect x="43.7" y="189" width="23.3" height="17.5" stroke="#111" stroke-width="1.3" fill="none" />
<rect x="56.7" y="215.9" width="24.8" height="27" stroke="#111" stroke-width="1.3" fill="none" />
<text x="58.3" y="187.2" font-size="6.7" text-anchor="middle" fill="#111" font-weight="bold"  stroke="#111" stroke-width="0.22">0.052</text>
<text x="82.9" y="212.2" font-size="6.7" text-anchor="middle" fill="#111" font-weight="bold"  stroke="#111" stroke-width="0.22">2.48</text>
<line x1="83.4" y1="81.5" x2="96" y2="81.5" stroke="#000" stroke-width="1.5" />
<polygon points="104.00,81.50 95.50,77.00 95.50,86.00" fill="#000" stroke="none" stroke-width="1"/>
<line x1="83.4" y1="162.2" x2="96" y2="162.2" stroke="#000" stroke-width="1.5" />
<polygon points="104.00,162.20 95.50,157.70 95.50,166.70" fill="#000" stroke="none" stroke-width="1"/>
<line x1="81.5" y1="240.8" x2="96" y2="240.8" stroke="#000" stroke-width="1.5" />
<polygon points="104.00,240.80 95.50,236.30 95.50,245.30" fill="#000" stroke="none" stroke-width="1"/>
<ellipse cx="130" cy="43" rx="8.450000000000001" ry="9.1" fill="#bdbdbd" opacity="0.55" filter="url(#b2)"/>
<path d="M135.8 44.8h0M129.6 40.4h0M136.5 45.2h0M139.5 47.5h0M129.0 40.3h0M128.7 43.9h0M133.6 45.4h0M137.2 35.5h0M130.1 36.0h0M125.3 40.0h0M127.0 38.2h0M123.1 48.6h0M128.5 47.7h0M127.3 47.3h0M127.4 44.9h0M125.1 49.8h0M132.0 48.2h0M128.7 49.3h0M130.3 40.6h0M127.1 43.3h0M125.9 37.1h0M130.6 46.5h0M128.7 47.1h0M137.2 36.8h0M131.2 38.3h0M127.1 43.9h0M119.2 46.0h0M133.8 45.7h0M133.0 51.9h0M128.3 48.4h0M136.6 45.4h0M121.9 42.2h0M128.7 35.0h0M129.7 46.7h0M128.8 42.1h0M136.7 40.0h0M125.7 43.2h0M135.1 45.9h0M130.3 40.6h0M135.6 47.3h0M122.1 44.6h0M119.0 50.3h0M132.8 39.9h0M124.1 41.5h0M122.0 45.8h0M127.7 34.3h0M129.9 48.8h0M124.2 41.2h0M138.3 43.9h0M127.5 43.9h0M133.6 38.1h0M129.5 35.0h0M122.8 35.4h0M133.8 44.5h0M133.3 49.0h0M130.2 44.2h0M131.8 45.3h0M125.1 41.6h0M129.3 43.2h0M126.6 42.3h0M131.3 43.9h0M132.7 47.0h0M132.5 47.7h0M133.8 49.8h0M132.9 40.0h0M140.6 48.5h0M135.7 46.6h0M130.2 37.4h0M132.0 41.3h0M137.1 37.3h0M125.0 45.3h0M132.6 39.1h0M130.0 44.2h0M130.7 45.6h0M133.5 41.2h0M122.6 53.6h0M128.2 38.1h0M133.4 45.9h0M127.2 54.5h0M119.3 49.3h0M129.8 44.5h0M131.4 41.9h0M131.5 36.6h0M128.2 52.1h0M118.2 49.0h0M119.8 38.8h0M134.0 41.0h0M127.4 35.6h0M129.4 42.1h0M127.1 35.3h0M130.7 45.1h0M135.2 45.5h0M136.9 48.9h0M117.1 51.2h0M129.5 37.8h0M132.0 47.7h0M122.9 36.9h0M133.1 40.3h0M136.7 44.1h0M127.5 36.5h0M132.7 34.5h0M124.0 36.5h0M137.8 51.4h0M129.0 41.1h0M133.2 49.1h0M126.3 53.8h0M129.1 48.6h0M119.2 42.7h0M126.8 52.8h0M129.0 36.7h0M138.9 39.6h0M130.0 36.8h0M133.1 43.9h0M128.7 41.0h0M127.4 39.5h0M123.6 48.9h0M134.1 36.2h0M124.7 45.0h0M140.3 42.0h0M128.6 41.8h0M131.1 42.1h0M134.9 47.8h0M132.5 50.7h0M128.9 40.3h0M143.6 33.5h0M131.6 37.7h0M129.4 41.1h0M125.1 48.5h0M128.2 45.2h0M127.6 43.7h0M127.9 43.4h0M129.5 39.6h0M132.0 42.1h0M125.6 37.8h0M132.0 49.5h0M124.0 40.9h0M132.1 48.1h0M133.2 37.2h0M130.2 47.4h0M131.1 41.9h0M124.6 43.8h0M129.7 43.2h0M136.9 48.8h0M126.4 44.1h0M128.6 43.5h0M137.5 47.5h0M130.2 39.8h0M129.3 44.8h0M127.7 48.4h0M130.1 37.2h0M128.8 42.4h0M134.5 48.5h0M136.7 50.7h0M131.4 43.6h0M134.6 42.9h0M124.2 40.8h0M133.0 46.0h0M124.9 48.9h0M131.4 35.6h0M132.1 47.9h0M132.4 41.5h0M126.3 48.5h0M131.0 43.0h0M128.2 37.9h0M121.4 41.3h0M135.1 46.7h0M126.9 50.5h0M129.0 38.0h0M134.5 49.8h0M128.2 37.0h0M130.2 50.5h0M131.2 39.4h0M133.2 40.6h0M135.8 41.2h0M139.3 41.3h0M130.9 38.4h0M124.2 44.7h0M131.6 38.2h0M132.6 41.0h0M127.5 42.6h0M131.8 46.6h0M135.6 44.9h0M126.7 39.6h0M131.7 37.1h0M129.2 41.1h0M129.5 43.9h0M134.8 51.1h0M134.0 48.0h0M125.1 48.1h0M135.9 36.3h0M141.5 40.2h0M119.1 51.7h0M130.3 39.1h0M127.4 48.3h0M131.2 41.2h0M135.3 38.4h0M126.1 40.2h0M126.6 46.4h0M128.9 37.8h0M127.9 33.2h0M130.8 43.5h0M132.8 41.8h0M131.8 38.4h0M130.1 43.8h0M124.5 45.9h0M130.7 43.2h0M127.8 52.8h0M130.0 39.2h0M126.1 45.9h0M129.0 39.1h0M126.7 47.6h0M130.4 48.2h0M129.9 37.2h0M134.0 44.6h0M127.0 41.5h0M125.6 47.1h0M128.1 45.3h0M131.2 41.7h0M131.7 41.8h0M124.6 41.0h0M124.6 46.7h0M133.0 40.1h0M132.8 44.2h0M134.4 38.4h0M130.1 38.1h0M126.9 49.7h0M120.8 38.5h0M132.2 46.8h0M126.4 33.0h0M122.2 44.8h0M135.0 47.4h0M126.7 49.6h0M129.1 46.0h0M129.1 50.8h0M128.6 43.9h0M131.3 39.5h0M128.9 37.4h0M128.9 43.4h0M131.1 51.1h0M120.9 45.5h0M132.0 37.3h0M130.3 43.0h0M125.4 46.5h0M138.7 46.3h0M133.5 48.2h0M129.4 47.8h0M126.3 43.9h0M133.2 49.4h0M128.7 41.6h0M132.1 42.6h0M130.6 46.9h0M126.5 47.3h0M131.7 41.7h0M124.3 39.9h0M129.8 47.6h0M121.1 46.5h0M130.9 37.5h0M133.9 44.9h0M132.0 38.2h0M125.0 47.4h0M136.4 44.8h0M129.1 40.8h0M122.2 47.8h0" stroke="#2a2a2a" stroke-width="0.80" stroke-linecap="round" fill="none" opacity="1.0"/>
<path d="M129.2 54.2h0M123.9 52.5h0M124.0 48.3h0M141.6 36.6h0M137.6 42.9h0M122.1 44.8h0M135.4 36.5h0M127.8 37.9h0M123.5 41.1h0M136.9 38.5h0M140.5 39.6h0M124.2 52.7h0M141.8 37.1h0M126.6 39.6h0M125.7 36.8h0M140.5 35.4h0M120.9 47.3h0M138.5 44.2h0M130.0 55.5h0M123.0 52.9h0M136.9 37.4h0M131.0 44.0h0M134.9 34.2h0M128.1 43.8h0M130.2 43.2h0M132.1 41.3h0M125.8 52.3h0M124.6 40.1h0M133.7 42.6h0M128.9 47.1h0M128.6 49.1h0M145.1 46.1h0M127.8 57.8h0M141.1 44.9h0M122.9 37.2h0M134.6 32.9h0M124.1 51.5h0M124.6 44.0h0M129.3 41.9h0M118.1 51.7h0M136.8 50.9h0M129.2 44.5h0M128.5 37.7h0M121.7 36.4h0M129.3 38.6h0M143.8 40.5h0M133.8 38.8h0M128.5 34.3h0M121.2 46.9h0M128.9 37.9h0M136.0 38.0h0M133.6 39.7h0M138.0 51.5h0M130.5 52.8h0M134.2 56.9h0M131.7 45.1h0M127.0 41.1h0M144.2 36.1h0M123.0 42.6h0M142.2 48.3h0M120.7 42.3h0M137.2 38.7h0M143.3 60.2h0M139.0 42.1h0M135.5 51.8h0M121.7 43.6h0M131.4 36.3h0M135.7 41.8h0M126.6 59.7h0M131.4 57.5h0M128.7 52.2h0M123.8 44.3h0M134.4 40.6h0M139.0 44.6h0M127.3 36.5h0M127.5 44.9h0M118.9 52.4h0M127.8 48.3h0M127.5 39.5h0M124.5 45.7h0M133.3 34.2h0M127.3 52.5h0M137.2 42.0h0M118.2 39.8h0M124.0 54.0h0M117.2 37.9h0M118.3 36.8h0M126.3 46.3h0M125.1 49.1h0M144.4 44.4h0M120.5 41.4h0M129.1 39.8h0M139.5 53.3h0M135.5 35.8h0M125.0 51.1h0M131.1 32.9h0M122.3 38.4h0M120.2 38.2h0M138.7 50.1h0M135.7 40.1h0M131.0 36.1h0M128.4 35.8h0M118.0 34.1h0M145.9 46.5h0M123.7 42.0h0M126.2 53.8h0M129.7 37.3h0M135.5 45.8h0M124.3 36.1h0M122.4 52.0h0M137.1 52.9h0M126.3 37.7h0M127.7 38.7h0M140.5 41.0h0M141.1 36.6h0M133.0 57.4h0M123.8 37.1h0M127.5 37.2h0M137.8 42.7h0M132.3 49.3h0M125.3 43.3h0M131.1 57.7h0M141.5 44.5h0M118.9 50.8h0M129.5 53.4h0M130.3 44.6h0M135.3 36.5h0M122.8 51.3h0M135.5 50.2h0M130.3 46.0h0M138.4 52.6h0M122.2 40.5h0M128.6 36.8h0M123.2 37.1h0M139.4 55.1h0M136.1 58.0h0M130.6 33.3h0M124.5 44.8h0M138.4 53.8h0M122.5 51.5h0M125.5 48.3h0M137.4 56.2h0M125.6 45.1h0M133.4 39.2h0M130.6 48.3h0M122.0 47.6h0M135.5 46.9h0M134.8 37.6h0M143.0 32.9h0M134.1 40.6h0M127.6 49.3h0M140.3 44.4h0M124.5 41.1h0M129.3 55.9h0M136.9 57.1h0M136.1 36.2h0M137.5 51.6h0M128.9 47.1h0M129.1 49.8h0M123.3 52.7h0M131.7 53.0h0M123.7 39.2h0M121.7 36.0h0M134.1 44.2h0M125.9 45.6h0M119.1 39.5h0M118.7 33.2h0M142.8 55.3h0M140.2 37.8h0M125.4 45.2h0M128.9 44.3h0M120.6 48.1h0M130.9 36.4h0M143.4 45.3h0M136.0 59.6h0M125.8 41.0h0M134.5 44.8h0M119.5 35.4h0M130.8 45.7h0M122.4 41.0h0M123.3 48.5h0M135.1 38.0h0M126.0 62.6h0M129.8 50.7h0M134.6 56.2h0M127.2 34.9h0M138.4 51.2h0M124.4 52.8h0M129.8 42.6h0M145.0 47.8h0M132.4 40.1h0M131.5 52.5h0M133.6 36.2h0M133.6 41.9h0M132.4 41.3h0M117.5 61.2h0M135.6 38.9h0M131.9 51.8h0M137.8 38.2h0M125.2 44.8h0M127.4 61.3h0M128.7 62.3h0M129.9 43.5h0M141.7 54.5h0M122.5 46.2h0M143.1 33.9h0M127.0 36.3h0M134.2 46.6h0M129.5 48.9h0M123.4 39.6h0M133.7 61.2h0M129.5 43.5h0M140.7 43.7h0M140.6 45.2h0M139.4 44.6h0M122.3 35.3h0M133.4 60.0h0M145.3 40.1h0M122.9 51.4h0M117.3 51.2h0M133.0 48.7h0M119.9 46.5h0M137.6 42.5h0M138.4 43.2h0M132.7 40.1h0M118.6 41.6h0M134.0 36.1h0M140.7 41.0h0M123.5 54.2h0M126.2 35.0h0M128.3 34.7h0M130.4 47.1h0M125.1 41.2h0M128.6 50.5h0M123.9 49.8h0M140.2 41.2h0M121.9 40.2h0M120.0 41.5h0M126.8 47.7h0M130.8 46.8h0M129.5 45.6h0M120.5 49.0h0M140.7 53.1h0M118.7 46.8h0M128.2 38.8h0M123.7 40.8h0M129.8 34.2h0M130.4 45.4h0M134.2 42.6h0M138.2 45.9h0M118.4 48.6h0M128.5 46.5h0M130.2 43.9h0M128.6 55.6h0M133.0 40.4h0M128.0 62.0h0M122.7 38.2h0M132.6 44.4h0M132.4 55.3h0M139.3 46.8h0M130.2 42.4h0M128.0 52.1h0M119.4 33.5h0M126.1 34.3h0M123.8 53.9h0M119.0 40.8h0M125.1 34.0h0M117.5 43.7h0M126.6 53.0h0M145.3 40.3h0M123.2 40.4h0M133.8 51.5h0M122.0 47.3h0M129.6 53.4h0M126.5 41.1h0M132.2 49.5h0M139.3 45.4h0M126.1 34.6h0M120.2 36.4h0M132.7 43.8h0M127.5 33.5h0M129.7 47.8h0M127.2 45.4h0M127.8 57.1h0M131.1 33.9h0M136.4 37.1h0M135.7 43.9h0M140.2 33.9h0M135.9 46.9h0M122.4 49.4h0M123.5 41.6h0M140.8 45.3h0M142.3 37.1h0M128.5 40.3h0M125.8 54.1h0M124.9 46.2h0M145.4 50.5h0M126.5 36.3h0M137.3 53.1h0M131.9 62.6h0M122.5 50.3h0M126.6 50.6h0M117.6 43.9h0M137.5 37.7h0M143.2 35.1h0M128.3 51.4h0M128.2 37.9h0M129.8 49.0h0M144.5 55.4h0M145.7 42.7h0M126.5 33.9h0M125.6 42.4h0M130.4 51.3h0M122.3 53.4h0M130.3 49.7h0M143.4 36.5h0M133.3 52.9h0M131.3 53.3h0M128.9 42.3h0M130.6 58.0h0M125.4 34.4h0" stroke="#6a6a6a" stroke-width="0.76" stroke-linecap="round" fill="none" opacity="1.0"/>
<ellipse cx="145" cy="80" rx="9.1" ry="10.4" fill="#bdbdbd" opacity="0.55" filter="url(#b2)"/>
<path d="M139.6 77.0h0M143.8 81.9h0M144.6 70.4h0M137.3 83.8h0M148.5 72.4h0M156.3 83.3h0M136.9 82.9h0M144.8 77.5h0M143.2 78.7h0M144.5 74.9h0M142.2 83.1h0M147.6 72.5h0M142.6 88.8h0M148.5 89.3h0M138.4 74.2h0M134.4 69.1h0M143.2 74.1h0M139.7 76.1h0M144.1 84.7h0M147.7 70.1h0M152.3 78.2h0M140.1 79.8h0M143.0 72.2h0M152.6 76.8h0M142.1 83.0h0M153.2 82.7h0M140.6 82.5h0M150.4 82.1h0M148.2 77.3h0M144.7 70.6h0M141.5 73.6h0M145.0 88.4h0M134.0 72.6h0M140.4 79.5h0M150.7 75.6h0M141.1 86.8h0M146.8 83.0h0M149.1 75.8h0M146.1 76.3h0M141.5 80.8h0M147.1 72.9h0M141.2 83.4h0M145.8 83.7h0M143.5 75.5h0M148.8 83.4h0M141.3 83.8h0M152.7 78.4h0M140.2 81.4h0M145.4 83.2h0M138.1 81.4h0M149.4 83.9h0M148.1 86.7h0M140.9 86.9h0M146.0 74.4h0M143.5 81.5h0M146.6 87.6h0M145.9 77.1h0M155.7 78.1h0M140.9 85.2h0M143.0 75.6h0M139.8 86.7h0M139.8 80.6h0M142.8 78.9h0M141.0 80.9h0M148.0 85.9h0M143.2 73.5h0M137.7 80.1h0M132.8 87.5h0M145.1 80.7h0M138.1 76.4h0M141.3 83.8h0M143.0 83.5h0M147.5 69.2h0M143.9 87.1h0M142.5 80.7h0M144.4 73.1h0M155.7 79.3h0M148.1 77.5h0M151.9 86.5h0M150.8 85.4h0M148.5 87.8h0M147.0 80.8h0M149.0 75.0h0M132.5 84.6h0M145.7 76.1h0M143.7 74.7h0M140.9 81.1h0M145.6 84.7h0M144.5 83.6h0M148.4 76.1h0M136.7 76.2h0M143.8 77.1h0M155.9 76.2h0M147.3 75.8h0M148.4 73.0h0M149.7 81.1h0M143.0 73.4h0M153.2 76.8h0M139.1 90.2h0M153.8 80.2h0M149.9 83.5h0M143.2 80.8h0M139.4 72.5h0M145.6 84.1h0M145.8 73.2h0M149.2 80.6h0M148.7 78.4h0M143.7 85.9h0M151.7 73.3h0M139.6 85.5h0M146.8 80.4h0M140.2 85.7h0M145.9 81.3h0M146.9 77.1h0M147.0 80.8h0M148.5 82.2h0M138.7 76.1h0M143.7 86.6h0M141.8 86.4h0M150.3 85.0h0M156.1 80.0h0M146.6 86.9h0M147.0 85.6h0M144.4 88.0h0M146.7 69.4h0M150.3 79.0h0M140.7 78.4h0M143.6 86.5h0M146.6 79.7h0M144.9 75.1h0M141.9 77.5h0M143.9 73.6h0M143.0 85.7h0M147.2 80.1h0M146.7 78.7h0M139.2 85.0h0M156.0 82.9h0M148.4 93.8h0M139.0 83.0h0M143.3 78.5h0M136.9 79.6h0M147.0 71.2h0M143.9 77.3h0M140.1 83.6h0M153.1 82.4h0M150.1 84.3h0M144.7 83.3h0M151.5 77.7h0M144.3 72.4h0M135.9 75.5h0M149.4 82.1h0M146.3 87.4h0M136.3 87.8h0M145.4 84.4h0M151.8 75.6h0M140.7 82.3h0M144.7 76.8h0M144.4 76.0h0M145.7 77.9h0M153.4 74.3h0M147.9 80.5h0M152.8 74.7h0M142.7 89.7h0M141.8 78.0h0M143.1 74.6h0M151.0 88.5h0M144.3 75.9h0M138.3 83.8h0M142.4 83.1h0M133.2 77.7h0M148.1 82.4h0M145.6 80.0h0M143.3 77.6h0M145.7 82.9h0M149.6 78.9h0M151.0 74.9h0M154.4 85.4h0M152.1 88.9h0M139.1 79.5h0M147.3 85.9h0M145.4 72.9h0M151.0 79.1h0M147.2 78.3h0M144.4 72.4h0M148.3 76.6h0M136.3 82.4h0M144.8 85.4h0M149.0 73.3h0M144.1 80.1h0M145.4 74.2h0M145.4 85.5h0M151.1 88.2h0M143.7 77.0h0M149.5 80.0h0M146.8 82.8h0M143.9 87.7h0M154.0 84.6h0M142.3 81.5h0M149.8 84.1h0M141.6 85.4h0M148.6 83.3h0M142.9 79.9h0M135.6 79.9h0M142.8 78.4h0M143.6 78.3h0M145.4 80.6h0M142.0 79.3h0M144.6 82.8h0M147.2 78.1h0M140.9 71.0h0M138.8 82.3h0M140.5 89.0h0M144.2 77.9h0M144.2 77.0h0M141.9 80.4h0M137.9 80.8h0M144.5 75.1h0M150.0 82.1h0M150.3 76.4h0M138.9 73.5h0M137.3 69.6h0M152.7 77.4h0M146.0 77.1h0M144.3 88.8h0M136.5 74.6h0M145.7 75.0h0M148.4 87.2h0M149.4 84.2h0M144.2 85.6h0M141.1 73.5h0M143.7 78.7h0M151.0 74.6h0M150.6 75.7h0M138.8 70.7h0M144.8 72.1h0M146.0 80.3h0M143.0 69.4h0M142.5 82.5h0M136.2 83.9h0M145.1 77.0h0M146.0 83.6h0M144.9 75.7h0M148.9 76.3h0M146.8 85.4h0M151.4 88.9h0M150.0 80.8h0M144.0 81.1h0M148.2 75.5h0M152.5 71.2h0M149.9 73.0h0M139.6 77.3h0M143.6 72.6h0M148.0 79.4h0M151.6 74.4h0M136.1 83.8h0M143.9 85.4h0M133.5 73.1h0M145.4 90.8h0M138.9 69.5h0M142.8 87.9h0M152.8 72.5h0M142.0 69.8h0M140.9 74.7h0M147.1 86.3h0M156.7 78.0h0M149.0 81.2h0M145.6 90.7h0M148.5 88.7h0M146.5 84.8h0M147.5 79.5h0M141.6 77.8h0M145.1 77.9h0M143.3 76.1h0M149.2 78.7h0M144.4 78.8h0M151.4 77.1h0M151.9 75.3h0M152.5 83.4h0M142.6 82.6h0M150.6 74.8h0M143.9 81.8h0M144.0 78.4h0M145.1 81.8h0M148.8 88.2h0M143.4 89.9h0M144.4 72.0h0M142.9 78.1h0M150.3 68.8h0M141.9 79.3h0M148.2 82.2h0" stroke="#2a2a2a" stroke-width="0.80" stroke-linecap="round" fill="none" opacity="1.0"/>
<path d="M152.8 78.4h0M142.9 92.5h0M146.4 71.2h0M143.5 78.0h0M134.4 71.5h0M151.2 81.3h0M145.4 78.3h0M146.2 83.7h0M140.7 77.2h0M147.1 68.9h0M150.8 78.8h0M134.3 93.9h0M138.4 92.5h0M143.0 90.7h0M148.6 84.9h0M147.4 72.9h0M144.1 80.0h0M137.6 91.3h0M147.3 90.9h0M142.4 73.3h0M140.2 71.0h0M149.1 81.5h0M151.4 68.1h0M139.7 78.8h0M145.3 84.4h0M152.0 86.7h0M141.9 92.9h0M148.4 72.7h0M158.6 67.9h0M149.3 93.0h0M146.1 83.6h0M146.1 86.9h0M147.1 80.1h0M147.3 76.9h0M139.1 86.8h0M141.6 67.8h0M142.5 85.2h0M155.8 90.8h0M147.1 78.4h0M146.9 92.5h0M143.9 92.0h0M137.9 79.9h0M152.0 87.3h0M146.9 74.7h0M137.4 75.9h0M152.7 79.8h0M135.1 81.2h0M151.8 67.8h0M134.6 76.1h0M151.6 73.9h0M148.8 84.8h0M145.2 84.7h0M156.5 78.1h0M148.0 69.1h0M138.6 79.0h0M152.4 73.1h0M132.6 89.6h0M135.5 81.3h0M149.4 70.3h0M148.1 91.3h0M142.6 87.5h0M146.2 70.5h0M139.5 73.7h0M157.0 91.9h0M140.7 75.9h0M141.2 75.3h0M151.9 80.9h0M133.6 89.5h0M151.6 76.5h0M145.0 85.3h0M143.0 84.2h0M156.5 76.7h0M141.9 80.2h0M150.8 75.9h0M145.8 73.0h0M144.4 85.6h0M137.7 78.1h0M145.7 85.5h0M135.8 79.0h0M136.8 83.3h0M147.4 84.6h0M139.0 79.4h0M154.6 73.4h0M138.2 82.1h0M153.7 89.9h0M144.1 87.5h0M142.0 89.9h0M139.2 71.6h0M148.4 75.4h0M151.0 71.2h0M147.4 69.9h0M135.5 67.4h0M153.3 78.1h0M136.4 84.2h0M150.8 77.7h0M147.8 85.5h0M141.9 90.2h0M137.5 87.7h0M153.1 82.1h0M142.0 79.8h0M151.8 70.6h0M148.2 80.5h0M142.6 84.8h0M140.3 81.1h0M133.8 75.5h0M140.9 89.7h0M141.7 81.4h0M139.9 81.0h0M147.9 80.3h0M137.7 87.8h0M149.9 80.0h0M154.3 72.5h0M156.3 78.4h0M158.4 75.5h0M142.8 82.2h0M154.7 94.8h0M141.0 72.6h0M151.7 92.7h0M151.2 76.6h0M156.2 79.8h0M146.5 86.4h0M146.9 87.3h0M148.9 85.6h0M146.4 90.7h0M145.5 88.2h0M140.2 83.1h0M148.8 81.4h0M154.9 83.6h0M154.6 70.8h0M141.8 89.9h0M137.8 84.0h0M150.0 82.0h0M148.9 85.6h0M142.9 84.2h0M140.5 75.4h0M146.9 68.9h0M145.6 83.0h0M141.9 70.7h0M144.0 84.2h0M148.8 73.5h0M146.0 94.0h0M154.4 75.5h0M143.3 72.9h0M146.8 80.6h0M155.1 74.0h0M144.1 86.5h0M152.9 76.4h0M140.7 85.8h0M148.6 91.7h0M155.3 73.3h0M141.5 69.5h0M135.8 91.6h0M145.6 91.6h0M144.7 78.9h0M148.9 83.6h0M142.9 83.5h0M134.2 72.7h0M138.4 83.5h0M141.2 86.2h0M148.4 70.6h0M142.4 67.2h0M146.0 88.4h0M149.6 77.0h0M144.8 84.7h0M148.4 89.5h0M140.7 76.8h0M141.4 84.1h0M142.8 93.4h0M139.4 79.9h0M136.6 69.7h0M141.6 87.9h0M145.1 78.2h0M143.1 77.5h0M148.8 90.0h0M137.1 67.3h0M153.8 74.0h0M134.0 89.6h0M154.7 68.7h0M151.7 77.9h0M142.1 73.7h0M151.2 86.4h0M152.2 77.1h0M146.2 80.6h0M152.6 83.6h0M136.2 80.8h0M143.5 82.7h0M153.0 86.5h0M147.6 74.8h0M150.7 82.8h0M157.9 88.6h0M158.5 85.1h0M146.5 73.7h0M145.9 76.2h0M150.1 94.1h0M149.6 89.8h0M147.3 83.7h0M133.7 81.3h0M145.5 79.2h0M142.8 83.2h0M139.8 78.0h0M137.0 67.5h0M140.2 75.7h0M141.6 85.8h0M148.0 86.0h0M138.8 80.0h0M154.5 81.8h0M146.6 86.0h0M133.6 82.5h0M153.0 78.1h0M154.7 94.6h0M148.6 83.7h0M151.2 86.8h0M133.5 87.7h0M153.9 75.8h0M136.8 74.9h0M139.7 85.5h0M152.0 80.3h0M141.2 69.7h0M140.0 83.6h0M137.1 74.5h0M134.7 77.3h0M142.4 90.4h0M150.8 74.6h0M138.8 82.0h0M149.7 78.4h0M143.6 80.2h0M135.2 82.8h0M150.2 80.5h0M134.7 80.0h0M144.0 83.3h0M141.2 88.6h0M154.8 88.5h0M147.1 92.6h0M144.6 78.3h0M156.0 70.2h0M145.4 68.0h0M147.6 78.5h0M152.2 74.7h0M150.3 90.6h0M147.5 80.3h0M151.2 78.0h0M140.9 82.3h0M154.9 74.9h0M149.5 73.5h0M138.3 81.8h0M132.9 71.3h0M134.2 73.9h0M150.5 80.8h0M148.9 73.6h0M154.4 76.0h0M133.1 73.5h0M151.4 74.6h0M151.2 74.3h0M142.8 74.4h0M140.0 73.3h0M158.5 79.5h0M156.3 91.4h0M144.0 78.4h0M140.6 81.3h0M149.2 80.0h0M137.5 70.2h0M133.7 73.5h0M144.6 86.0h0M143.9 82.5h0M148.2 91.6h0M133.1 91.2h0M148.9 85.5h0M142.6 86.5h0M151.1 87.0h0M133.2 92.8h0M145.5 89.5h0M144.8 72.9h0M151.8 75.4h0M142.9 91.3h0M155.8 69.2h0M150.3 77.4h0M142.3 74.4h0M144.1 83.6h0M141.4 79.6h0M138.7 76.2h0M147.7 92.9h0M149.8 90.3h0M136.6 83.3h0M148.5 89.4h0M139.2 78.2h0M140.2 91.5h0M154.7 75.6h0M143.6 82.3h0M136.7 78.9h0M152.7 87.8h0M138.7 73.6h0M147.7 81.3h0M132.8 77.7h0M138.8 77.4h0M136.9 93.7h0M136.1 87.7h0M146.7 94.5h0M144.3 80.1h0M142.0 68.9h0M138.0 84.5h0M154.2 89.5h0M148.5 85.8h0M141.9 75.8h0M140.2 74.1h0M137.6 92.5h0M133.9 70.4h0M143.4 84.6h0M139.0 77.4h0M151.3 78.6h0M151.5 74.3h0M149.3 92.7h0M141.9 76.8h0M143.4 84.7h0M133.9 80.5h0M139.5 94.2h0M142.0 72.7h0M146.1 77.8h0M145.2 82.5h0M155.8 76.1h0M147.4 70.1h0M157.0 68.7h0M137.6 80.1h0M147.0 83.5h0" stroke="#6a6a6a" stroke-width="0.76" stroke-linecap="round" fill="none" opacity="1.0"/>
<path d="M120.2 77.4h0M131.8 91.9h0M133.7 84.6h0M126.5 75.5h0M124.8 79.7h0M132.1 75.8h0M142.7 71.2h0M134.1 78.7h0M127.4 77.0h0M139.1 77.8h0M132.2 81.8h0M133.6 86.2h0M139.9 73.7h0M137.3 81.3h0M126.4 83.0h0M137.5 73.4h0M138.5 80.1h0M125.9 76.9h0M119.2 75.4h0M122.1 82.9h0M133.4 81.0h0M129.7 84.5h0M139.6 86.1h0M139.3 80.1h0M130.8 74.5h0M132.5 72.6h0M131.7 74.7h0M125.9 92.2h0M129.4 88.1h0M126.7 63.0h0M138.6 78.9h0M123.8 89.6h0M120.5 73.6h0M136.4 74.1h0M136.2 77.8h0M126.9 81.3h0M124.9 90.8h0M136.0 81.3h0M132.6 85.8h0M140.1 65.7h0M135.5 89.3h0M126.2 80.8h0M126.0 92.3h0M120.4 86.4h0M137.3 86.1h0M125.0 76.3h0M136.0 71.7h0M116.9 78.3h0M118.0 85.0h0M122.3 89.6h0M127.6 67.3h0M123.0 74.6h0M122.5 92.3h0M121.4 84.1h0M124.3 86.2h0M118.4 65.9h0M131.9 94.1h0M118.7 77.7h0M124.8 71.9h0M135.1 81.1h0M118.7 78.6h0M137.7 74.0h0M124.8 72.9h0M129.5 75.4h0M134.6 72.8h0M118.2 84.9h0" stroke="#888" stroke-width="0.70" stroke-linecap="round" fill="none" opacity="1.0"/>
<path d="M148.2 69.0h0M136.2 59.9h0M133.0 63.4h0M137.9 73.0h0M144.4 73.0h0M167.1 62.1h0M140.2 70.7h0M173.6 61.0h0M167.9 81.4h0M130.6 71.0h0M162.8 66.5h0M146.5 94.3h0M149.2 94.1h0M131.8 87.5h0M137.2 33.7h0M132.7 59.5h0M143.7 75.7h0M153.9 72.6h0M133.8 89.3h0M161.0 66.2h0M136.3 65.1h0M141.2 56.6h0M144.1 57.0h0M153.3 57.1h0M151.1 70.0h0M146.6 72.6h0M134.6 75.4h0M144.6 60.0h0M168.6 80.3h0M140.5 73.2h0M153.9 86.6h0M158.5 63.5h0M140.8 50.4h0M148.0 77.2h0M138.9 74.5h0M146.2 59.6h0M127.3 80.4h0M179.7 72.9h0M129.2 52.0h0M147.8 74.3h0M165.6 33.8h0M170.2 67.9h0M146.2 70.8h0M139.4 61.9h0M159.1 42.8h0M142.7 73.1h0M121.3 63.6h0" stroke="#999" stroke-width="0.70" stroke-linecap="round" fill="none" opacity="1.0"/>
<ellipse cx="129" cy="116" rx="7.15" ry="8.450000000000001" fill="#bdbdbd" opacity="0.55" filter="url(#b2)"/>
<path d="M134.8 117.7h0M131.7 119.1h0M129.8 117.6h0M125.8 115.2h0M136.1 110.8h0M128.3 110.6h0M126.9 112.7h0M124.2 117.1h0M125.3 118.3h0M128.5 117.7h0M129.8 121.3h0M129.6 108.6h0M134.8 112.0h0M128.6 117.5h0M125.6 116.5h0M134.7 108.8h0M122.6 114.1h0M128.3 110.5h0M120.1 120.0h0M130.5 110.3h0M131.2 115.8h0M129.6 110.3h0M128.1 118.1h0M122.2 111.5h0M132.7 124.7h0M131.5 115.8h0M124.8 114.3h0M128.0 118.0h0M128.0 126.8h0M124.5 116.0h0M132.8 117.8h0M118.4 108.9h0M134.2 118.6h0M138.8 119.5h0M130.8 122.7h0M127.3 113.7h0M125.1 117.1h0M130.7 120.1h0M134.6 118.8h0M133.7 115.0h0M125.3 119.2h0M132.9 121.9h0M128.3 114.0h0M127.6 117.6h0M128.8 115.2h0M130.0 114.8h0M130.3 113.4h0M123.0 114.7h0M136.3 112.5h0M132.5 121.9h0M126.9 117.2h0M120.2 118.5h0M134.9 116.9h0M121.3 113.5h0M126.1 116.5h0M130.1 114.2h0M127.8 112.5h0M131.2 116.9h0M130.3 113.8h0M130.9 114.7h0M130.1 115.3h0M126.4 111.3h0M121.8 110.1h0M130.8 130.3h0M122.7 112.5h0M129.0 131.6h0M128.2 111.0h0M130.6 125.2h0M118.2 110.9h0M133.8 111.0h0M128.6 113.3h0M131.9 109.7h0M130.2 117.0h0M131.2 117.9h0M127.7 111.9h0M131.0 115.0h0M129.6 120.9h0M128.6 123.4h0M132.2 109.5h0M126.7 121.4h0M127.1 121.3h0M126.8 115.5h0M133.0 109.1h0M129.3 114.0h0M129.7 123.5h0M130.9 110.1h0M132.7 114.0h0M129.6 121.1h0M127.8 120.2h0M129.7 112.1h0M127.8 110.1h0M133.6 116.7h0M132.7 111.1h0M132.3 110.8h0M130.1 116.0h0M126.7 117.4h0M129.1 112.2h0M126.1 110.3h0M134.3 116.7h0M127.6 119.1h0M125.7 110.9h0M130.4 123.0h0M130.2 116.7h0M135.7 109.2h0M140.8 111.2h0M128.7 110.1h0M124.3 115.0h0M138.4 111.9h0M126.6 117.2h0M125.1 114.9h0M127.8 114.7h0M127.0 115.5h0M122.1 114.1h0M127.0 111.5h0M133.9 124.8h0M132.1 112.2h0M134.5 118.2h0M125.9 118.7h0M126.8 118.5h0M132.5 121.1h0M124.9 115.4h0M129.0 110.6h0M130.6 119.1h0M123.7 113.6h0M124.7 110.4h0M124.9 122.1h0M126.4 114.3h0M132.8 120.5h0M126.6 114.2h0M126.8 124.7h0M128.4 121.2h0M128.3 115.7h0M131.0 118.0h0M130.9 108.4h0M131.0 117.4h0M131.3 115.8h0M130.6 110.2h0M133.4 110.6h0M134.4 120.5h0M128.8 114.7h0M132.0 114.7h0M124.4 117.2h0M124.3 114.0h0M135.9 119.6h0M127.3 115.7h0M126.5 116.0h0M123.4 119.0h0M129.1 113.3h0M126.6 127.6h0M127.3 113.9h0M126.8 113.8h0M134.0 119.0h0M130.6 117.6h0M134.8 119.2h0M129.8 117.2h0M129.8 116.1h0M131.2 116.2h0M132.8 117.4h0M127.9 118.7h0M129.7 114.0h0M127.6 114.1h0M127.8 114.0h0M132.8 128.9h0M128.6 121.0h0M127.2 115.3h0M126.1 110.0h0M125.7 113.7h0M129.6 114.5h0M124.4 114.4h0M134.8 112.1h0M129.3 120.5h0M125.9 113.5h0M140.1 121.5h0M127.0 116.7h0M129.4 116.7h0M130.8 114.7h0M120.5 111.7h0M129.6 110.0h0M127.8 122.7h0M129.9 113.1h0M129.5 120.6h0M122.4 110.5h0M126.4 114.1h0M128.7 113.4h0M129.4 116.4h0M124.5 113.2h0M124.2 117.3h0M130.0 118.9h0M125.6 113.6h0M120.5 116.1h0M122.8 117.5h0M133.2 118.0h0M131.4 117.0h0M130.4 120.2h0M133.9 124.9h0M128.0 119.7h0M132.3 117.9h0M130.0 110.4h0M133.2 112.1h0M126.5 112.2h0M131.1 111.7h0M130.8 118.5h0M129.4 114.5h0M131.3 121.8h0M127.2 111.4h0M126.7 112.1h0M128.1 115.3h0M120.1 122.4h0M125.9 114.1h0M125.1 117.0h0M129.9 122.7h0M127.9 120.1h0M130.2 111.9h0M132.8 113.3h0M130.4 114.2h0M128.2 116.7h0M134.1 108.6h0M124.7 116.4h0M132.7 115.2h0M128.3 118.3h0M135.1 112.0h0M122.9 114.8h0M131.9 110.2h0M133.3 120.1h0M132.0 112.3h0M124.0 118.9h0M130.0 119.0h0M133.3 120.4h0M127.9 116.0h0M130.7 119.3h0M128.3 113.7h0M125.2 120.5h0M130.3 113.5h0M124.1 113.7h0M124.1 114.0h0M126.9 118.3h0M126.7 109.9h0M131.8 115.1h0M122.6 112.1h0M128.9 115.8h0M121.9 115.4h0M130.1 120.4h0M133.2 115.4h0M124.0 114.3h0M131.5 111.9h0M133.8 111.8h0M124.7 119.7h0M128.6 117.4h0M127.8 116.1h0M126.8 124.3h0M131.5 115.4h0M130.8 119.7h0M127.0 116.8h0M129.8 113.5h0M126.0 115.1h0" stroke="#2a2a2a" stroke-width="0.80" stroke-linecap="round" fill="none" opacity="1.0"/>
<path d="M126.9 112.7h0M133.7 116.6h0M141.2 123.0h0M126.5 110.5h0M132.6 112.9h0M117.5 117.0h0M126.9 114.2h0M133.4 117.6h0M143.4 109.9h0M128.3 118.5h0M125.9 111.8h0M120.7 125.3h0M140.0 117.0h0M128.3 115.3h0M129.9 122.4h0M126.4 112.4h0M128.7 127.1h0M126.8 108.8h0M127.3 120.7h0M120.9 121.7h0M141.7 128.4h0M140.6 116.7h0M119.4 132.3h0M128.6 117.9h0M126.5 108.3h0M119.2 120.5h0M126.3 109.1h0M132.5 127.6h0M127.0 114.9h0M133.0 123.6h0M136.4 121.5h0M124.3 120.3h0M137.8 120.7h0M138.8 115.5h0M134.2 115.4h0M130.2 123.4h0M129.4 121.0h0M128.7 126.0h0M140.8 119.6h0M125.4 110.9h0M143.2 116.7h0M132.6 120.8h0M124.7 130.2h0M144.0 109.7h0M126.6 116.5h0M129.4 120.6h0M131.9 119.0h0M128.0 118.5h0M125.1 132.0h0M129.4 126.1h0M129.8 114.8h0M143.8 119.4h0M129.9 112.2h0M138.1 113.3h0M125.7 111.6h0M140.0 118.5h0M128.0 110.8h0M138.1 118.3h0M126.7 123.3h0M137.2 124.8h0M136.8 113.2h0M127.6 113.7h0M127.1 122.8h0M121.3 120.3h0M137.2 124.5h0M134.1 118.2h0M127.6 115.0h0M122.8 129.5h0M134.9 128.2h0M131.0 113.5h0M121.2 121.2h0M127.3 110.7h0M127.3 122.5h0M119.9 127.0h0M124.2 112.1h0M136.1 110.1h0M139.3 114.4h0M137.2 115.5h0M125.6 108.4h0M124.6 115.2h0M124.0 122.4h0M128.8 111.0h0M132.3 127.5h0M136.7 117.1h0M123.8 124.1h0M128.4 116.5h0M133.5 119.0h0M132.2 112.0h0M127.0 126.5h0M126.6 123.2h0M141.7 117.2h0M124.7 120.9h0M131.2 125.5h0M132.7 122.1h0M132.7 119.4h0M122.7 114.7h0M140.3 126.7h0M135.9 119.2h0M128.3 118.8h0M126.8 124.7h0M126.9 109.9h0M117.8 128.5h0M123.9 109.1h0M132.0 130.4h0M133.8 113.4h0M133.1 109.4h0M127.4 116.3h0M129.2 122.3h0M132.9 131.1h0M135.0 113.8h0M130.9 109.2h0M124.9 113.3h0M136.2 110.5h0M120.8 114.5h0M123.7 112.7h0M131.9 120.9h0M138.4 114.0h0M133.6 116.6h0M121.6 110.9h0M144.4 114.7h0M140.7 122.6h0M140.8 114.5h0M135.7 113.6h0M131.8 109.1h0M135.1 114.2h0M131.5 119.9h0M124.7 127.2h0M139.3 118.5h0M132.4 119.8h0M127.4 126.5h0M129.4 119.5h0M138.9 109.5h0M133.6 121.8h0M130.5 125.1h0M125.9 132.4h0M132.7 112.7h0M118.1 127.4h0M140.0 111.4h0M122.4 125.0h0M129.7 108.3h0M125.9 116.6h0M136.1 128.5h0M125.0 128.3h0M118.8 121.7h0M128.3 119.5h0M126.3 110.3h0M131.2 125.0h0M120.0 120.2h0M133.1 121.2h0M125.0 112.6h0M141.5 112.9h0M130.2 124.0h0M140.8 119.0h0M131.7 131.5h0M124.1 113.5h0M138.4 118.5h0M137.6 116.8h0M129.6 111.4h0M120.8 120.1h0M131.8 120.6h0M125.6 112.7h0M131.9 120.9h0M143.1 109.0h0M136.1 123.1h0M127.5 117.1h0M128.9 128.3h0M127.5 123.6h0M132.7 114.5h0M134.5 123.0h0M126.6 122.8h0M127.2 117.3h0M119.2 127.8h0M126.7 117.2h0M129.0 122.1h0M125.3 122.0h0M132.9 117.3h0M130.1 110.9h0M128.0 112.9h0M126.7 110.7h0M117.7 118.8h0M143.2 109.9h0M122.3 126.0h0M134.0 123.2h0M131.7 117.9h0M126.8 126.2h0M124.4 116.3h0M141.0 115.4h0M133.7 111.5h0M133.2 114.1h0M130.7 118.9h0M138.4 123.0h0M136.6 119.0h0M121.9 126.8h0M139.9 119.9h0M134.8 114.2h0M119.3 123.9h0M124.3 131.4h0M134.1 115.9h0M125.1 116.9h0M122.3 113.0h0M140.3 113.6h0M142.0 115.2h0M132.2 108.6h0M127.2 112.4h0M119.7 131.5h0M133.4 115.3h0M121.7 116.3h0M128.0 133.4h0M117.2 120.5h0M119.5 114.9h0M129.7 110.0h0M141.6 120.3h0M130.5 110.6h0M137.6 112.3h0M130.6 113.8h0M133.6 125.2h0M125.5 108.7h0M142.4 123.7h0M142.5 123.7h0M130.2 129.1h0M124.6 112.6h0M126.5 121.5h0M123.4 114.6h0M123.4 114.1h0M137.0 125.0h0M124.4 119.7h0M121.0 126.0h0M128.4 118.2h0M137.9 116.3h0M124.8 111.1h0M122.7 120.5h0M126.0 120.1h0M118.8 112.5h0M143.5 119.0h0M128.5 125.6h0M131.2 128.4h0M121.2 122.2h0M121.9 121.5h0M123.3 119.4h0M132.4 110.2h0M135.9 123.4h0M128.1 121.6h0M126.1 109.7h0M135.5 124.1h0M133.4 129.2h0M124.8 112.7h0M127.7 116.5h0M122.5 117.9h0M136.6 110.9h0M133.1 114.8h0M128.1 117.0h0M139.7 120.2h0M134.0 117.2h0M129.1 116.8h0M139.6 130.8h0M127.9 111.9h0M124.9 109.8h0M125.8 122.3h0M140.4 123.5h0M129.1 114.8h0M127.5 115.9h0M124.8 114.6h0M135.1 114.2h0M123.5 115.0h0M129.8 115.4h0M127.3 121.7h0M133.1 110.2h0M134.5 122.6h0M132.5 118.5h0M119.8 114.4h0M130.0 121.2h0M121.3 114.8h0M118.4 117.5h0M129.7 117.0h0M140.7 122.0h0M127.8 111.3h0M126.0 122.3h0M135.5 111.9h0M128.3 112.5h0M133.9 117.6h0M124.1 108.9h0M143.3 111.7h0M135.1 120.5h0M135.0 125.2h0M125.9 115.9h0M136.0 120.5h0M123.8 109.9h0M119.0 118.1h0M125.2 118.6h0M130.4 114.2h0M130.3 121.3h0M120.7 109.4h0M136.0 122.0h0M119.3 110.2h0M139.3 122.1h0M128.1 124.3h0M138.8 127.4h0M125.6 115.6h0M126.6 118.0h0M139.5 124.9h0M136.1 116.0h0M140.7 119.7h0M130.8 115.9h0M129.0 123.3h0M145.1 114.5h0M121.0 124.2h0M130.8 108.4h0M135.9 116.1h0M122.1 119.1h0M121.8 123.9h0M144.6 118.6h0M130.7 115.4h0M135.2 116.3h0M136.4 127.5h0M133.8 113.9h0M131.3 123.8h0M124.5 117.7h0M139.5 109.3h0M127.8 121.9h0M127.5 124.3h0M131.8 114.9h0M131.3 123.8h0M136.5 113.2h0M122.3 118.0h0M134.7 115.7h0M136.9 113.2h0M134.1 119.3h0" stroke="#6a6a6a" stroke-width="0.76" stroke-linecap="round" fill="none" opacity="1.0"/>
<ellipse cx="147" cy="157" rx="10.4" ry="11.05" fill="#bdbdbd" opacity="0.55" filter="url(#b2)"/>
<path d="M136.7 157.9h0M150.8 166.5h0M151.4 159.9h0M138.4 159.1h0M136.2 155.4h0M145.1 151.5h0M141.5 156.2h0M150.3 153.4h0M148.8 161.0h0M147.0 167.8h0M145.4 152.9h0M136.6 163.1h0M150.9 156.0h0M148.8 156.3h0M151.9 157.0h0M148.4 156.6h0M142.2 144.5h0M150.1 150.0h0M149.3 160.6h0M157.5 152.8h0M147.9 162.4h0M143.4 153.7h0M149.6 168.7h0M153.1 162.4h0M141.8 160.7h0M153.4 149.9h0M147.2 155.9h0M150.7 147.2h0M151.0 157.0h0M145.6 145.1h0M135.6 154.0h0M150.7 159.4h0M151.3 147.4h0M148.2 164.6h0M138.5 160.7h0M143.1 160.1h0M147.6 147.8h0M141.3 164.2h0M146.5 164.0h0M149.0 162.0h0M144.9 158.3h0M145.0 162.1h0M143.9 163.3h0M155.8 150.2h0M146.1 160.1h0M156.9 163.5h0M147.6 147.3h0M151.7 153.7h0M148.2 159.3h0M139.3 163.0h0M152.2 160.3h0M150.4 159.0h0M139.3 154.2h0M151.6 155.2h0M147.2 159.1h0M147.6 158.5h0M149.8 157.0h0M141.0 155.5h0M152.4 153.2h0M149.7 158.7h0M142.2 141.1h0M147.0 152.6h0M143.6 162.3h0M142.8 159.0h0M147.7 158.1h0M158.1 145.9h0M152.4 156.2h0M145.5 153.3h0M147.3 157.3h0M142.0 166.2h0M143.0 156.2h0M140.1 157.9h0M149.1 163.1h0M152.5 154.2h0M156.0 156.4h0M155.7 166.6h0M144.9 151.0h0M150.1 165.1h0M149.3 163.2h0M150.4 162.0h0M154.4 155.4h0M139.3 156.3h0M142.7 150.3h0M146.2 161.0h0M136.9 148.5h0M151.5 152.0h0M144.9 164.6h0M153.3 159.0h0M150.1 141.8h0M150.1 159.2h0M139.4 158.0h0M149.6 156.4h0M151.4 162.0h0M147.4 155.6h0M140.6 163.4h0M143.9 158.8h0M155.5 161.4h0M140.1 156.5h0M143.1 147.8h0M142.6 160.3h0M148.9 155.8h0M148.0 150.5h0M142.8 156.1h0M151.5 155.2h0M146.2 158.9h0M155.2 149.9h0M150.0 158.0h0M146.7 158.4h0M136.1 157.2h0M145.8 150.1h0M151.7 156.3h0M145.2 161.3h0M142.0 153.0h0M151.6 161.9h0M158.2 154.4h0M139.0 148.7h0M140.5 157.6h0M145.7 153.2h0M141.5 153.1h0M145.1 163.7h0M150.5 164.7h0M151.6 161.3h0M153.6 159.5h0M155.6 163.3h0M157.1 158.2h0M145.5 159.9h0M145.0 153.1h0M149.5 150.7h0M146.2 164.9h0M147.7 161.6h0M150.6 159.2h0M147.6 160.4h0M141.7 160.3h0M141.1 152.8h0M143.8 149.5h0M136.2 159.1h0M149.8 160.7h0M159.2 158.0h0M151.2 152.8h0M151.0 150.6h0M157.9 151.6h0M144.8 161.2h0M134.9 164.5h0M141.8 158.1h0M152.5 157.9h0M152.2 154.2h0M150.3 144.8h0M155.4 153.3h0M142.3 157.1h0M156.4 153.1h0M146.9 155.0h0M141.9 149.7h0M150.3 161.0h0M142.9 158.3h0M149.5 159.1h0M146.1 157.3h0M148.6 151.0h0M146.2 161.5h0M143.9 164.4h0M145.7 150.8h0M145.4 149.4h0M150.4 148.1h0M147.1 155.7h0M145.4 159.4h0M148.6 153.9h0M151.6 154.5h0M152.0 164.5h0M149.1 162.2h0M139.6 160.2h0M138.8 156.0h0M150.9 142.0h0M142.7 152.7h0M141.8 157.1h0M150.5 150.5h0M143.6 146.6h0M143.1 145.3h0M138.7 159.6h0M151.9 152.5h0M149.0 152.7h0M152.9 166.8h0M133.4 152.2h0M143.5 154.3h0M155.6 165.8h0M146.9 160.6h0M138.2 155.3h0M145.4 156.2h0M148.7 148.3h0M141.3 169.0h0M137.4 157.3h0M151.0 159.8h0M147.3 148.0h0M144.4 148.3h0M157.9 159.0h0M151.0 158.1h0M144.9 163.6h0M151.9 160.6h0M150.2 161.1h0M145.5 159.4h0M147.5 155.6h0M150.6 169.0h0M135.8 165.1h0M144.6 163.7h0M141.4 156.0h0M152.7 156.6h0M148.9 150.2h0M140.7 166.3h0M147.9 156.5h0M139.4 151.2h0M141.3 156.7h0M146.4 153.6h0M143.3 157.6h0M153.5 149.1h0M139.2 163.3h0M139.1 154.7h0M147.7 167.2h0M135.7 140.7h0M146.6 163.0h0M147.8 152.5h0M148.1 145.5h0M151.5 165.3h0M145.9 161.6h0M141.2 165.3h0M143.4 152.5h0M142.8 147.1h0M150.7 168.2h0M139.1 155.9h0M149.5 153.8h0M138.4 158.9h0M152.6 157.6h0M141.1 155.3h0M136.3 156.7h0M153.7 163.2h0M146.5 159.4h0M144.1 157.7h0M143.7 157.9h0M144.1 158.1h0M150.8 156.9h0M139.9 159.8h0M145.6 154.2h0M150.1 152.3h0M152.2 160.1h0M143.2 153.1h0M146.3 151.9h0M152.2 144.3h0M147.8 155.0h0M141.0 160.5h0M144.3 159.6h0M144.6 155.4h0M149.9 162.4h0M152.5 156.9h0M155.2 155.1h0M139.5 146.5h0M139.0 152.1h0M137.2 158.8h0M147.2 156.8h0M148.3 156.4h0M145.6 155.2h0M147.2 150.7h0M154.0 165.7h0M147.2 169.8h0M141.7 162.1h0M138.1 160.4h0M142.9 162.7h0M147.6 162.4h0M150.4 160.0h0M145.5 166.0h0M149.0 159.7h0M154.9 155.6h0M156.6 163.1h0" stroke="#2a2a2a" stroke-width="0.80" stroke-linecap="round" fill="none" opacity="1.0"/>
<path d="M147.8 141.9h0M159.5 153.8h0M148.0 158.3h0M156.8 163.6h0M150.6 158.8h0M155.2 162.9h0M160.4 161.0h0M150.1 164.2h0M143.6 164.5h0M144.9 164.5h0M139.3 169.3h0M146.5 159.5h0M138.9 152.8h0M149.7 168.0h0M160.3 152.1h0M146.4 153.8h0M158.6 143.0h0M160.0 164.9h0M155.1 164.8h0M153.0 163.8h0M159.3 161.5h0M153.5 161.5h0M148.5 147.9h0M134.4 141.6h0M154.1 153.6h0M155.0 152.2h0M151.0 154.9h0M155.5 166.3h0M135.1 150.6h0M148.8 154.8h0M139.4 155.9h0M150.2 145.8h0M145.2 157.1h0M160.0 159.1h0M161.1 160.5h0M134.6 159.1h0M152.0 149.7h0M155.6 155.4h0M155.2 159.1h0M137.6 168.0h0M150.4 156.7h0M151.7 167.3h0M146.8 146.9h0M146.5 161.6h0M139.6 148.8h0M149.8 166.2h0M144.7 162.2h0M142.0 153.5h0M149.1 167.2h0M155.6 153.3h0M151.3 142.1h0M139.8 143.0h0M157.6 152.3h0M148.0 157.8h0M145.0 144.7h0M146.8 164.4h0M145.1 156.0h0M150.3 159.6h0M143.7 168.4h0M151.8 139.9h0M150.5 149.6h0M146.0 158.3h0M142.9 153.8h0M140.7 159.4h0M146.0 142.3h0M149.5 150.3h0M139.0 154.8h0M149.8 164.2h0M141.1 159.8h0M150.9 165.5h0M135.1 154.9h0M142.4 152.1h0M139.3 165.6h0M155.1 160.8h0M134.3 150.5h0M146.6 161.3h0M141.6 154.2h0M155.7 144.5h0M155.1 158.9h0M139.1 165.4h0M141.0 153.9h0M147.4 159.3h0M142.8 160.2h0M147.2 159.1h0M151.1 150.4h0M133.4 156.3h0M159.6 160.6h0M149.5 149.3h0M135.6 144.0h0M137.9 153.1h0M141.7 159.5h0M151.0 165.2h0M143.6 155.5h0M144.8 162.8h0M140.2 155.4h0M148.7 153.4h0M152.2 147.5h0M138.4 153.2h0M161.0 162.9h0M147.9 164.1h0M139.3 149.7h0M152.5 159.2h0M149.6 146.4h0M149.7 141.9h0M156.5 157.2h0M140.7 152.1h0M147.4 159.8h0M137.5 143.3h0M149.6 152.4h0M152.3 168.2h0M146.0 162.7h0M149.0 159.5h0M142.0 159.6h0M151.6 157.9h0M142.6 141.8h0M157.4 160.2h0M150.1 155.5h0M154.0 167.2h0M144.7 160.3h0M156.8 140.5h0M137.8 151.1h0M135.5 152.5h0M138.7 152.9h0M152.0 144.7h0M149.1 144.2h0M141.1 169.4h0M144.6 150.5h0M155.1 149.6h0M136.0 163.5h0M147.4 150.2h0M151.9 168.7h0M158.1 158.2h0M151.8 162.3h0M140.6 151.2h0M139.0 146.9h0M158.2 157.1h0M148.9 156.6h0M136.9 156.1h0M135.0 162.3h0M136.0 150.2h0M155.1 163.4h0M144.3 151.7h0M152.8 148.2h0M138.5 167.1h0M151.9 157.0h0M156.3 153.5h0M141.3 161.5h0M153.5 155.9h0M156.0 162.6h0M136.9 160.2h0M147.4 149.3h0M142.2 163.2h0M146.5 141.6h0M146.2 157.6h0M151.6 168.7h0M148.2 146.9h0M158.0 168.7h0M141.4 143.1h0M155.4 151.1h0M135.6 156.2h0M152.7 149.2h0M147.6 167.6h0M154.7 140.7h0M156.4 156.2h0M150.9 140.5h0M141.4 151.6h0M152.6 160.8h0M155.8 146.7h0M155.9 154.2h0M152.4 159.5h0M161.0 143.6h0M133.4 164.0h0M145.6 164.2h0M135.2 158.1h0M142.2 166.9h0M160.6 146.1h0M138.5 161.7h0M137.1 163.4h0M147.0 164.5h0M144.2 164.1h0M137.5 146.8h0M159.5 154.5h0M137.5 148.0h0M137.6 158.4h0M143.6 166.2h0M135.7 156.4h0M160.7 155.8h0M156.1 156.5h0M136.3 147.8h0M136.0 160.7h0M137.5 158.3h0M140.0 169.5h0M133.8 165.2h0M135.0 152.2h0M148.9 158.6h0M146.6 156.4h0M138.6 155.9h0M146.5 147.2h0M152.8 159.0h0M159.8 153.1h0M161.7 161.7h0M138.3 169.0h0M151.8 166.9h0M156.4 153.6h0M147.9 146.6h0M142.5 169.0h0M137.9 146.8h0M156.5 155.3h0M149.3 168.0h0M153.0 159.5h0M144.8 150.8h0M150.8 147.6h0M150.4 149.2h0M152.2 154.5h0M140.0 162.8h0M154.6 140.0h0M134.3 154.3h0M158.0 153.6h0M133.6 160.3h0M149.7 169.5h0M140.8 139.9h0M145.1 162.3h0M145.0 151.7h0M147.9 155.1h0M161.0 143.2h0M149.8 140.8h0M146.7 161.8h0M150.5 160.3h0M139.7 141.7h0M156.6 153.4h0M145.5 152.5h0M150.0 155.1h0M152.7 144.1h0M141.7 151.6h0M148.1 167.6h0M147.6 159.8h0M150.8 162.0h0M135.1 155.7h0M138.7 147.0h0M145.4 168.4h0M156.2 150.8h0M161.9 164.2h0M153.0 163.1h0M161.5 144.8h0M141.9 157.0h0M146.9 156.4h0M145.1 155.8h0M143.7 141.9h0M158.3 157.3h0M150.7 157.4h0M139.3 140.0h0M144.2 162.7h0M145.9 164.9h0M139.2 153.9h0M148.6 156.0h0M142.9 158.5h0M140.6 162.8h0M149.3 149.2h0M137.0 144.3h0M144.3 158.7h0M142.1 155.8h0M148.4 159.4h0M153.6 151.7h0M141.7 165.3h0M141.1 150.0h0M146.1 162.9h0M138.4 143.8h0M158.1 157.3h0M154.9 144.8h0M150.0 167.6h0M141.8 148.6h0M144.9 148.5h0M148.3 148.8h0M147.4 143.2h0M143.8 153.4h0M142.5 156.2h0M134.4 142.7h0M138.7 164.9h0M137.5 147.1h0M143.2 147.6h0M161.7 162.6h0" stroke="#6a6a6a" stroke-width="0.76" stroke-linecap="round" fill="none" opacity="1.0"/>
<path d="M120.5 139.5h0M136.0 159.9h0M125.1 163.4h0M120.0 159.2h0M135.1 164.3h0M126.1 151.9h0M125.6 162.4h0M125.8 154.4h0M135.4 154.6h0M130.2 154.5h0M128.6 134.3h0M122.2 159.3h0M124.2 149.8h0M123.4 146.5h0M116.4 160.2h0M128.1 147.6h0M125.7 165.2h0M135.4 159.3h0M136.3 165.5h0M125.4 163.4h0M129.6 163.1h0M120.1 159.2h0M125.0 152.2h0M128.4 155.3h0M140.0 155.2h0M130.2 166.0h0M138.7 146.4h0M130.5 142.9h0M131.8 169.4h0M125.0 153.0h0M136.5 160.0h0M133.9 151.3h0M126.4 152.1h0M139.1 141.2h0M128.0 145.1h0M130.1 153.6h0M127.7 160.5h0M133.8 141.2h0M119.5 154.8h0M120.7 162.2h0M122.8 152.5h0M125.7 160.1h0M119.7 142.1h0M129.8 168.9h0M125.1 159.7h0M130.3 156.8h0M128.4 150.3h0M126.8 167.4h0M131.5 168.2h0M123.6 156.9h0M124.2 142.8h0M134.5 153.0h0M130.1 141.9h0M126.8 154.5h0M125.9 165.6h0M131.6 157.0h0M130.0 151.4h0M123.7 153.0h0M121.6 154.0h0M127.7 166.7h0M125.0 157.0h0M128.3 149.7h0M128.1 138.4h0" stroke="#888" stroke-width="0.70" stroke-linecap="round" fill="none" opacity="1.0"/>
<path d="M159.5 132.8h0M144.1 115.9h0M152.1 123.2h0M162.7 126.4h0M134.6 149.8h0M161.6 113.6h0M121.7 162.8h0M150.4 119.9h0M138.6 150.2h0M139.2 161.3h0M134.8 143.0h0M160.0 161.0h0M147.6 148.7h0M139.9 139.8h0M136.7 146.0h0M155.7 126.9h0M128.8 141.3h0M171.3 143.8h0M146.2 140.1h0M121.9 130.9h0M164.7 111.8h0M168.5 124.2h0M164.5 138.8h0M152.3 133.1h0M138.4 143.5h0M140.2 125.8h0M140.7 149.6h0M134.1 145.6h0M126.3 142.0h0M128.9 151.2h0M130.4 149.2h0M117.7 143.1h0M159.1 129.3h0M145.1 128.8h0M150.8 151.1h0M159.8 159.0h0M161.9 130.6h0M145.9 148.0h0M146.9 122.6h0M145.2 104.8h0M168.9 138.1h0M174.8 126.2h0M151.4 151.6h0M125.1 136.1h0M151.0 149.8h0M149.6 104.5h0" stroke="#999" stroke-width="0.70" stroke-linecap="round" fill="none" opacity="1.0"/>
<ellipse cx="123.5" cy="194.5" rx="7.15" ry="7.800000000000001" fill="#bdbdbd" opacity="0.55" filter="url(#b2)"/>
<path d="M129.4 188.1h0M124.9 198.3h0M119.9 187.9h0M124.5 192.6h0M123.1 193.6h0M123.0 195.8h0M121.5 194.3h0M121.4 190.9h0M124.8 191.0h0M125.4 194.4h0M127.4 196.9h0M125.9 194.9h0M123.6 199.0h0M126.0 188.9h0M123.8 198.6h0M124.0 189.2h0M126.3 197.0h0M127.7 195.2h0M123.9 198.0h0M119.4 201.6h0M124.9 195.4h0M126.3 197.8h0M123.1 191.2h0M126.8 198.4h0M124.9 191.9h0M123.8 190.5h0M132.8 191.7h0M126.7 201.3h0M120.3 192.3h0M118.6 195.1h0M122.6 194.5h0M123.6 192.5h0M123.9 194.2h0M120.8 193.2h0M121.4 189.1h0M123.4 186.7h0M125.4 194.3h0M124.1 199.3h0M127.0 192.7h0M124.7 199.4h0M122.9 196.1h0M125.0 190.2h0M124.5 192.9h0M122.5 196.3h0M125.9 190.7h0M122.5 193.7h0M119.9 196.0h0M122.7 191.5h0M126.9 194.1h0M119.2 194.1h0M122.8 195.7h0M131.8 196.8h0M128.8 193.8h0M125.2 196.5h0M123.1 195.5h0M121.8 197.4h0M120.1 201.6h0M123.0 196.0h0M124.0 187.7h0M125.0 190.8h0M124.2 192.7h0M122.5 188.2h0M118.6 192.2h0M119.5 195.5h0M118.3 195.4h0M125.5 191.4h0M119.9 193.0h0M126.4 200.3h0M131.4 194.8h0M125.7 195.3h0M123.4 190.0h0M122.1 199.1h0M128.5 192.0h0M117.5 202.3h0M123.6 196.4h0M122.8 187.0h0M124.6 190.5h0M122.4 191.9h0M122.5 204.5h0M129.0 186.3h0M117.8 192.4h0M121.0 197.7h0M129.2 191.4h0M125.5 193.6h0M129.9 191.1h0M125.8 192.3h0M123.1 192.6h0M122.9 194.7h0M121.2 195.6h0M118.7 197.9h0M119.9 186.7h0M126.5 193.0h0M121.5 198.3h0M123.3 202.6h0M125.0 188.5h0M121.6 191.7h0M122.4 201.5h0M133.5 201.6h0M125.1 196.8h0M124.1 185.3h0M128.6 202.8h0M121.5 194.4h0M120.8 193.6h0M120.3 189.8h0M127.9 186.4h0M127.2 189.7h0M122.5 186.1h0M125.9 190.3h0M132.6 190.6h0M124.4 197.2h0M119.9 191.0h0M119.5 196.8h0M124.5 198.7h0M118.1 190.6h0M123.0 192.6h0M124.6 199.2h0M123.9 191.2h0M123.3 191.5h0M121.0 202.2h0M125.9 202.1h0M122.7 194.2h0M118.8 195.5h0M126.1 197.4h0M119.2 194.9h0M126.9 192.5h0M126.0 192.4h0M123.4 192.1h0M118.0 191.0h0M124.1 193.3h0M123.4 192.1h0M126.7 193.7h0M124.9 192.5h0M128.3 194.1h0M125.1 203.7h0M125.0 188.0h0M121.0 195.8h0M118.6 188.3h0M123.0 187.9h0M127.5 196.3h0M122.3 199.5h0M120.9 189.5h0M126.8 194.6h0M122.6 198.8h0M123.0 197.2h0M124.3 199.3h0" stroke="#2a2a2a" stroke-width="0.80" stroke-linecap="round" fill="none" opacity="1.0"/>
<path d="M127.2 190.8h0M133.7 191.7h0M135.3 184.6h0M127.0 204.8h0M120.7 198.1h0M121.9 205.6h0M125.7 197.2h0M128.2 195.5h0M132.3 194.7h0M127.6 194.1h0M122.2 184.2h0M123.1 190.8h0M135.9 192.6h0M124.3 195.2h0M117.7 187.6h0M131.5 196.8h0M117.9 200.2h0M121.3 197.1h0M123.4 209.3h0M116.9 193.7h0M120.1 196.6h0M122.0 197.9h0M131.4 185.7h0M119.0 204.7h0M127.2 202.2h0M118.8 187.8h0M118.8 198.5h0M128.1 201.8h0M130.1 194.9h0M134.5 191.7h0M124.5 207.2h0M120.3 194.5h0M125.2 195.9h0M121.9 202.3h0M138.2 191.5h0M124.5 200.0h0M122.7 202.4h0M120.7 204.6h0M129.5 196.2h0M125.3 186.4h0M122.3 193.3h0M132.9 189.2h0M124.4 190.9h0M118.3 197.9h0M130.1 183.5h0M124.6 198.5h0M125.6 193.8h0M132.9 187.7h0M121.8 198.6h0M123.0 192.6h0M122.7 197.6h0M128.6 186.4h0M117.3 185.8h0M140.3 190.3h0M123.5 198.3h0M122.2 192.5h0M125.3 188.8h0M121.2 194.0h0M124.9 198.8h0M119.4 200.2h0M120.3 200.5h0M132.7 199.3h0M124.9 184.7h0M121.3 193.4h0M120.5 194.6h0M134.5 187.8h0M127.1 198.2h0M118.9 186.1h0M117.4 199.0h0M124.6 202.4h0M126.0 195.4h0M123.6 196.3h0M123.8 199.7h0M117.6 202.8h0M134.6 193.8h0M127.4 185.5h0M124.2 183.5h0M130.3 194.9h0M130.9 203.2h0M118.5 200.8h0M122.8 198.7h0M119.2 199.4h0M127.6 205.7h0M122.5 195.0h0M127.0 193.2h0M128.3 194.7h0M126.4 182.9h0M127.6 198.7h0M134.7 200.8h0M119.3 188.9h0M122.9 204.1h0M134.9 195.1h0M127.6 193.3h0M117.8 206.0h0M127.0 191.5h0M116.9 194.6h0M135.0 199.6h0M124.9 198.9h0M131.7 204.7h0M121.7 187.8h0M116.8 195.0h0M121.5 194.6h0M118.8 205.5h0M117.7 188.5h0M121.9 199.9h0M122.8 194.5h0M128.1 203.3h0M121.6 204.0h0M124.0 187.6h0M127.1 202.0h0M125.2 194.3h0M121.8 199.7h0M124.9 204.0h0M123.5 187.5h0M142.3 197.0h0M118.5 189.9h0M124.2 184.3h0M129.5 195.3h0M120.7 196.1h0M126.0 203.6h0M137.4 189.8h0M126.1 188.5h0M124.4 203.3h0M128.0 192.3h0M135.9 201.4h0M132.0 195.2h0M132.8 193.4h0M129.6 194.9h0M130.3 199.0h0M119.2 195.1h0M127.7 199.4h0M131.5 195.6h0M125.0 196.7h0M120.7 206.1h0M118.9 190.5h0M130.7 185.5h0M134.0 201.8h0M137.6 190.0h0M121.5 191.1h0M129.1 187.7h0M123.9 196.2h0M137.4 188.2h0M130.3 198.9h0M129.7 186.1h0M130.3 195.9h0M118.7 191.4h0M125.9 206.2h0M128.7 194.3h0M127.2 189.9h0M120.9 197.0h0M119.2 209.9h0M122.7 203.2h0M129.8 191.9h0M121.9 210.0h0M124.3 184.1h0M117.7 205.3h0M134.1 199.9h0M117.8 190.6h0M120.1 202.9h0M127.2 199.0h0M120.4 190.6h0M131.2 189.8h0M121.6 198.9h0M122.3 202.2h0M127.5 199.6h0" stroke="#6a6a6a" stroke-width="0.76" stroke-linecap="round" fill="none" opacity="1.0"/>
<ellipse cx="143" cy="231" rx="9.75" ry="10.4" fill="#bdbdbd" opacity="0.55" filter="url(#b2)"/>
<path d="M155.0 228.0h0M153.9 223.9h0M139.0 217.1h0M139.6 226.6h0M146.7 238.1h0M155.1 228.1h0M148.6 230.0h0M141.2 220.2h0M147.6 225.8h0M146.4 227.3h0M145.6 225.7h0M145.1 241.2h0M145.0 223.3h0M139.0 231.8h0M147.3 224.1h0M138.3 221.9h0M152.2 232.7h0M144.7 228.6h0M153.0 234.3h0M142.5 237.9h0M146.1 229.4h0M141.2 231.1h0M150.3 223.0h0M134.4 234.9h0M148.6 239.2h0M146.1 222.5h0M147.3 232.0h0M137.8 222.0h0M135.0 231.4h0M136.3 233.0h0M142.2 234.7h0M147.6 225.8h0M141.1 235.2h0M139.7 236.8h0M146.2 236.1h0M139.9 235.5h0M141.9 232.3h0M146.3 227.8h0M142.8 217.5h0M139.4 234.5h0M137.4 219.0h0M135.6 229.3h0M146.5 234.0h0M135.7 233.3h0M136.7 237.2h0M145.1 227.4h0M140.6 230.6h0M140.0 237.6h0M144.6 227.8h0M145.4 223.2h0M143.9 229.1h0M140.1 230.7h0M144.2 222.7h0M147.2 227.6h0M144.9 240.4h0M137.5 240.4h0M141.2 241.8h0M138.8 237.0h0M140.1 238.2h0M147.6 232.9h0M138.8 237.0h0M145.0 224.8h0M145.9 230.0h0M142.4 225.4h0M144.1 235.9h0M138.7 235.6h0M133.7 231.6h0M144.4 225.5h0M143.8 223.5h0M152.6 233.3h0M148.6 225.7h0M149.9 230.1h0M149.0 233.3h0M144.7 237.0h0M140.0 228.6h0M148.6 233.6h0M140.3 224.8h0M147.7 230.1h0M136.5 233.3h0M145.5 244.0h0M144.5 216.6h0M138.3 235.3h0M140.6 230.7h0M142.6 239.2h0M144.7 230.1h0M139.8 236.7h0M139.5 233.4h0M145.1 235.3h0M147.0 232.6h0M153.0 235.5h0M139.2 225.8h0M139.5 238.6h0M137.5 239.9h0M145.2 227.6h0M138.0 230.4h0M146.8 230.6h0M146.6 232.0h0M149.8 228.2h0M142.4 224.5h0M141.4 225.3h0M135.5 229.7h0M146.4 218.2h0M136.7 223.0h0M144.9 234.2h0M144.6 229.9h0M139.2 232.1h0M138.7 229.7h0M145.0 229.5h0M149.0 218.6h0M135.1 236.7h0M140.2 228.3h0M140.3 230.6h0M142.3 233.0h0M147.6 241.6h0M132.5 230.4h0M138.6 232.2h0M138.0 231.4h0M144.4 230.8h0M144.2 234.7h0M137.8 230.7h0M148.2 236.3h0M147.9 226.3h0M139.7 236.6h0M143.0 232.7h0M141.3 236.2h0M143.9 225.3h0M144.9 229.0h0M141.7 234.2h0M143.8 227.7h0M137.3 228.4h0M142.4 224.2h0M140.0 244.2h0M139.9 231.3h0M136.9 229.1h0M144.2 231.9h0M134.7 231.2h0M138.2 237.2h0M142.5 240.0h0M144.8 224.4h0M147.7 228.2h0M142.5 231.5h0M136.6 237.7h0M143.8 225.1h0M136.3 233.6h0M149.0 233.3h0M144.6 228.6h0M148.4 234.1h0M139.1 227.5h0M132.4 237.6h0M157.8 230.3h0M145.2 235.3h0M141.9 243.2h0M138.0 226.2h0M151.0 236.2h0M146.7 230.4h0M142.8 231.8h0M145.1 227.6h0M148.1 240.9h0M140.4 225.6h0M138.3 238.7h0M139.7 226.7h0M148.4 230.0h0M142.8 235.0h0M148.6 232.4h0M150.7 227.2h0M140.4 234.9h0M146.2 221.2h0M141.5 234.9h0M142.2 241.2h0M135.2 232.2h0M138.8 222.0h0M141.9 230.7h0M141.0 227.5h0M147.2 225.1h0M139.9 223.1h0M148.8 222.7h0M151.5 225.8h0M142.8 240.3h0M137.8 238.5h0M136.6 228.4h0M145.8 233.0h0M144.7 232.8h0M150.8 221.9h0M139.6 236.0h0M135.8 227.1h0M155.1 238.7h0M145.5 231.5h0M142.2 226.1h0M138.7 225.5h0M136.7 231.8h0M145.1 225.8h0M143.7 223.6h0M144.9 229.2h0M142.7 232.2h0M149.5 232.3h0M139.8 232.0h0M145.0 234.1h0M148.2 226.4h0M137.1 234.6h0M137.4 233.6h0M156.5 238.1h0M135.7 226.4h0M144.9 229.5h0M146.5 232.5h0M144.7 234.2h0M135.3 237.6h0M136.0 226.1h0M145.0 229.0h0M137.1 218.8h0M145.8 224.6h0M141.2 232.5h0M142.7 233.4h0M151.2 235.1h0M138.0 230.9h0M141.9 226.2h0M146.3 228.9h0M144.2 234.7h0M153.4 227.7h0M146.6 243.3h0M150.9 232.8h0M139.4 232.0h0M139.9 228.7h0M134.4 229.5h0M133.0 236.7h0M145.6 228.8h0M143.2 231.8h0M141.8 232.8h0M142.1 233.7h0M139.0 231.5h0M151.4 226.5h0M139.0 236.5h0M144.6 232.0h0M143.9 228.8h0M140.4 234.0h0M143.9 234.8h0M145.3 243.8h0M143.5 239.1h0M143.8 243.9h0M147.9 226.9h0M150.9 228.0h0M148.1 226.9h0M144.8 232.1h0M150.2 219.0h0M133.4 236.7h0M146.8 228.3h0M143.5 221.3h0M141.1 227.5h0M147.5 232.6h0M142.2 237.8h0M139.8 235.5h0M141.9 233.8h0M141.6 239.2h0M140.9 242.6h0M147.0 226.5h0M140.8 238.8h0M150.4 224.4h0M143.9 234.8h0M155.0 235.0h0M142.0 236.5h0M143.4 226.4h0M142.8 230.0h0M142.0 231.7h0M144.8 226.8h0M146.4 222.3h0" stroke="#2a2a2a" stroke-width="0.80" stroke-linecap="round" fill="none" opacity="1.0"/>
<path d="M149.3 236.6h0M147.0 215.8h0M138.4 233.7h0M147.4 239.4h0M153.2 219.3h0M140.6 228.8h0M154.8 234.5h0M144.0 240.6h0M144.4 226.5h0M131.9 241.3h0M154.5 223.8h0M147.4 239.4h0M147.7 240.5h0M134.8 240.4h0M142.7 228.4h0M143.4 235.3h0M149.4 231.7h0M133.4 220.1h0M134.9 233.7h0M139.0 241.1h0M155.0 241.4h0M149.3 242.9h0M159.0 222.6h0M145.6 224.9h0M143.5 229.4h0M144.2 239.2h0M145.6 242.9h0M141.1 237.2h0M150.2 216.1h0M133.1 234.2h0M146.0 219.3h0M155.0 217.7h0M154.2 236.5h0M140.2 232.0h0M142.7 232.2h0M141.2 224.1h0M135.9 218.4h0M149.0 234.4h0M147.3 221.8h0M139.4 242.5h0M158.0 234.6h0M160.9 223.2h0M137.4 227.9h0M134.0 238.7h0M145.9 218.0h0M148.4 234.1h0M133.3 233.2h0M146.1 224.2h0M144.2 227.1h0M137.2 226.3h0M139.0 233.0h0M142.3 229.7h0M135.2 239.8h0M146.7 228.6h0M134.8 235.1h0M135.5 222.9h0M138.3 241.9h0M140.3 230.2h0M139.8 238.2h0M141.4 240.6h0M141.5 240.8h0M140.1 224.0h0M146.8 229.8h0M138.3 223.7h0M147.7 227.7h0M139.7 224.3h0M138.7 238.2h0M134.1 228.5h0M135.6 229.8h0M148.4 235.9h0M155.6 239.5h0M147.3 238.0h0M150.4 221.1h0M134.5 232.9h0M139.6 235.4h0M136.9 236.4h0M141.3 222.1h0M144.9 242.2h0M139.3 233.0h0M152.8 230.0h0M139.7 235.1h0M146.7 236.3h0M154.1 236.7h0M142.9 227.4h0M145.1 237.6h0M154.1 218.5h0M149.7 234.0h0M150.2 243.4h0M147.2 223.7h0M141.4 243.2h0M134.7 225.5h0M151.8 229.0h0M147.1 223.4h0M144.6 222.3h0M143.7 225.9h0M133.0 239.4h0M142.5 232.4h0M139.9 225.7h0M145.7 232.4h0M140.4 230.2h0M146.3 242.7h0M132.5 242.1h0M150.8 240.4h0M137.3 234.2h0M162.0 217.9h0M150.2 229.3h0M157.9 233.5h0M150.3 225.4h0M140.1 218.8h0M148.3 219.0h0M142.9 229.5h0M150.0 234.9h0M149.3 229.9h0M141.4 238.6h0M132.1 234.6h0M135.9 239.6h0M145.7 231.6h0M150.9 229.3h0M141.4 235.3h0M149.7 223.3h0M138.1 224.0h0M147.8 236.2h0M144.3 218.1h0M134.8 216.6h0M145.2 237.2h0M150.4 216.0h0M147.0 234.4h0M145.5 224.2h0M155.8 233.0h0M140.1 217.3h0M141.8 242.3h0M152.8 239.8h0M138.5 219.4h0M140.9 233.2h0M141.1 228.7h0M143.8 216.6h0M152.3 219.4h0M143.6 222.6h0M155.1 226.0h0M133.8 228.0h0M150.6 218.8h0M140.8 241.9h0M138.4 238.5h0M132.1 228.7h0M136.3 236.1h0M139.7 227.4h0M147.1 240.1h0M144.5 235.6h0M144.1 219.0h0M149.8 241.2h0M136.8 233.8h0M155.7 234.3h0M143.0 234.5h0M143.8 239.3h0M136.0 227.2h0M138.3 237.2h0M161.2 233.8h0M144.0 222.0h0M150.2 226.5h0M144.8 222.1h0M148.4 230.2h0M137.0 240.5h0M146.6 226.2h0M144.0 242.4h0M141.3 228.3h0M157.7 226.5h0M135.4 236.1h0M156.9 224.2h0M150.7 226.4h0M152.7 236.9h0M156.1 230.9h0M150.3 218.1h0M133.4 237.3h0M143.5 241.3h0M136.7 244.4h0M146.2 228.6h0M148.9 230.0h0M145.0 231.6h0M143.5 225.3h0M144.3 223.9h0M142.3 227.8h0M145.8 221.8h0M141.6 227.3h0M133.4 231.0h0M149.2 239.7h0M145.6 230.5h0M151.6 228.7h0M153.4 228.9h0M147.0 219.8h0M142.8 224.5h0M145.1 229.1h0M137.8 215.1h0M161.7 217.8h0M138.9 235.7h0M139.7 234.4h0M151.5 224.8h0M147.6 230.3h0M132.5 242.9h0M142.8 233.5h0M152.2 222.6h0M149.6 236.3h0M133.7 225.1h0M138.6 235.7h0M137.9 229.7h0M137.2 233.0h0M150.6 218.7h0M132.6 226.7h0M156.3 226.1h0M144.3 243.1h0M135.1 227.2h0M132.1 223.6h0M152.6 225.7h0M132.7 238.2h0M145.4 231.0h0M162.7 234.8h0M154.0 218.0h0M150.1 241.5h0M156.1 240.2h0M143.7 240.2h0M154.8 220.9h0M153.2 240.1h0M155.3 241.2h0M138.4 234.6h0M162.6 236.3h0M136.2 223.6h0M158.0 235.0h0M136.4 229.4h0M139.1 230.1h0M160.7 224.0h0M147.9 241.8h0M140.0 227.1h0M135.2 229.0h0M144.5 239.7h0M146.2 237.2h0M148.1 230.4h0M152.5 233.1h0M160.5 232.7h0M145.2 226.3h0M144.0 221.2h0M154.7 241.1h0M150.6 241.1h0M149.7 235.7h0M141.8 228.9h0M152.1 227.2h0M147.8 222.6h0M142.6 243.4h0M137.8 231.0h0M148.9 244.0h0M136.5 229.3h0M146.3 226.6h0M143.7 227.0h0M149.0 225.7h0M138.3 216.5h0M135.3 215.1h0M141.6 242.1h0M135.3 236.3h0M140.0 227.8h0M133.4 228.4h0M139.5 222.5h0M157.1 236.6h0M141.4 234.6h0M137.7 230.9h0M154.5 236.2h0M140.3 232.3h0M131.8 227.7h0M138.9 228.6h0M156.6 231.5h0M154.6 231.2h0M137.6 229.9h0M138.1 238.1h0M133.9 241.7h0M137.4 238.2h0M159.3 228.4h0M143.7 220.8h0" stroke="#6a6a6a" stroke-width="0.76" stroke-linecap="round" fill="none" opacity="1.0"/>
<path d="M127.1 215.7h0M133.7 229.9h0M136.9 230.7h0M126.9 222.1h0M133.1 229.4h0M119.9 215.3h0M135.4 229.6h0M128.0 225.0h0M124.7 230.5h0M129.9 218.3h0M146.3 240.1h0M136.6 223.9h0M118.7 236.2h0M124.1 230.6h0M140.4 230.6h0M138.1 222.6h0M125.7 237.6h0M131.7 210.2h0M120.5 226.1h0M123.3 223.9h0M126.1 232.2h0M117.7 221.0h0M122.0 242.9h0M127.3 215.4h0M132.0 240.1h0M116.9 218.1h0M131.7 231.1h0M133.3 240.8h0M123.5 234.1h0M134.1 221.1h0M125.1 208.3h0M126.0 217.1h0M128.9 225.6h0M123.6 227.1h0M125.5 230.5h0M126.6 242.3h0M136.1 204.8h0M138.1 228.3h0M131.1 221.2h0M132.9 236.4h0M124.5 219.0h0M132.2 235.1h0M122.0 208.6h0M120.5 234.6h0M137.6 220.5h0M124.4 219.4h0M131.0 222.4h0M140.6 236.5h0M127.1 226.4h0M135.8 226.4h0M125.8 231.6h0M126.1 218.0h0M122.0 228.7h0M133.1 203.6h0M133.2 234.6h0M130.0 215.4h0M129.3 225.2h0M121.9 236.6h0M137.5 232.4h0M132.7 240.6h0M128.8 226.1h0M139.2 224.1h0M126.5 233.9h0M125.6 220.7h0" stroke="#888" stroke-width="0.70" stroke-linecap="round" fill="none" opacity="1.0"/>
<path d="M160.3 215.1h0M134.9 207.2h0M153.1 227.0h0M147.6 231.8h0M144.6 238.0h0M157.6 199.1h0M143.5 220.0h0M144.6 201.3h0M151.5 214.4h0M123.8 197.2h0M139.4 228.5h0M144.3 218.0h0M158.3 212.2h0M145.1 214.3h0M157.7 206.0h0M150.3 205.1h0M146.1 231.0h0M133.9 222.2h0M146.0 218.5h0M152.3 216.5h0M151.9 241.0h0M135.3 200.1h0M155.4 220.9h0M172.8 206.5h0M155.1 207.6h0M138.2 206.9h0M133.7 202.0h0M140.5 213.1h0M145.8 226.8h0M132.5 214.1h0M132.9 227.1h0M132.3 210.4h0M134.1 230.5h0M128.3 199.2h0M139.6 210.3h0M132.3 231.3h0M137.4 185.9h0M142.3 196.7h0M136.0 208.4h0M132.6 209.5h0M139.5 224.1h0M179.8 205.6h0M138.7 231.3h0M168.4 226.4h0M141.5 242.7h0M146.2 232.2h0M137.6 198.0h0M163.5 202.9h0M130.7 217.3h0M132.2 224.9h0" stroke="#999" stroke-width="0.70" stroke-linecap="round" fill="none" opacity="1.0"/>
<rect x="114.6" y="26.2" width="69.7" height="69.6" stroke="#6464e0" stroke-width="1.8" fill="none" />
<rect x="114.8" y="101.3" width="69.8" height="69.4" stroke="#2fb52f" stroke-width="2.2" fill="none" />
<rect x="114.8" y="176.3" width="69.6" height="69.2" stroke="#dd2626" stroke-width="2.2" fill="none" />
<rect x="116" y="32.1" width="31.099999999999994" height="31.999999999999993" stroke="#111" stroke-width="1.3" fill="none" />
<rect x="131.7" y="66.4" width="27.700000000000017" height="29.19999999999999" stroke="#111" stroke-width="1.3" fill="none" />
<rect x="116.4" y="107.5" width="30.0" height="29.0" stroke="#111" stroke-width="1.3" fill="none" />
<rect x="131.7" y="139.1" width="31.5" height="31.5" stroke="#111" stroke-width="1.3" fill="none" />
<rect x="116" y="182" width="28.5" height="29" stroke="#111" stroke-width="1.3" fill="none" />
<rect x="131" y="214" width="33" height="31.5" stroke="#111" stroke-width="1.3" fill="none" />
<text x="148.6" y="36.6" font-size="6.7" text-anchor="start" fill="#111" font-weight="bold"  stroke="#111" stroke-width="0.22">31.1</text>
<text x="162.8" y="71.8" font-size="6.7" text-anchor="start" fill="#111" font-weight="bold"  stroke="#111" stroke-width="0.22">62.2</text>
<text x="148.3" y="113.0" font-size="6.7" text-anchor="start" fill="#111" font-weight="bold"  stroke="#111" stroke-width="0.22">34</text>
<text x="164.9" y="144.3" font-size="6.7" text-anchor="start" fill="#111" font-weight="bold"  stroke="#111" stroke-width="0.22">62.1</text>
<text x="145.8" y="188.8" font-size="6.7" text-anchor="start" fill="#111" font-weight="bold"  stroke="#111" stroke-width="0.22">53.8</text>
<text x="166.5" y="220.8" font-size="6.7" text-anchor="start" fill="#111" font-weight="bold"  stroke="#111" stroke-width="0.22">46.1</text>
<text x="187.9" y="47.5" font-size="9.6" text-anchor="start" fill="#5a5ad2" font-weight="bold" >C57BL/6</text>
<text x="188" y="120.2" font-size="10" text-anchor="start" fill="#3aa83a" font-weight="bold" >IK<tspan dy="-3.5" font-size="6.5">+/+</tspan><tspan dy="3.5"> Rag</tspan><tspan dy="-3.5" font-size="6.5">-/-</tspan></text>
<text x="188" y="194.2" font-size="10" text-anchor="start" fill="#d42a2a" font-weight="bold" >IK<tspan dy="-3.5" font-size="6.5">L/L</tspan><tspan dy="3.5"> Rag</tspan><tspan dy="-3.5" font-size="6.5">-/-</tspan></text>
<text x="252.2" y="15.8" font-size="16.8" text-anchor="start" fill="#000" font-weight="bold" >B</text>
<text x="307.5" y="13.2" font-size="9.6" text-anchor="middle" fill="#000" font-weight="bold" >Spleen</text>
<text x="431" y="11.2" font-size="9.5" text-anchor="middle" fill="#000" font-weight="bold" >Lymph nodes</text>
<text x="512" y="29.7" font-size="9.6" text-anchor="end" fill="#000" font-weight="bold" >total cDCs</text>
<text x="514.3" y="112.0" font-size="9.8" text-anchor="end" fill="#000" font-weight="bold" >CD8<tspan dy="-3.5" font-size="5.5">+</tspan><tspan dy="3.5"> cDCs</tspan></text>
<text x="514.0" y="194.2" font-size="9.8" text-anchor="end" fill="#000" font-weight="bold" >CD8<tspan dy="-3.5" font-size="5.5">-</tspan><tspan dy="3.5"> cDCs</tspan></text>
<text x="245.5" y="170.4" font-size="10" text-anchor="start" fill="#000" font-weight="bold" transform="rotate(-90 245.5 170.4)" >Cell number x 10<tspan dy="-3.6" font-size="6.0">-6</tspan></text>
<text x="369.0" y="171.0" font-size="10" text-anchor="start" fill="#000" font-weight="bold" transform="rotate(-90 369.0 171.0)" >Cell number x 10<tspan dy="-3.6" font-size="6.0">-4</tspan></text>
<line x1="262.8" y1="25.5" x2="262.8" y2="85.1" stroke="#000" stroke-width="1.3" />
<line x1="259.8" y1="25.9" x2="262.8" y2="25.9" stroke="#000" stroke-width="1.1" />
<line x1="259.8" y1="35.666666666666664" x2="262.8" y2="35.666666666666664" stroke="#000" stroke-width="1.1" />
<line x1="259.8" y1="45.43333333333334" x2="262.8" y2="45.43333333333334" stroke="#000" stroke-width="1.1" />
<line x1="259.8" y1="55.2" x2="262.8" y2="55.2" stroke="#000" stroke-width="1.1" />
<line x1="259.8" y1="64.96666666666667" x2="262.8" y2="64.96666666666667" stroke="#000" stroke-width="1.1" />
<line x1="259.8" y1="74.73333333333333" x2="262.8" y2="74.73333333333333" stroke="#000" stroke-width="1.1" />
<line x1="259.8" y1="84.5" x2="262.8" y2="84.5" stroke="#000" stroke-width="1.1" />
<text x="259.0" y="28.599999999999998" font-size="7.9" text-anchor="end" fill="#000" font-weight="bold" >6</text>
<text x="259.0" y="57.900000000000006" font-size="7.9" text-anchor="end" fill="#000" font-weight="bold" >3</text>
<text x="259.0" y="87.2" font-size="7.9" text-anchor="end" fill="#000" font-weight="bold" >0</text>
<line x1="262.8" y1="84.8" x2="349.7" y2="84.8" stroke="#000" stroke-width="1.3" />
<line x1="277" y1="84.8" x2="277" y2="87.3" stroke="#000" stroke-width="1.1" />
<line x1="306" y1="84.8" x2="306" y2="87.3" stroke="#000" stroke-width="1.1" />
<line x1="335" y1="84.8" x2="335" y2="87.3" stroke="#000" stroke-width="1.1" />
<line x1="275.8" y1="23.7" x2="339.6" y2="23.7" stroke="#000" stroke-width="1.2" />
<circle cx="302.3" cy="20.0" r="1.15" fill="#111"/>
<circle cx="306.1" cy="20.0" r="1.15" fill="#111"/>
<circle cx="309.9" cy="20.0" r="1.15" fill="#111"/>
<line x1="275.8" y1="28.6" x2="303.7" y2="28.6" stroke="#000" stroke-width="1.2" />
<circle cx="285.7" cy="25.8" r="1.15" fill="#111"/>
<circle cx="289.5" cy="25.8" r="1.15" fill="#111"/>
<circle cx="293.3" cy="25.8" r="1.15" fill="#111"/>
<rect x="280.90000000000003" y="38.9" width="4.4" height="4.4" stroke="#25258a" stroke-width="0.9" fill="#6c6cf4" />
<rect x="274.7" y="41.8" width="4.4" height="4.4" stroke="#25258a" stroke-width="0.9" fill="#6c6cf4" />
<rect x="268.40000000000003" y="47.5" width="4.4" height="4.4" stroke="#25258a" stroke-width="0.9" fill="#6c6cf4" />
<rect x="274.7" y="48.9" width="4.4" height="4.4" stroke="#25258a" stroke-width="0.9" fill="#6c6cf4" />
<rect x="274.7" y="55.3" width="4.4" height="4.4" stroke="#25258a" stroke-width="0.9" fill="#6c6cf4" />
<line x1="267.9" y1="48.2" x2="287.5" y2="48.2" stroke="#333" stroke-width="1.1" />
<polygon points="298.10,73.04 302.90,73.04 300.50,77.36" fill="#3a7a3a" stroke="#041a04" stroke-width="1.2"/>
<polygon points="303.80,73.04 308.60,73.04 306.20,77.36" fill="#3a7a3a" stroke="#041a04" stroke-width="1.2"/>
<polygon points="309.80,70.94 314.60,70.94 312.20,75.26" fill="#3a7a3a" stroke="#041a04" stroke-width="1.2"/>
<polygon points="298.10,76.14 302.90,76.14 300.50,80.46" fill="#3a7a3a" stroke="#041a04" stroke-width="1.2"/>
<polygon points="309.80,76.14 314.60,76.14 312.20,80.46" fill="#3a7a3a" stroke="#041a04" stroke-width="1.2"/>
<polygon points="303.80,79.04 308.60,79.04 306.20,83.36" fill="#3a7a3a" stroke="#041a04" stroke-width="1.2"/>
<line x1="296.5" y1="77.2" x2="316" y2="77.2" stroke="#333" stroke-width="1.1" />
<circle cx="329.3" cy="76.2" r="2.1" fill="#b02434" stroke="#420612" stroke-width="1.1"/>
<circle cx="335.3" cy="75" r="2.1" fill="#b02434" stroke="#420612" stroke-width="1.1"/>
<circle cx="341.2" cy="76.5" r="2.1" fill="#b02434" stroke="#420612" stroke-width="1.1"/>
<circle cx="331" cy="80.5" r="2.1" fill="#b02434" stroke="#420612" stroke-width="1.1"/>
<circle cx="338.5" cy="80.3" r="2.1" fill="#b02434" stroke="#420612" stroke-width="1.1"/>
<circle cx="335.3" cy="84" r="2.1" fill="#b02434" stroke="#420612" stroke-width="1.1"/>
<circle cx="341.5" cy="82.5" r="2.1" fill="#b02434" stroke="#420612" stroke-width="1.1"/>
<line x1="325" y1="79.3" x2="345" y2="79.3" stroke="#333" stroke-width="1.1" />
<line x1="262.5" y1="108.39999999999999" x2="262.5" y2="167.1" stroke="#000" stroke-width="1.3" />
<line x1="259.5" y1="108.8" x2="262.5" y2="108.8" stroke="#000" stroke-width="1.1" />
<line x1="259.5" y1="123.225" x2="262.5" y2="123.225" stroke="#000" stroke-width="1.1" />
<line x1="259.5" y1="137.65" x2="262.5" y2="137.65" stroke="#000" stroke-width="1.1" />
<line x1="259.5" y1="152.075" x2="262.5" y2="152.075" stroke="#000" stroke-width="1.1" />
<line x1="259.5" y1="166.5" x2="262.5" y2="166.5" stroke="#000" stroke-width="1.1" />
<text x="258.7" y="111.5" font-size="7.9" text-anchor="end" fill="#000" font-weight="bold" >1</text>
<text x="258.7" y="140.29999999999998" font-size="7.9" text-anchor="end" fill="#000" font-weight="bold" >0.5</text>
<text x="258.7" y="169.2" font-size="7.9" text-anchor="end" fill="#000" font-weight="bold" >0</text>
<line x1="262.5" y1="166.7" x2="349.7" y2="166.7" stroke="#000" stroke-width="1.3" />
<line x1="277" y1="166.7" x2="277" y2="169.2" stroke="#000" stroke-width="1.1" />
<line x1="306" y1="166.7" x2="306" y2="169.2" stroke="#000" stroke-width="1.1" />
<line x1="335" y1="166.7" x2="335" y2="169.2" stroke="#000" stroke-width="1.1" />
<line x1="276" y1="98.8" x2="340" y2="98.8" stroke="#000" stroke-width="1.2" />
<circle cx="307.5" cy="94.9" r="1.15" fill="#111"/>
<circle cx="311.3" cy="94.9" r="1.15" fill="#111"/>
<circle cx="315.1" cy="94.9" r="1.15" fill="#111"/>
<line x1="276" y1="103.9" x2="305.3" y2="103.9" stroke="#000" stroke-width="1.2" />
<circle cx="289.8" cy="101.4" r="1.15" fill="#111"/>
<circle cx="293.6" cy="101.4" r="1.15" fill="#111"/>
<circle cx="297.4" cy="101.4" r="1.15" fill="#111"/>
<rect x="268.2" y="111.1" width="4.4" height="4.4" stroke="#25258a" stroke-width="0.9" fill="#6c6cf4" />
<rect x="274.5" y="106.8" width="4.4" height="4.4" stroke="#25258a" stroke-width="0.9" fill="#6c6cf4" />
<rect x="274.5" y="112.5" width="4.4" height="4.4" stroke="#25258a" stroke-width="0.9" fill="#6c6cf4" />
<rect x="274.5" y="126.8" width="4.4" height="4.4" stroke="#25258a" stroke-width="0.9" fill="#6c6cf4" />
<rect x="281.2" y="126.8" width="4.4" height="4.4" stroke="#25258a" stroke-width="0.9" fill="#6c6cf4" />
<line x1="266" y1="119" x2="286.8" y2="119" stroke="#333" stroke-width="1.1" />
<polygon points="296.80,145.04 301.60,145.04 299.20,149.36" fill="#3a7a3a" stroke="#041a04" stroke-width="1.2"/>
<polygon points="303.20,146.54 308.00,146.54 305.60,150.86" fill="#3a7a3a" stroke="#041a04" stroke-width="1.2"/>
<polygon points="309.80,143.64 314.60,143.64 312.20,147.96" fill="#3a7a3a" stroke="#041a04" stroke-width="1.2"/>
<polygon points="296.80,152.84 301.60,152.84 299.20,157.16" fill="#3a7a3a" stroke="#041a04" stroke-width="1.2"/>
<polygon points="309.80,154.34 314.60,154.34 312.20,158.66" fill="#3a7a3a" stroke="#041a04" stroke-width="1.2"/>
<polygon points="303.20,158.64 308.00,158.64 305.60,162.96" fill="#3a7a3a" stroke="#041a04" stroke-width="1.2"/>
<line x1="295.8" y1="152.2" x2="316" y2="152.2" stroke="#333" stroke-width="1.1" />
<circle cx="329.1" cy="140.3" r="2.1" fill="#b02434" stroke="#420612" stroke-width="1.1"/>
<circle cx="335.5" cy="141" r="2.1" fill="#b02434" stroke="#420612" stroke-width="1.1"/>
<circle cx="341.6" cy="139.8" r="2.1" fill="#b02434" stroke="#420612" stroke-width="1.1"/>
<circle cx="335.5" cy="148.8" r="2.1" fill="#b02434" stroke="#420612" stroke-width="1.1"/>
<circle cx="335.5" cy="158.8" r="2.1" fill="#b02434" stroke="#420612" stroke-width="1.1"/>
<circle cx="341.6" cy="160.6" r="2.1" fill="#b02434" stroke="#420612" stroke-width="1.1"/>
<circle cx="335.5" cy="165.4" r="2.1" fill="#b02434" stroke="#420612" stroke-width="1.1"/>
<line x1="325.1" y1="150.5" x2="345.4" y2="150.5" stroke="#333" stroke-width="1.1" />
<line x1="261.5" y1="187.79999999999998" x2="261.5" y2="246.79999999999998" stroke="#000" stroke-width="1.3" />
<line x1="258.5" y1="188.2" x2="261.5" y2="188.2" stroke="#000" stroke-width="1.1" />
<line x1="258.5" y1="202.7" x2="261.5" y2="202.7" stroke="#000" stroke-width="1.1" />
<line x1="258.5" y1="217.2" x2="261.5" y2="217.2" stroke="#000" stroke-width="1.1" />
<line x1="258.5" y1="231.7" x2="261.5" y2="231.7" stroke="#000" stroke-width="1.1" />
<line x1="258.5" y1="246.2" x2="261.5" y2="246.2" stroke="#000" stroke-width="1.1" />
<text x="257.7" y="190.89999999999998" font-size="7.9" text-anchor="end" fill="#000" font-weight="bold" >4</text>
<text x="257.7" y="219.89999999999998" font-size="7.9" text-anchor="end" fill="#000" font-weight="bold" >2</text>
<text x="257.7" y="248.89999999999998" font-size="7.9" text-anchor="end" fill="#000" font-weight="bold" >0</text>
<line x1="261.5" y1="246.4" x2="348.8" y2="246.4" stroke="#000" stroke-width="1.3" />
<line x1="277" y1="246.4" x2="277" y2="248.9" stroke="#000" stroke-width="1.1" />
<line x1="306" y1="246.4" x2="306" y2="248.9" stroke="#000" stroke-width="1.1" />
<line x1="335" y1="246.4" x2="335" y2="248.9" stroke="#000" stroke-width="1.1" />
<line x1="275" y1="179.3" x2="338.1" y2="179.3" stroke="#000" stroke-width="1.2" />
<circle cx="309.4" cy="174.3" r="1.15" fill="#111"/>
<circle cx="313.2" cy="174.3" r="1.15" fill="#111"/>
<circle cx="317.0" cy="174.3" r="1.15" fill="#111"/>
<line x1="275" y1="184.3" x2="304.6" y2="184.3" stroke="#000" stroke-width="1.2" />
<circle cx="290.0" cy="181.7" r="1.15" fill="#111"/>
<circle cx="293.8" cy="181.7" r="1.15" fill="#111"/>
<circle cx="297.6" cy="181.7" r="1.15" fill="#111"/>
<rect x="279.7" y="193.10000000000002" width="4.4" height="4.4" stroke="#25258a" stroke-width="0.9" fill="#6c6cf4" />
<rect x="273.40000000000003" y="198.8" width="4.4" height="4.4" stroke="#25258a" stroke-width="0.9" fill="#6c6cf4" />
<rect x="266.8" y="203.20000000000002" width="4.4" height="4.4" stroke="#25258a" stroke-width="0.9" fill="#6c6cf4" />
<rect x="273.40000000000003" y="206.10000000000002" width="4.4" height="4.4" stroke="#25258a" stroke-width="0.9" fill="#6c6cf4" />
<rect x="273.40000000000003" y="213.3" width="4.4" height="4.4" stroke="#25258a" stroke-width="0.9" fill="#6c6cf4" />
<line x1="266" y1="205.4" x2="286.2" y2="205.4" stroke="#333" stroke-width="1.1" />
<polygon points="296.20,234.34 301.00,234.34 298.60,238.66" fill="#3a7a3a" stroke="#041a04" stroke-width="1.2"/>
<polygon points="302.60,234.34 307.40,234.34 305.00,238.66" fill="#3a7a3a" stroke="#041a04" stroke-width="1.2"/>
<polygon points="309.20,233.44 314.00,233.44 311.60,237.76" fill="#3a7a3a" stroke="#041a04" stroke-width="1.2"/>
<polygon points="296.20,238.24 301.00,238.24 298.60,242.56" fill="#3a7a3a" stroke="#041a04" stroke-width="1.2"/>
<polygon points="309.20,238.44 314.00,238.44 311.60,242.76" fill="#3a7a3a" stroke="#041a04" stroke-width="1.2"/>
<polygon points="302.60,241.54 307.40,241.54 305.00,245.86" fill="#3a7a3a" stroke="#041a04" stroke-width="1.2"/>
<polygon points="309.20,241.54 314.00,241.54 311.60,245.86" fill="#3a7a3a" stroke="#041a04" stroke-width="1.2"/>
<line x1="295.8" y1="239.4" x2="316" y2="239.4" stroke="#333" stroke-width="1.1" />
<circle cx="330" cy="243.5" r="2.1" fill="#b02434" stroke="#420612" stroke-width="1.1"/>
<circle cx="333" cy="242" r="2.1" fill="#b02434" stroke="#420612" stroke-width="1.1"/>
<circle cx="336" cy="243.5" r="2.1" fill="#b02434" stroke="#420612" stroke-width="1.1"/>
<circle cx="339" cy="242.5" r="2.1" fill="#b02434" stroke="#420612" stroke-width="1.1"/>
<circle cx="341.5" cy="244" r="2.1" fill="#b02434" stroke="#420612" stroke-width="1.1"/>
<circle cx="335" cy="245" r="2.1" fill="#b02434" stroke="#420612" stroke-width="1.1"/>
<circle cx="331.5" cy="245.5" r="2.1" fill="#b02434" stroke="#420612" stroke-width="1.1"/>
<line x1="323.7" y1="243.5" x2="344" y2="243.5" stroke="#333" stroke-width="1.1" />
<line x1="386.1" y1="26.1" x2="386.1" y2="85.39999999999999" stroke="#000" stroke-width="1.3" />
<line x1="383.1" y1="26.5" x2="386.1" y2="26.5" stroke="#000" stroke-width="1.1" />
<line x1="383.1" y1="41.075" x2="386.1" y2="41.075" stroke="#000" stroke-width="1.1" />
<line x1="383.1" y1="55.65" x2="386.1" y2="55.65" stroke="#000" stroke-width="1.1" />
<line x1="383.1" y1="70.225" x2="386.1" y2="70.225" stroke="#000" stroke-width="1.1" />
<line x1="383.1" y1="84.8" x2="386.1" y2="84.8" stroke="#000" stroke-width="1.1" />
<text x="382.3" y="29.2" font-size="7.9" text-anchor="end" fill="#000" font-weight="bold" >4</text>
<text x="382.3" y="58.300000000000004" font-size="7.9" text-anchor="end" fill="#000" font-weight="bold" >2</text>
<text x="382.3" y="87.5" font-size="7.9" text-anchor="end" fill="#000" font-weight="bold" >0</text>
<line x1="386.1" y1="85" x2="473.8" y2="85" stroke="#000" stroke-width="1.3" />
<line x1="400" y1="85" x2="400" y2="87.5" stroke="#000" stroke-width="1.1" />
<line x1="429" y1="85" x2="429" y2="87.5" stroke="#000" stroke-width="1.1" />
<line x1="458" y1="85" x2="458" y2="87.5" stroke="#000" stroke-width="1.1" />
<rect x="397.8" y="54.099999999999994" width="4.4" height="4.4" stroke="#25258a" stroke-width="0.9" fill="#6c6cf4" />
<rect x="397.8" y="63.0" width="4.4" height="4.4" stroke="#25258a" stroke-width="0.9" fill="#6c6cf4" />
<rect x="397.8" y="70.8" width="4.4" height="4.4" stroke="#25258a" stroke-width="0.9" fill="#6c6cf4" />
<rect x="404.6" y="73.2" width="4.4" height="4.4" stroke="#25258a" stroke-width="0.9" fill="#6c6cf4" />
<rect x="397.8" y="79.3" width="4.4" height="4.4" stroke="#25258a" stroke-width="0.9" fill="#6c6cf4" />
<line x1="390.8" y1="70.8" x2="410.8" y2="70.8" stroke="#333" stroke-width="1.1" />
<polygon points="427.60,54.94 432.40,54.94 430.00,59.26" fill="#3a7a3a" stroke="#041a04" stroke-width="1.2"/>
<polygon points="420.60,68.64 425.40,68.64 423.00,72.96" fill="#3a7a3a" stroke="#041a04" stroke-width="1.2"/>
<polygon points="427.60,65.64 432.40,65.64 430.00,69.96" fill="#3a7a3a" stroke="#041a04" stroke-width="1.2"/>
<polygon points="427.60,72.64 432.40,72.64 430.00,76.96" fill="#3a7a3a" stroke="#041a04" stroke-width="1.2"/>
<polygon points="426.60,79.24 431.40,79.24 429.00,83.56" fill="#3a7a3a" stroke="#041a04" stroke-width="1.2"/>
<polygon points="433.60,79.24 438.40,79.24 436.00,83.56" fill="#3a7a3a" stroke="#041a04" stroke-width="1.2"/>
<line x1="420" y1="71.7" x2="439" y2="71.7" stroke="#333" stroke-width="1.1" />
<circle cx="459" cy="61.5" r="2.1" fill="#b02434" stroke="#420612" stroke-width="1.1"/>
<circle cx="452.3" cy="72.3" r="2.1" fill="#b02434" stroke="#420612" stroke-width="1.1"/>
<circle cx="459" cy="73.2" r="2.1" fill="#b02434" stroke="#420612" stroke-width="1.1"/>
<circle cx="452.3" cy="80.6" r="2.1" fill="#b02434" stroke="#420612" stroke-width="1.1"/>
<circle cx="459" cy="84.2" r="2.1" fill="#b02434" stroke="#420612" stroke-width="1.1"/>
<circle cx="465" cy="84.2" r="2.1" fill="#b02434" stroke="#420612" stroke-width="1.1"/>
<line x1="449" y1="77" x2="469" y2="77" stroke="#333" stroke-width="1.1" />
<line x1="385.3" y1="107.5" x2="385.3" y2="167.29999999999998" stroke="#000" stroke-width="1.3" />
<line x1="382.3" y1="107.9" x2="385.3" y2="107.9" stroke="#000" stroke-width="1.1" />
<line x1="382.3" y1="122.6" x2="385.3" y2="122.6" stroke="#000" stroke-width="1.1" />
<line x1="382.3" y1="137.3" x2="385.3" y2="137.3" stroke="#000" stroke-width="1.1" />
<line x1="382.3" y1="152.0" x2="385.3" y2="152.0" stroke="#000" stroke-width="1.1" />
<line x1="382.3" y1="166.7" x2="385.3" y2="166.7" stroke="#000" stroke-width="1.1" />
<text x="381.5" y="110.60000000000001" font-size="7.9" text-anchor="end" fill="#000" font-weight="bold" >0.4</text>
<text x="381.5" y="140.0" font-size="7.9" text-anchor="end" fill="#000" font-weight="bold" >0.2</text>
<text x="381.5" y="169.39999999999998" font-size="7.9" text-anchor="end" fill="#000" font-weight="bold" >0</text>
<line x1="385.3" y1="166.9" x2="473.6" y2="166.9" stroke="#000" stroke-width="1.3" />
<line x1="400" y1="166.9" x2="400" y2="169.4" stroke="#000" stroke-width="1.1" />
<line x1="429" y1="166.9" x2="429" y2="169.4" stroke="#000" stroke-width="1.1" />
<line x1="458" y1="166.9" x2="458" y2="169.4" stroke="#000" stroke-width="1.1" />
<rect x="390.3" y="106.3" width="4.4" height="4.4" stroke="#25258a" stroke-width="0.9" fill="#6c6cf4" />
<rect x="396.8" y="108.8" width="4.4" height="4.4" stroke="#25258a" stroke-width="0.9" fill="#6c6cf4" />
<rect x="396.8" y="126.8" width="4.4" height="4.4" stroke="#25258a" stroke-width="0.9" fill="#6c6cf4" />
<rect x="396.8" y="145.8" width="4.4" height="4.4" stroke="#25258a" stroke-width="0.9" fill="#6c6cf4" />
<rect x="396.8" y="153.10000000000002" width="4.4" height="4.4" stroke="#25258a" stroke-width="0.9" fill="#6c6cf4" />
<line x1="389" y1="130.8" x2="409.5" y2="130.8" stroke="#333" stroke-width="1.1" />
<polygon points="426.40,138.04 431.20,138.04 428.80,142.36" fill="#3a7a3a" stroke="#041a04" stroke-width="1.2"/>
<polygon points="426.40,144.64 431.20,144.64 428.80,148.96" fill="#3a7a3a" stroke="#041a04" stroke-width="1.2"/>
<polygon points="420.10,159.94 424.90,159.94 422.50,164.26" fill="#3a7a3a" stroke="#041a04" stroke-width="1.2"/>
<polygon points="426.40,156.74 431.20,156.74 428.80,161.06" fill="#3a7a3a" stroke="#041a04" stroke-width="1.2"/>
<polygon points="432.40,160.44 437.20,160.44 434.80,164.76" fill="#3a7a3a" stroke="#041a04" stroke-width="1.2"/>
<polygon points="426.40,164.04 431.20,164.04 428.80,168.36" fill="#3a7a3a" stroke="#041a04" stroke-width="1.2"/>
<line x1="419" y1="155.8" x2="438.7" y2="155.8" stroke="#333" stroke-width="1.1" />
<circle cx="451.9" cy="145.4" r="2.1" fill="#b02434" stroke="#420612" stroke-width="1.1"/>
<circle cx="457.9" cy="149.8" r="2.1" fill="#b02434" stroke="#420612" stroke-width="1.1"/>
<circle cx="451.9" cy="165" r="2.1" fill="#b02434" stroke="#420612" stroke-width="1.1"/>
<circle cx="455" cy="165.8" r="2.1" fill="#b02434" stroke="#420612" stroke-width="1.1"/>
<circle cx="458.2" cy="166.2" r="2.1" fill="#b02434" stroke="#420612" stroke-width="1.1"/>
<circle cx="461.5" cy="165.4" r="2.1" fill="#b02434" stroke="#420612" stroke-width="1.1"/>
<circle cx="464.5" cy="166" r="2.1" fill="#b02434" stroke="#420612" stroke-width="1.1"/>
<line x1="448" y1="160.8" x2="468.3" y2="160.8" stroke="#333" stroke-width="1.1" />
<line x1="385.2" y1="186.0" x2="385.2" y2="245.4" stroke="#000" stroke-width="1.3" />
<line x1="382.2" y1="186.4" x2="385.2" y2="186.4" stroke="#000" stroke-width="1.1" />
<line x1="382.2" y1="201.0" x2="385.2" y2="201.0" stroke="#000" stroke-width="1.1" />
<line x1="382.2" y1="215.60000000000002" x2="385.2" y2="215.60000000000002" stroke="#000" stroke-width="1.1" />
<line x1="382.2" y1="230.20000000000002" x2="385.2" y2="230.20000000000002" stroke="#000" stroke-width="1.1" />
<line x1="382.2" y1="244.8" x2="385.2" y2="244.8" stroke="#000" stroke-width="1.1" />
<text x="381.4" y="189.1" font-size="7.9" text-anchor="end" fill="#000" font-weight="bold" >4</text>
<text x="381.4" y="218.29999999999998" font-size="7.9" text-anchor="end" fill="#000" font-weight="bold" >2</text>
<text x="381.4" y="247.5" font-size="7.9" text-anchor="end" fill="#000" font-weight="bold" >0</text>
<line x1="385.2" y1="244.9" x2="472.6" y2="244.9" stroke="#000" stroke-width="1.3" />
<line x1="400" y1="244.9" x2="400" y2="247.4" stroke="#000" stroke-width="1.1" />
<line x1="429" y1="244.9" x2="429" y2="247.4" stroke="#000" stroke-width="1.1" />
<line x1="458" y1="244.9" x2="458" y2="247.4" stroke="#000" stroke-width="1.1" />
<rect x="397.5" y="219.0" width="4.4" height="4.4" stroke="#25258a" stroke-width="0.9" fill="#6c6cf4" />
<rect x="390.8" y="227.5" width="4.4" height="4.4" stroke="#25258a" stroke-width="0.9" fill="#6c6cf4" />
<rect x="397.5" y="232.4" width="4.4" height="4.4" stroke="#25258a" stroke-width="0.9" fill="#6c6cf4" />
<rect x="404.0" y="236.4" width="4.4" height="4.4" stroke="#25258a" stroke-width="0.9" fill="#6c6cf4" />
<rect x="396.8" y="240.60000000000002" width="4.4" height="4.4" stroke="#25258a" stroke-width="0.9" fill="#6c6cf4" />
<line x1="389" y1="233" x2="409.5" y2="233" stroke="#333" stroke-width="1.1" />
<polygon points="425.40,221.84 430.20,221.84 427.80,226.16" fill="#3a7a3a" stroke="#041a04" stroke-width="1.2"/>
<polygon points="419.60,231.34 424.40,231.34 422.00,235.66" fill="#3a7a3a" stroke="#041a04" stroke-width="1.2"/>
<polygon points="426.10,232.94 430.90,232.94 428.50,237.26" fill="#3a7a3a" stroke="#041a04" stroke-width="1.2"/>
<polygon points="432.60,231.34 437.40,231.34 435.00,235.66" fill="#3a7a3a" stroke="#041a04" stroke-width="1.2"/>
<polygon points="426.10,241.14 430.90,241.14 428.50,245.46" fill="#3a7a3a" stroke="#041a04" stroke-width="1.2"/>
<polygon points="432.60,238.84 437.40,238.84 435.00,243.16" fill="#3a7a3a" stroke="#041a04" stroke-width="1.2"/>
<line x1="418.6" y1="233.6" x2="439" y2="233.6" stroke="#333" stroke-width="1.1" />
<circle cx="457.9" cy="227" r="2.1" fill="#b02434" stroke="#420612" stroke-width="1.1"/>
<circle cx="452" cy="232.7" r="2.1" fill="#b02434" stroke="#420612" stroke-width="1.1"/>
<circle cx="457.9" cy="234.3" r="2.1" fill="#b02434" stroke="#420612" stroke-width="1.1"/>
<circle cx="452" cy="241.8" r="2.1" fill="#b02434" stroke="#420612" stroke-width="1.1"/>
<circle cx="457.9" cy="243" r="2.1" fill="#b02434" stroke="#420612" stroke-width="1.1"/>
<circle cx="462.8" cy="243.5" r="2.1" fill="#b02434" stroke="#420612" stroke-width="1.1"/>
<line x1="448" y1="238.6" x2="467.7" y2="238.6" stroke="#333" stroke-width="1.1" />
<rect x="285.2" y="253.2" width="164.2" height="16.3" stroke="#000" stroke-width="1.4" fill="#fff" />
<rect x="290.6" y="257.2" width="6.6" height="6.8" stroke="#22228a" stroke-width="0.9" fill="#6c6cf4" />
<text x="302" y="264.0" font-size="8.1" text-anchor="start" fill="#000" font-weight="bold" textLength="27" lengthAdjust="spacingAndGlyphs">C57BL/</text>
<text x="302.6" y="273.6" font-size="8.1" text-anchor="start" fill="#000" font-weight="bold" >6</text>
<line x1="285.2" y1="269.4" x2="300" y2="269.4" stroke="#000" stroke-width="1.4" />
<polygon points="341.00,257.80 349.20,257.80 345.10,264.60" fill="#2aa02a" stroke="#154d1d" stroke-width="1"/>
<text x="350.6" y="263.6" font-size="8.0" text-anchor="start" fill="#000" font-weight="bold" >IK <tspan dy="-3.2" font-size="4.8">+/+</tspan><tspan dy="3.2"> Rag</tspan><tspan dy="-3.2" font-size="4.8">-/-</tspan></text>
<circle cx="399.9" cy="261.6" r="3.9" fill="#cc1c1c" stroke="#5a0a0a" stroke-width="1.1"/>
<text x="405.8" y="263.6" font-size="8.0" text-anchor="start" fill="#000" font-weight="bold" >IK<tspan dy="-3.2" font-size="5.2">L/L</tspan><tspan dy="3.2">  Rag</tspan><tspan dy="-3.2" font-size="4.8">-/-</tspan></text>
<text x="5.0" y="293.6" font-size="16.8" text-anchor="start" fill="#000" font-weight="bold" >C</text>
<text x="12.7" y="391.4" font-size="10.35" text-anchor="start" fill="#000" font-weight="bold" transform="rotate(-90 12.7 391.4)" >IL-12p40 (ng.mL<tspan dy="-4" font-size="6.5">-1</tspan><tspan dy="4">)</tspan></text>
<line x1="27" y1="314.8" x2="27" y2="397.5" stroke="#000" stroke-width="1.4" />
<line x1="24" y1="315.4" x2="27" y2="315.4" stroke="#000" stroke-width="1.1" />
<line x1="24" y1="335.7" x2="27" y2="335.7" stroke="#000" stroke-width="1.1" />
<line x1="24" y1="356.1" x2="27" y2="356.1" stroke="#000" stroke-width="1.1" />
<line x1="24" y1="376.2" x2="27" y2="376.2" stroke="#000" stroke-width="1.1" />
<line x1="24" y1="396.5" x2="27" y2="396.5" stroke="#000" stroke-width="1.1" />
<text x="23.0" y="317.7" font-size="8.4" text-anchor="end" fill="#000" font-weight="bold" >8</text>
<text x="23.0" y="358.40000000000003" font-size="8.4" text-anchor="end" fill="#000" font-weight="bold" >4</text>
<text x="23.0" y="398.8" font-size="8.4" text-anchor="end" fill="#000" font-weight="bold" >0</text>
<line x1="26.3" y1="396.8" x2="166.5" y2="396.8" stroke="#000" stroke-width="1.5" />
<rect x="31.5" y="386.7" width="6.6" height="10.100000000000023" stroke="#0c0c44" stroke-width="1.0" fill="#6464ee" />
<line x1="34.8" y1="386.7" x2="34.8" y2="386.2" stroke="#000" stroke-width="1.0" />
<line x1="32.8" y1="386.2" x2="36.8" y2="386.2" stroke="#000" stroke-width="1.1" />
<rect x="40.8" y="386.5" width="6.6" height="10.300000000000011" stroke="#042804" stroke-width="1.0" fill="#22c022" />
<line x1="44.099999999999994" y1="386.5" x2="44.099999999999994" y2="386.0" stroke="#000" stroke-width="1.0" />
<line x1="42.099999999999994" y1="386.0" x2="46.099999999999994" y2="386.0" stroke="#000" stroke-width="1.1" />
<rect x="50.1" y="389.2" width="6.6" height="7.600000000000023" stroke="#3c0404" stroke-width="1.0" fill="#ee1c1c" />
<line x1="53.4" y1="389.2" x2="53.4" y2="388.7" stroke="#000" stroke-width="1.0" />
<line x1="51.4" y1="388.7" x2="55.4" y2="388.7" stroke="#000" stroke-width="1.1" />
<line x1="44.099999999999994" y1="396.8" x2="44.099999999999994" y2="399.5" stroke="#000" stroke-width="1.1" />
<rect x="65.9" y="363.5" width="6.6" height="33.30000000000001" stroke="#0c0c44" stroke-width="1.0" fill="#6464ee" />
<line x1="69.2" y1="363.5" x2="69.2" y2="361.3" stroke="#000" stroke-width="1.0" />
<line x1="67.2" y1="361.3" x2="71.2" y2="361.3" stroke="#000" stroke-width="1.1" />
<rect x="75.2" y="370.5" width="6.6" height="26.30000000000001" stroke="#042804" stroke-width="1.0" fill="#22c022" />
<line x1="78.5" y1="370.5" x2="78.5" y2="368.3" stroke="#000" stroke-width="1.0" />
<line x1="76.5" y1="368.3" x2="80.5" y2="368.3" stroke="#000" stroke-width="1.1" />
<rect x="84.5" y="371" width="6.6" height="25.80000000000001" stroke="#3c0404" stroke-width="1.0" fill="#ee1c1c" />
<line x1="87.8" y1="371" x2="87.8" y2="368.8" stroke="#000" stroke-width="1.0" />
<line x1="85.8" y1="368.8" x2="89.8" y2="368.8" stroke="#000" stroke-width="1.1" />
<line x1="78.5" y1="396.8" x2="78.5" y2="399.5" stroke="#000" stroke-width="1.1" />
<rect x="100.3" y="334" width="6.6" height="62.80000000000001" stroke="#0c0c44" stroke-width="1.0" fill="#6464ee" />
<line x1="103.6" y1="334" x2="103.6" y2="333" stroke="#000" stroke-width="1.0" />
<line x1="101.6" y1="333" x2="105.6" y2="333" stroke="#000" stroke-width="1.1" />
<rect x="109.6" y="334.3" width="6.6" height="62.5" stroke="#042804" stroke-width="1.0" fill="#22c022" />
<line x1="112.89999999999999" y1="334.3" x2="112.89999999999999" y2="333.8" stroke="#000" stroke-width="1.0" />
<line x1="110.89999999999999" y1="333.8" x2="114.89999999999999" y2="333.8" stroke="#000" stroke-width="1.1" />
<rect x="118.9" y="334" width="6.6" height="62.80000000000001" stroke="#3c0404" stroke-width="1.0" fill="#ee1c1c" />
<line x1="122.2" y1="334" x2="122.2" y2="333" stroke="#000" stroke-width="1.0" />
<line x1="120.2" y1="333" x2="124.2" y2="333" stroke="#000" stroke-width="1.1" />
<line x1="112.89999999999999" y1="396.8" x2="112.89999999999999" y2="399.5" stroke="#000" stroke-width="1.1" />
<rect x="134.7" y="343.8" width="6.6" height="53.0" stroke="#0c0c44" stroke-width="1.0" fill="#6464ee" />
<line x1="138.0" y1="343.8" x2="138.0" y2="342.8" stroke="#000" stroke-width="1.0" />
<line x1="136.0" y1="342.8" x2="140.0" y2="342.8" stroke="#000" stroke-width="1.1" />
<rect x="144.0" y="342.6" width="6.6" height="54.19999999999999" stroke="#042804" stroke-width="1.0" fill="#22c022" />
<line x1="147.3" y1="342.6" x2="147.3" y2="341.6" stroke="#000" stroke-width="1.0" />
<line x1="145.3" y1="341.6" x2="149.3" y2="341.6" stroke="#000" stroke-width="1.1" />
<rect x="153.29999999999998" y="345" width="6.6" height="51.80000000000001" stroke="#3c0404" stroke-width="1.0" fill="#ee1c1c" />
<line x1="156.6" y1="345" x2="156.6" y2="343.8" stroke="#000" stroke-width="1.0" />
<line x1="154.6" y1="343.8" x2="158.6" y2="343.8" stroke="#000" stroke-width="1.1" />
<line x1="147.3" y1="396.8" x2="147.3" y2="399.5" stroke="#000" stroke-width="1.1" />
<rect x="43.0" y="404.2" width="3.2" height="1.5" stroke="none" stroke-width="0" fill="#111" />
<text x="79.2" y="406.9" font-size="8.2" text-anchor="middle" fill="#000" font-weight="bold" >LPS</text>
<text x="113.7" y="406.9" font-size="8.2" text-anchor="middle" fill="#000" font-weight="bold" >CpG</text>
<text x="148.3" y="406.9" font-size="8.2" text-anchor="middle" fill="#000" font-weight="bold" >PIC</text>
<rect x="32.7" y="316.5" width="5.4" height="5.2" stroke="#1c1c48" stroke-width="1.6" fill="#7070e0" />
<rect x="32.7" y="327.0" width="5.4" height="5.2" stroke="#0a280a" stroke-width="1.6" fill="#30c030" />
<rect x="32.7" y="337.5" width="5.4" height="5.2" stroke="#300404" stroke-width="1.6" fill="#e82222" />
<text x="43.2" y="321.0" font-size="7.9" text-anchor="start" fill="#000" font-weight="bold" >C57BL/6</text>
<text x="43.2" y="331.4" font-size="7.9" text-anchor="start" fill="#000" font-weight="bold" >IK<tspan dy="-3" font-size="5.3">+/+</tspan><tspan dy="3"> Rag</tspan><tspan dy="-3" font-size="5.3">-/-</tspan></text>
<text x="43.2" y="341.8" font-size="7.9" text-anchor="start" fill="#000" font-weight="bold" >IK<tspan dy="-3" font-size="5.3">L/L</tspan><tspan dy="3"> Rag</tspan><tspan dy="-3" font-size="5.3">-/-</tspan></text>
<text x="199.6" y="294.8" font-size="17.5" text-anchor="start" fill="#000" font-weight="bold" >D</text>
<text x="292.6" y="303.4" font-size="14.2" text-anchor="middle" fill="#000" font-weight="bold" >I-A<tspan dy="-5.5" font-size="9.5">b</tspan></text>
<text x="435.5" y="303.8" font-size="14.2" text-anchor="middle" fill="#000" font-weight="bold" >CD86</text>
<text x="209.8" y="350.1" font-size="9.6" text-anchor="middle" fill="#000" font-weight="bold" transform="rotate(-90 209.8 350.1)" >MFI</text>
<line x1="227.9" y1="313.8" x2="227.9" y2="397.6" stroke="#000" stroke-width="1.4" />
<line x1="224.9" y1="397.3" x2="227.9" y2="397.3" stroke="#000" stroke-width="1.1" />
<text x="224.8" y="399.7" font-size="6.8" text-anchor="end" fill="#000" font-weight="bold"  stroke="#000" stroke-width="0.22">0</text>
<line x1="224.9" y1="380.66" x2="227.9" y2="380.66" stroke="#000" stroke-width="1.1" />
<text x="224.8" y="383.06" font-size="6.8" text-anchor="end" fill="#000" font-weight="bold"  stroke="#000" stroke-width="0.22">50</text>
<line x1="224.9" y1="364.02" x2="227.9" y2="364.02" stroke="#000" stroke-width="1.1" />
<text x="224.8" y="366.41999999999996" font-size="6.8" text-anchor="end" fill="#000" font-weight="bold"  stroke="#000" stroke-width="0.22">100</text>
<line x1="224.9" y1="347.38" x2="227.9" y2="347.38" stroke="#000" stroke-width="1.1" />
<text x="224.8" y="349.78" font-size="6.8" text-anchor="end" fill="#000" font-weight="bold"  stroke="#000" stroke-width="0.22">150</text>
<line x1="224.9" y1="330.74" x2="227.9" y2="330.74" stroke="#000" stroke-width="1.1" />
<text x="224.8" y="333.14" font-size="6.8" text-anchor="end" fill="#000" font-weight="bold"  stroke="#000" stroke-width="0.22">200</text>
<line x1="224.9" y1="314.1" x2="227.9" y2="314.1" stroke="#000" stroke-width="1.1" />
<text x="224.8" y="316.5" font-size="6.8" text-anchor="end" fill="#000" font-weight="bold"  stroke="#000" stroke-width="0.22">250</text>
<line x1="227.20000000000002" y1="397.3" x2="350" y2="397.3" stroke="#000" stroke-width="1.5" />
<line x1="371.2" y1="313.8" x2="371.2" y2="397.6" stroke="#000" stroke-width="1.4" />
<line x1="368.2" y1="397.3" x2="371.2" y2="397.3" stroke="#000" stroke-width="1.1" />
<text x="368.0" y="399.7" font-size="6.8" text-anchor="end" fill="#000" font-weight="bold"  stroke="#000" stroke-width="0.22">0</text>
<line x1="368.2" y1="380.66" x2="371.2" y2="380.66" stroke="#000" stroke-width="1.1" />
<text x="368.0" y="383.06" font-size="6.8" text-anchor="end" fill="#000" font-weight="bold"  stroke="#000" stroke-width="0.22">50</text>
<line x1="368.2" y1="364.02" x2="371.2" y2="364.02" stroke="#000" stroke-width="1.1" />
<text x="368.0" y="366.41999999999996" font-size="6.8" text-anchor="end" fill="#000" font-weight="bold"  stroke="#000" stroke-width="0.22">100</text>
<line x1="368.2" y1="347.38" x2="371.2" y2="347.38" stroke="#000" stroke-width="1.1" />
<text x="368.0" y="349.78" font-size="6.8" text-anchor="end" fill="#000" font-weight="bold"  stroke="#000" stroke-width="0.22">150</text>
<line x1="368.2" y1="330.74" x2="371.2" y2="330.74" stroke="#000" stroke-width="1.1" />
<text x="368.0" y="333.14" font-size="6.8" text-anchor="end" fill="#000" font-weight="bold"  stroke="#000" stroke-width="0.22">200</text>
<line x1="368.2" y1="314.1" x2="371.2" y2="314.1" stroke="#000" stroke-width="1.1" />
<text x="368.0" y="316.5" font-size="6.8" text-anchor="end" fill="#000" font-weight="bold"  stroke="#000" stroke-width="0.22">250</text>
<line x1="370.5" y1="397.3" x2="495.5" y2="397.3" stroke="#000" stroke-width="1.5" />
<rect x="232.1" y="369" width="6.2" height="28.30000000000001" stroke="#0c0c44" stroke-width="1.0" fill="#6464ee" />
<line x1="235.2" y1="369" x2="235.2" y2="368" stroke="#000" stroke-width="1.0" />
<line x1="233.2" y1="368" x2="237.2" y2="368" stroke="#000" stroke-width="1.1" />
<rect x="240.54999999999998" y="374" width="6.2" height="23.30000000000001" stroke="#042804" stroke-width="1.0" fill="#22c022" />
<line x1="243.64999999999998" y1="374" x2="243.64999999999998" y2="373.7" stroke="#000" stroke-width="1.0" />
<line x1="241.64999999999998" y1="373.7" x2="245.64999999999998" y2="373.7" stroke="#000" stroke-width="1.1" />
<rect x="249.0" y="372.2" width="6.2" height="25.100000000000023" stroke="#3c0404" stroke-width="1.0" fill="#ee1c1c" />
<line x1="252.1" y1="372.2" x2="252.1" y2="371.0" stroke="#000" stroke-width="1.0" />
<line x1="250.1" y1="371.0" x2="254.1" y2="371.0" stroke="#000" stroke-width="1.1" />
<line x1="243.64999999999998" y1="397.3" x2="243.64999999999998" y2="400" stroke="#000" stroke-width="1.1" />
<rect x="375.4" y="392" width="6.2" height="5.300000000000011" stroke="#0c0c44" stroke-width="1.0" fill="#6464ee" />
<line x1="378.5" y1="392" x2="378.5" y2="391.7" stroke="#000" stroke-width="1.0" />
<line x1="376.5" y1="391.7" x2="380.5" y2="391.7" stroke="#000" stroke-width="1.1" />
<rect x="383.7" y="389.5" width="6.2" height="7.800000000000011" stroke="#042804" stroke-width="1.0" fill="#22c022" />
<line x1="386.8" y1="389.5" x2="386.8" y2="388.7" stroke="#000" stroke-width="1.0" />
<line x1="384.8" y1="388.7" x2="388.8" y2="388.7" stroke="#000" stroke-width="1.1" />
<rect x="392.0" y="391.1" width="6.2" height="6.199999999999989" stroke="#3c0404" stroke-width="1.0" fill="#ee1c1c" />
<line x1="395.1" y1="391.1" x2="395.1" y2="390.3" stroke="#000" stroke-width="1.0" />
<line x1="393.1" y1="390.3" x2="397.1" y2="390.3" stroke="#000" stroke-width="1.1" />
<line x1="386.8" y1="397.3" x2="386.8" y2="400" stroke="#000" stroke-width="1.1" />
<rect x="262.75" y="351.2" width="6.2" height="46.10000000000002" stroke="#0c0c44" stroke-width="1.0" fill="#6464ee" />
<line x1="265.85" y1="351.2" x2="265.85" y2="350.7" stroke="#000" stroke-width="1.0" />
<line x1="263.85" y1="350.7" x2="267.85" y2="350.7" stroke="#000" stroke-width="1.1" />
<rect x="271.2" y="347.4" width="6.2" height="49.900000000000034" stroke="#042804" stroke-width="1.0" fill="#22c022" />
<line x1="274.3" y1="347.4" x2="274.3" y2="346.9" stroke="#000" stroke-width="1.0" />
<line x1="272.3" y1="346.9" x2="276.3" y2="346.9" stroke="#000" stroke-width="1.1" />
<rect x="279.65" y="348.8" width="6.2" height="48.5" stroke="#3c0404" stroke-width="1.0" fill="#ee1c1c" />
<line x1="282.75" y1="348.8" x2="282.75" y2="348.0" stroke="#000" stroke-width="1.0" />
<line x1="280.75" y1="348.0" x2="284.75" y2="348.0" stroke="#000" stroke-width="1.1" />
<line x1="274.3" y1="397.3" x2="274.3" y2="400" stroke="#000" stroke-width="1.1" />
<rect x="406.34999999999997" y="328.4" width="6.2" height="68.90000000000003" stroke="#0c0c44" stroke-width="1.0" fill="#6464ee" />
<line x1="409.45" y1="328.4" x2="409.45" y2="326.9" stroke="#000" stroke-width="1.0" />
<line x1="407.45" y1="326.9" x2="411.45" y2="326.9" stroke="#000" stroke-width="1.1" />
<rect x="414.65" y="329" width="6.2" height="68.30000000000001" stroke="#042804" stroke-width="1.0" fill="#22c022" />
<line x1="417.75" y1="329" x2="417.75" y2="328.2" stroke="#000" stroke-width="1.0" />
<line x1="415.75" y1="328.2" x2="419.75" y2="328.2" stroke="#000" stroke-width="1.1" />
<rect x="422.95" y="338.8" width="6.2" height="58.5" stroke="#3c0404" stroke-width="1.0" fill="#ee1c1c" />
<line x1="426.05" y1="338.8" x2="426.05" y2="337.0" stroke="#000" stroke-width="1.0" />
<line x1="424.05" y1="337.0" x2="428.05" y2="337.0" stroke="#000" stroke-width="1.1" />
<line x1="417.75" y1="397.3" x2="417.75" y2="400" stroke="#000" stroke-width="1.1" />
<rect x="293.4" y="349.6" width="6.2" height="47.69999999999999" stroke="#0c0c44" stroke-width="1.0" fill="#6464ee" />
<line x1="296.5" y1="349.6" x2="296.5" y2="348.1" stroke="#000" stroke-width="1.0" />
<line x1="294.5" y1="348.1" x2="298.5" y2="348.1" stroke="#000" stroke-width="1.1" />
<rect x="301.84999999999997" y="347.7" width="6.2" height="49.60000000000002" stroke="#042804" stroke-width="1.0" fill="#22c022" />
<line x1="304.95" y1="347.7" x2="304.95" y2="346.9" stroke="#000" stroke-width="1.0" />
<line x1="302.95" y1="346.9" x2="306.95" y2="346.9" stroke="#000" stroke-width="1.1" />
<rect x="310.29999999999995" y="335" width="6.2" height="62.30000000000001" stroke="#3c0404" stroke-width="1.0" fill="#ee1c1c" />
<line x1="313.4" y1="335" x2="313.4" y2="334.5" stroke="#000" stroke-width="1.0" />
<line x1="311.4" y1="334.5" x2="315.4" y2="334.5" stroke="#000" stroke-width="1.1" />
<line x1="304.95" y1="397.3" x2="304.95" y2="400" stroke="#000" stroke-width="1.1" />
<rect x="437.29999999999995" y="342.1" width="6.2" height="55.19999999999999" stroke="#0c0c44" stroke-width="1.0" fill="#6464ee" />
<line x1="440.4" y1="342.1" x2="440.4" y2="340.6" stroke="#000" stroke-width="1.0" />
<line x1="438.4" y1="340.6" x2="442.4" y2="340.6" stroke="#000" stroke-width="1.1" />
<rect x="445.59999999999997" y="344.4" width="6.2" height="52.900000000000034" stroke="#042804" stroke-width="1.0" fill="#22c022" />
<line x1="448.7" y1="344.4" x2="448.7" y2="342.2" stroke="#000" stroke-width="1.0" />
<line x1="446.7" y1="342.2" x2="450.7" y2="342.2" stroke="#000" stroke-width="1.1" />
<rect x="453.9" y="337.2" width="6.2" height="60.10000000000002" stroke="#3c0404" stroke-width="1.0" fill="#ee1c1c" />
<line x1="457.0" y1="337.2" x2="457.0" y2="336.7" stroke="#000" stroke-width="1.0" />
<line x1="455.0" y1="336.7" x2="459.0" y2="336.7" stroke="#000" stroke-width="1.1" />
<line x1="448.7" y1="397.3" x2="448.7" y2="400" stroke="#000" stroke-width="1.1" />
<rect x="324.04999999999995" y="350.3" width="6.2" height="47.0" stroke="#0c0c44" stroke-width="1.0" fill="#6464ee" />
<line x1="327.15" y1="350.3" x2="327.15" y2="349.90000000000003" stroke="#000" stroke-width="1.0" />
<line x1="325.15" y1="349.90000000000003" x2="329.15" y2="349.90000000000003" stroke="#000" stroke-width="1.1" />
<rect x="332.49999999999994" y="330.7" width="6.2" height="66.60000000000002" stroke="#042804" stroke-width="1.0" fill="#22c022" />
<line x1="335.59999999999997" y1="330.7" x2="335.59999999999997" y2="330.2" stroke="#000" stroke-width="1.0" />
<line x1="333.59999999999997" y1="330.2" x2="337.59999999999997" y2="330.2" stroke="#000" stroke-width="1.1" />
<rect x="340.94999999999993" y="339.8" width="6.2" height="57.5" stroke="#3c0404" stroke-width="1.0" fill="#ee1c1c" />
<line x1="344.04999999999995" y1="339.8" x2="344.04999999999995" y2="338.3" stroke="#000" stroke-width="1.0" />
<line x1="342.04999999999995" y1="338.3" x2="346.04999999999995" y2="338.3" stroke="#000" stroke-width="1.1" />
<line x1="335.59999999999997" y1="397.3" x2="335.59999999999997" y2="400" stroke="#000" stroke-width="1.1" />
<rect x="468.25" y="339.5" width="6.2" height="57.80000000000001" stroke="#0c0c44" stroke-width="1.0" fill="#6464ee" />
<line x1="471.35" y1="339.5" x2="471.35" y2="337.7" stroke="#000" stroke-width="1.0" />
<line x1="469.35" y1="337.7" x2="473.35" y2="337.7" stroke="#000" stroke-width="1.1" />
<rect x="476.55" y="328.4" width="6.2" height="68.90000000000003" stroke="#042804" stroke-width="1.0" fill="#22c022" />
<line x1="479.65000000000003" y1="328.4" x2="479.65000000000003" y2="327.4" stroke="#000" stroke-width="1.0" />
<line x1="477.65000000000003" y1="327.4" x2="481.65000000000003" y2="327.4" stroke="#000" stroke-width="1.1" />
<rect x="484.85" y="331.7" width="6.2" height="65.60000000000002" stroke="#3c0404" stroke-width="1.0" fill="#ee1c1c" />
<line x1="487.95000000000005" y1="331.7" x2="487.95000000000005" y2="330.7" stroke="#000" stroke-width="1.0" />
<line x1="485.95000000000005" y1="330.7" x2="489.95000000000005" y2="330.7" stroke="#000" stroke-width="1.1" />
<line x1="479.65000000000003" y1="397.3" x2="479.65000000000003" y2="400" stroke="#000" stroke-width="1.1" />
<rect x="242.4" y="404.2" width="3.2" height="1.5" stroke="none" stroke-width="0" fill="#111" />
<text x="275.3" y="406.5" font-size="8.0" text-anchor="middle" fill="#000" font-weight="bold" >LPS</text>
<text x="306.8" y="406.5" font-size="8.0" text-anchor="middle" fill="#000" font-weight="bold" >CpG</text>
<text x="337.3" y="406.5" font-size="8.0" text-anchor="middle" fill="#000" font-weight="bold" >PIC</text>
<rect x="386.09999999999997" y="404.4" width="3.2" height="1.5" stroke="none" stroke-width="0" fill="#111" />
<text x="418.8" y="406.5" font-size="8.0" text-anchor="middle" fill="#000" font-weight="bold" >LPS</text>
<text x="450" y="406.5" font-size="8.0" text-anchor="middle" fill="#000" font-weight="bold" >CpG</text>
<text x="481" y="406.5" font-size="8.0" text-anchor="middle" fill="#000" font-weight="bold" >PIC</text>
<rect x="235.29999999999998" y="316.3" width="5.4" height="5.2" stroke="#1c1c48" stroke-width="1.6" fill="#7070e0" />
<rect x="235.29999999999998" y="327.0" width="5.4" height="5.2" stroke="#0a280a" stroke-width="1.6" fill="#30c030" />
<rect x="235.29999999999998" y="337.3" width="5.4" height="5.2" stroke="#300404" stroke-width="1.6" fill="#e82222" />
<text x="244.8" y="320.1" font-size="8.1" text-anchor="start" fill="#000" font-weight="bold" >C57BL/6</text>
<text x="244.8" y="331.0" font-size="8.1" text-anchor="start" fill="#000" font-weight="bold" >IK<tspan dy="-3" font-size="5.4">+/+</tspan><tspan dy="3"> Rag</tspan><tspan dy="-3" font-size="5.4">-/-</tspan></text>
<text x="244.8" y="341.5" font-size="8.1" text-anchor="start" fill="#000" font-weight="bold" >IK<tspan dy="-3" font-size="5.4">L/L</tspan><tspan dy="3"> Rag</tspan><tspan dy="-3" font-size="5.4">-/-</tspan></text>
<text x="4.8" y="443.8" font-size="16.5" text-anchor="start" fill="#000" font-weight="bold" >E</text>
<text x="123.1" y="443.8" font-size="17.0" text-anchor="middle" fill="#000" font-weight="bold" textLength="34.6" lengthAdjust="spacingAndGlyphs">OT-I</text>
<text x="27.2" y="521" font-size="11" text-anchor="start" fill="#000" font-weight="bold" transform="rotate(-90 27.2 521)" >cpm x 10<tspan dy="-4.5" font-size="7.2">-3</tspan></text>
<line x1="56.5" y1="446.6" x2="56.5" y2="563.5" stroke="#000" stroke-width="1.5" />
<line x1="53.3" y1="562.2" x2="56.5" y2="562.2" stroke="#000" stroke-width="1.2" />
<line x1="53.3" y1="533.45" x2="56.5" y2="533.45" stroke="#000" stroke-width="1.2" />
<text x="51.3" y="536.6500000000001" font-size="9.8" text-anchor="end" fill="#000" font-weight="bold" >50</text>
<line x1="53.3" y1="504.70000000000005" x2="56.5" y2="504.70000000000005" stroke="#000" stroke-width="1.2" />
<text x="51.3" y="507.90000000000003" font-size="9.8" text-anchor="end" fill="#000" font-weight="bold" >100</text>
<line x1="53.3" y1="475.95000000000005" x2="56.5" y2="475.95000000000005" stroke="#000" stroke-width="1.2" />
<text x="51.3" y="479.15000000000003" font-size="9.8" text-anchor="end" fill="#000" font-weight="bold" >150</text>
<line x1="53.3" y1="447.20000000000005" x2="56.5" y2="447.20000000000005" stroke="#000" stroke-width="1.2" />
<text x="51.3" y="450.40000000000003" font-size="9.8" text-anchor="end" fill="#000" font-weight="bold" >200</text>
<text x="55.9" y="574.4" font-size="8.2" text-anchor="middle" fill="#000" font-weight="bold" >0.01</text>
<text x="106.4" y="574.4" font-size="8.2" text-anchor="middle" fill="#000" font-weight="bold" >0.1</text>
<text x="156.3" y="574.4" font-size="8.2" text-anchor="middle" fill="#000" font-weight="bold" >1</text>
<text x="207.1" y="574.4" font-size="8.2" text-anchor="middle" fill="#000" font-weight="bold" >10</text>
<text x="98.1" y="587.6" font-size="10.5" text-anchor="start" fill="#000" font-weight="bold" textLength="80.5" lengthAdjust="spacingAndGlyphs">OVA (mg. mL<tspan dy="-4" font-size="7">-1</tspan><tspan dy="4">)</tspan></text>
<line x1="204.9" y1="457.6" x2="204.9" y2="517.2" stroke="#000" stroke-width="1.1" />
<line x1="202.4" y1="457.6" x2="207.4" y2="457.6" stroke="#000" stroke-width="1.1" />
<line x1="202.4" y1="466" x2="207.4" y2="466" stroke="#000" stroke-width="1.1" />
<line x1="202.4" y1="482.6" x2="207.4" y2="482.6" stroke="#000" stroke-width="1.1" />
<line x1="202.4" y1="517.2" x2="207.4" y2="517.2" stroke="#000" stroke-width="1.1" />
<line x1="180.8" y1="463.4" x2="180.8" y2="488.4" stroke="#000" stroke-width="1.1" />
<line x1="178.3" y1="463.4" x2="183.3" y2="463.4" stroke="#000" stroke-width="1.1" />
<line x1="178.3" y1="488.4" x2="183.3" y2="488.4" stroke="#000" stroke-width="1.1" />
<line x1="180.8" y1="514.5" x2="180.8" y2="529.8" stroke="#000" stroke-width="1.1" />
<line x1="178.3" y1="514.5" x2="183.3" y2="514.5" stroke="#000" stroke-width="1.1" />
<line x1="178.3" y1="529.8" x2="183.3" y2="529.8" stroke="#000" stroke-width="1.1" />
<line x1="156.9" y1="526.7" x2="156.9" y2="560" stroke="#000" stroke-width="1.1" />
<line x1="154.4" y1="526.7" x2="159.4" y2="526.7" stroke="#000" stroke-width="1.1" />
<line x1="154.4" y1="560" x2="159.4" y2="560" stroke="#000" stroke-width="1.1" />
<polyline points="109.0,561.5 133.0,550.0 156.9,491.5 180.8,476.0 204.9,473.3" fill="none" stroke="#5a5ae6" stroke-width="1.4"/>
<polyline points="133.0,562.3 156.9,552.9 180.8,498.4 204.9,486.9" fill="none" stroke="#22b022" stroke-width="1.7"/>
<polyline points="109.0,562.3 133.0,560.3 156.9,543.4 180.8,522.5 204.9,492.1" fill="none" stroke="#dd2020" stroke-width="1.7"/>
<line x1="55.8" y1="562.4" x2="211.5" y2="562.4" stroke="#000" stroke-width="1.9" />
<polygon points="133.00,559.70 135.60,562.30 133.00,564.90 130.40,562.30" fill="#fff" stroke="#111" stroke-width="1.1"/>
<polygon points="156.90,559.70 159.50,562.30 156.90,564.90 154.30,562.30" fill="#fff" stroke="#111" stroke-width="1.1"/>
<polygon points="180.80,559.70 183.40,562.30 180.80,564.90 178.20,562.30" fill="#fff" stroke="#111" stroke-width="1.1"/>
<polygon points="204.90,559.70 207.50,562.30 204.90,564.90 202.30,562.30" fill="#fff" stroke="#111" stroke-width="1.1"/>
<polygon points="129.50,559.02 136.50,559.02 133.00,564.98" fill="#1f7f1f" stroke="#062006" stroke-width="1.1"/>
<circle cx="133" cy="560.5" r="3.1" fill="#e01818" stroke="#3a0404" stroke-width="1"/>
<rect x="57.2" y="558.9" width="6.8" height="6.8" stroke="#0c0c0c" stroke-width="1.3" fill="#4a1420" />
<rect x="81.39999999999999" y="558.9" width="6.8" height="6.8" stroke="#0c0c0c" stroke-width="1.3" fill="#4a1420" />
<rect x="105.6" y="558.9" width="6.8" height="6.8" stroke="#0c0c0c" stroke-width="1.3" fill="#4a1420" />
<rect x="129.7" y="546.7" width="6.6" height="6.6" stroke="#14145a" stroke-width="1.0" fill="#6464f0" />
<rect x="153.6" y="488.2" width="6.6" height="6.6" stroke="#14145a" stroke-width="1.0" fill="#6464f0" />
<rect x="177.5" y="472.7" width="6.6" height="6.6" stroke="#14145a" stroke-width="1.0" fill="#6464f0" />
<rect x="201.6" y="470.0" width="6.6" height="6.6" stroke="#14145a" stroke-width="1.0" fill="#6464f0" />
<polygon points="153.40,549.92 160.40,549.92 156.90,555.88" fill="#1f7f1f" stroke="#062006" stroke-width="1.1"/>
<polygon points="177.30,495.42 184.30,495.42 180.80,501.38" fill="#1f7f1f" stroke="#062006" stroke-width="1.1"/>
<polygon points="201.40,483.92 208.40,483.92 204.90,489.88" fill="#1f7f1f" stroke="#062006" stroke-width="1.1"/>
<circle cx="156.9" cy="543.4" r="3.1" fill="#e01818" stroke="#3a0404" stroke-width="1"/>
<circle cx="180.8" cy="522.5" r="3.1" fill="#e01818" stroke="#3a0404" stroke-width="1"/>
<circle cx="204.9" cy="492.1" r="3.1" fill="#e01818" stroke="#3a0404" stroke-width="1"/>
<line x1="65.6" y1="455" x2="80.4" y2="455" stroke="#8080f0" stroke-width="1.1" />
<rect x="69.5" y="451.7" width="6.6" height="6.6" stroke="#14145a" stroke-width="1.0" fill="#6464f0" />
<line x1="65.6" y1="465.3" x2="80.4" y2="465.3" stroke="#50c050" stroke-width="1.1" />
<polygon points="69.30,462.32 76.30,462.32 72.80,468.28" fill="#1f7f1f" stroke="#062006" stroke-width="1.1"/>
<line x1="65.6" y1="476.5" x2="80.4" y2="476.5" stroke="#f05050" stroke-width="1.1" />
<circle cx="72.8" cy="476.5" r="3.1" fill="#e01818" stroke="#3a0404" stroke-width="1"/>
<line x1="65.6" y1="488.8" x2="80.4" y2="488.8" stroke="#111" stroke-width="1.1" />
<polygon points="72.80,486.20 75.40,488.80 72.80,491.40 70.20,488.80" fill="#fff" stroke="#111" stroke-width="1.1"/>
<text x="81.5" y="458.2" font-size="9.0" text-anchor="start" fill="#000" font-weight="bold" >C57BL/6</text>
<text x="81.5" y="468.8" font-size="9.0" text-anchor="start" fill="#000" font-weight="bold" >IK <tspan dy="-3.5" font-size="6">+/+</tspan><tspan dy="3.5"> Rag</tspan><tspan dy="-3.5" font-size="6">-/-</tspan></text>
<text x="81.5" y="480.2" font-size="9.0" text-anchor="start" fill="#000" font-weight="bold" >IK <tspan dy="-3.5" font-size="6">L/L</tspan><tspan dy="3.5"> Rag</tspan><tspan dy="-3.5" font-size="6">-/-</tspan></text>
<text x="81.5" y="492.0" font-size="9.0" text-anchor="start" fill="#000" font-weight="bold" >Without DC</text>
<text x="275.3" y="444.6" font-size="16.5" text-anchor="start" fill="#000" font-weight="bold" >F</text>
<text x="400.2" y="443.6" font-size="17.0" text-anchor="middle" fill="#000" font-weight="bold" textLength="39.4" lengthAdjust="spacingAndGlyphs">OT-II</text>
<text x="298.2" y="521" font-size="11" text-anchor="start" fill="#000" font-weight="bold" transform="rotate(-90 298.2 521)" >cpm x 10<tspan dy="-4.5" font-size="7.2">-3</tspan></text>
<line x1="323.3" y1="451.8" x2="323.3" y2="568.8" stroke="#000" stroke-width="1.4" />
<line x1="320.3" y1="568.1" x2="323.3" y2="568.1" stroke="#000" stroke-width="1.1" />
<line x1="320.3" y1="529.5" x2="323.3" y2="529.5" stroke="#000" stroke-width="1.1" />
<text x="318.6" y="532.6" font-size="9.9" text-anchor="end" fill="#000" font-weight="bold" >100</text>
<line x1="320.3" y1="490.90000000000003" x2="323.3" y2="490.90000000000003" stroke="#000" stroke-width="1.1" />
<text x="318.6" y="494.00000000000006" font-size="9.9" text-anchor="end" fill="#000" font-weight="bold" >200</text>
<line x1="320.3" y1="452.3" x2="323.3" y2="452.3" stroke="#000" stroke-width="1.1" />
<text x="318.6" y="455.40000000000003" font-size="9.9" text-anchor="end" fill="#000" font-weight="bold" >300</text>
<text x="323.9" y="580.0" font-size="8.2" text-anchor="middle" fill="#000" font-weight="bold" >0.01</text>
<text x="374.5" y="580.0" font-size="8.2" text-anchor="middle" fill="#000" font-weight="bold" >0.1</text>
<text x="424.6" y="580.0" font-size="8.2" text-anchor="middle" fill="#000" font-weight="bold" >1</text>
<text x="474.8" y="580.0" font-size="8.2" text-anchor="middle" fill="#000" font-weight="bold" >10</text>
<text x="369.7" y="591.9" font-size="10.5" text-anchor="start" fill="#000" font-weight="bold" textLength="81" lengthAdjust="spacingAndGlyphs">OVA (mg. mL<tspan dy="-4" font-size="7">-1</tspan><tspan dy="4">)</tspan></text>
<line x1="400.8" y1="484" x2="400.8" y2="497" stroke="#000" stroke-width="1.1" />
<line x1="398.3" y1="484" x2="403.3" y2="484" stroke="#000" stroke-width="1.1" />
<line x1="398.3" y1="497" x2="403.3" y2="497" stroke="#000" stroke-width="1.1" />
<line x1="424.6" y1="471" x2="424.6" y2="483.5" stroke="#000" stroke-width="1.1" />
<line x1="422.1" y1="471" x2="427.1" y2="471" stroke="#000" stroke-width="1.1" />
<line x1="422.1" y1="483.5" x2="427.1" y2="483.5" stroke="#000" stroke-width="1.1" />
<line x1="472.7" y1="501.3" x2="472.7" y2="509.9" stroke="#000" stroke-width="1.1" />
<line x1="470.2" y1="501.3" x2="475.2" y2="501.3" stroke="#000" stroke-width="1.1" />
<line x1="470.2" y1="509.9" x2="475.2" y2="509.9" stroke="#000" stroke-width="1.1" />
<line x1="400.8" y1="553" x2="400.8" y2="562" stroke="#000" stroke-width="1.1" />
<line x1="398.3" y1="553" x2="403.3" y2="553" stroke="#000" stroke-width="1.1" />
<line x1="398.3" y1="562" x2="403.3" y2="562" stroke="#000" stroke-width="1.1" />
<line x1="424.6" y1="503" x2="424.6" y2="511" stroke="#000" stroke-width="1.1" />
<line x1="422.1" y1="503" x2="427.1" y2="503" stroke="#000" stroke-width="1.1" />
<line x1="422.1" y1="511" x2="427.1" y2="511" stroke="#000" stroke-width="1.1" />
<polyline points="329.1,563.4 353.0,551.8 376.9,522.1 400.8,491.0 424.6,477.4 448.5,477.4 472.7,481.1" fill="none" stroke="#5a5ae6" stroke-width="1.4"/>
<polyline points="329.1,566.6 353.0,560.5 376.9,550.4 400.8,527.3 424.6,507.9 448.5,504.1 472.7,504.1" fill="none" stroke="#22b022" stroke-width="1.7"/>
<polyline points="329.1,566.5 353.0,566.0 376.9,563.5 400.8,558.0 424.6,535.2 448.5,510.8 472.7,519.4" fill="none" stroke="#dd2020" stroke-width="1.7"/>
<line x1="322.7" y1="568.1" x2="476.4" y2="568.1" stroke="#000" stroke-width="1.9" />
<circle cx="329.1" cy="566.5" r="3.1" fill="#e01818" stroke="#3a0404" stroke-width="1"/>
<circle cx="353" cy="566" r="3.1" fill="#e01818" stroke="#3a0404" stroke-width="1"/>
<circle cx="376.9" cy="563.5" r="3.1" fill="#e01818" stroke="#3a0404" stroke-width="1"/>
<circle cx="400.8" cy="558" r="3.1" fill="#e01818" stroke="#3a0404" stroke-width="1"/>
<circle cx="424.6" cy="535.2" r="3.1" fill="#e01818" stroke="#3a0404" stroke-width="1"/>
<circle cx="448.5" cy="510.8" r="3.1" fill="#e01818" stroke="#3a0404" stroke-width="1"/>
<circle cx="472.7" cy="519.4" r="3.1" fill="#e01818" stroke="#3a0404" stroke-width="1"/>
<polygon points="325.60,563.62 332.60,563.62 329.10,569.58" fill="#1f7f1f" stroke="#062006" stroke-width="1.1"/>
<polygon points="349.50,557.52 356.50,557.52 353.00,563.48" fill="#1f7f1f" stroke="#062006" stroke-width="1.1"/>
<polygon points="373.40,547.42 380.40,547.42 376.90,553.38" fill="#1f7f1f" stroke="#062006" stroke-width="1.1"/>
<polygon points="397.30,524.32 404.30,524.32 400.80,530.27" fill="#1f7f1f" stroke="#062006" stroke-width="1.1"/>
<polygon points="421.10,504.92 428.10,504.92 424.60,510.88" fill="#1f7f1f" stroke="#062006" stroke-width="1.1"/>
<polygon points="445.00,501.12 452.00,501.12 448.50,507.08" fill="#1f7f1f" stroke="#062006" stroke-width="1.1"/>
<polygon points="469.20,501.12 476.20,501.12 472.70,507.08" fill="#1f7f1f" stroke="#062006" stroke-width="1.1"/>
<rect x="325.8" y="560.1" width="6.6" height="6.6" stroke="#14145a" stroke-width="1.0" fill="#6464f0" />
<rect x="349.7" y="548.5" width="6.6" height="6.6" stroke="#14145a" stroke-width="1.0" fill="#6464f0" />
<rect x="373.59999999999997" y="518.8000000000001" width="6.6" height="6.6" stroke="#14145a" stroke-width="1.0" fill="#6464f0" />
<rect x="397.5" y="487.7" width="6.6" height="6.6" stroke="#14145a" stroke-width="1.0" fill="#6464f0" />
<rect x="421.3" y="474.09999999999997" width="6.6" height="6.6" stroke="#14145a" stroke-width="1.0" fill="#6464f0" />
<rect x="445.2" y="474.09999999999997" width="6.6" height="6.6" stroke="#14145a" stroke-width="1.0" fill="#6464f0" />
<rect x="469.4" y="477.8" width="6.6" height="6.6" stroke="#14145a" stroke-width="1.0" fill="#6464f0" />
<polygon points="329.10,565.70 331.70,568.30 329.10,570.90 326.50,568.30" fill="#fff" stroke="#111" stroke-width="1.1"/>
<polygon points="353.00,565.70 355.60,568.30 353.00,570.90 350.40,568.30" fill="#fff" stroke="#111" stroke-width="1.1"/>
<polygon points="376.90,565.70 379.50,568.30 376.90,570.90 374.30,568.30" fill="#fff" stroke="#111" stroke-width="1.1"/>
<polygon points="400.80,565.70 403.40,568.30 400.80,570.90 398.20,568.30" fill="#fff" stroke="#111" stroke-width="1.1"/>
<polygon points="424.60,565.70 427.20,568.30 424.60,570.90 422.00,568.30" fill="#fff" stroke="#111" stroke-width="1.1"/>
<polygon points="448.50,565.70 451.10,568.30 448.50,570.90 445.90,568.30" fill="#fff" stroke="#111" stroke-width="1.1"/>
<polygon points="472.70,565.70 475.30,568.30 472.70,570.90 470.10,568.30" fill="#fff" stroke="#111" stroke-width="1.1"/></svg></body></html>
